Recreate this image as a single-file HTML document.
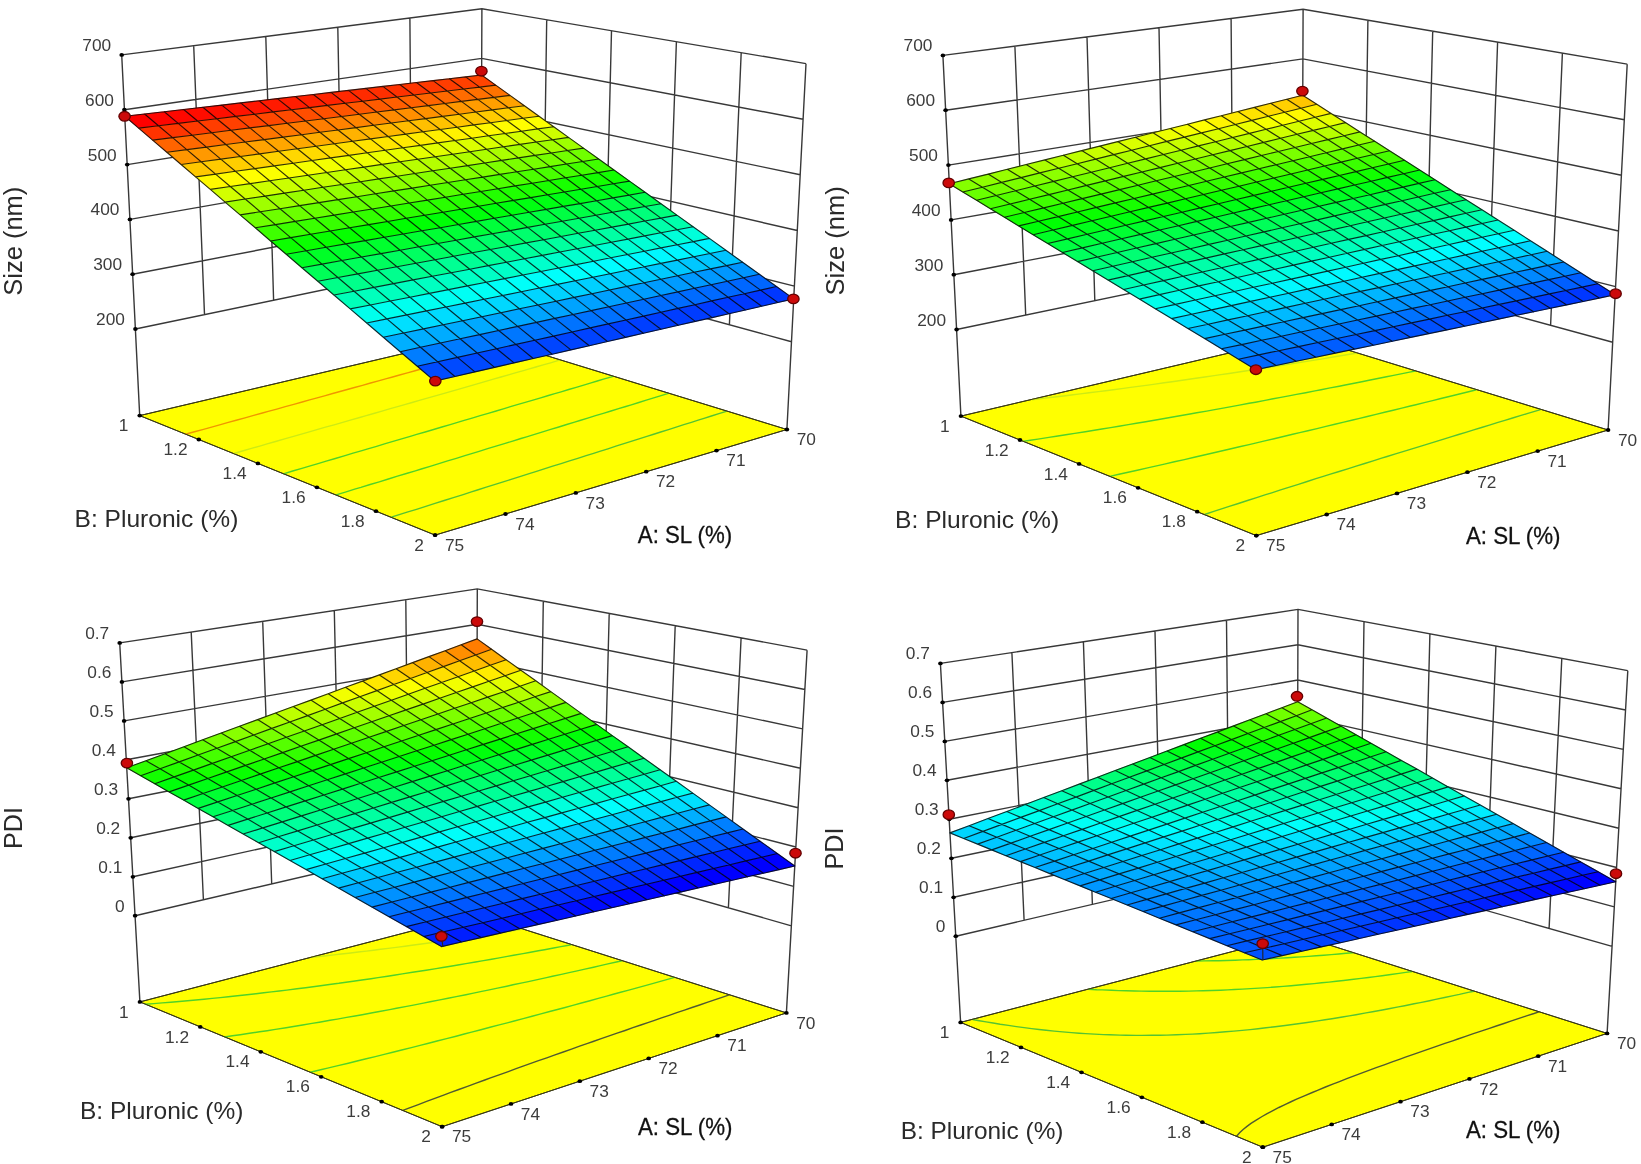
<!DOCTYPE html>
<html><head><meta charset="utf-8"><title>Response surface plots</title>
<style>
html,body{margin:0;padding:0;background:#fff;}
body{width:1641px;height:1164px;overflow:hidden;font-family:"Liberation Sans",Arial,sans-serif;}
svg{display:block;filter:blur(0.4px);}
</style></head><body>
<svg width="1641" height="1164" viewBox="0 0 1641 1164" font-family="'Liberation Sans', Arial, sans-serif">
<g><path d="M135.4 329.0L480.9 257.0L791.5 341.7M132.6 274.2L481.1 207.4L794.4 286.1M129.9 219.4L481.3 157.7L797.3 230.5M127.2 164.6L481.5 108.1L800.2 174.8M124.4 109.7L481.7 58.4L803.1 119.2M121.7 54.9L481.9 8.8L806.0 63.6M409.9 18.0L411.8 271.4M546.7 19.8L543.0 274.0M337.8 27.2L342.7 285.8M611.5 30.7L605.1 290.9M265.8 36.5L273.6 300.2M676.4 41.7L667.2 307.8M193.7 45.7L204.5 314.6M741.2 52.6L729.4 324.8M121.7 54.9L139.7 415.6M481.9 8.8L480.6 335.4M806.0 63.6L786.9 429.5" fill="none" stroke="#383838" stroke-width="1.4"/>
<polygon points="139.7,415.6 480.6,335.4 786.9,429.5 435.1,535.1" fill="#ffff00" stroke="#3a3a14" stroke-width="1"/>
<path d="M391.3 517.2L400.8 514.2L407.1 512.2L416.5 509.3L425.8 506.3L435.0 503.4L444.2 500.5L453.4 497.6L462.4 494.8L471.4 491.9L477.4 490.0L486.3 487.2L495.2 484.4L504.0 481.6L512.7 478.9L521.4 476.1L530.0 473.4L535.7 471.6L544.2 468.9L552.7 466.2L561.1 463.6L569.5 460.9L577.8 458.3L586.1 455.7L593.6 453.3L599.7 451.3L607.9 448.8L615.9 446.2L623.9 443.7L631.9 441.2L639.8 438.6L647.7 436.2L652.9 434.5L660.7 432.0L668.5 429.6L676.2 427.1L683.8 424.7L691.4 422.3L699.0 419.9L704.0 418.3L711.4 416.0L718.9 413.6L726.3 411.3L726.3 411.3" fill="none" stroke="#55c332" stroke-width="1.4"/>
<path d="M336.0 494.9L345.4 492.1L354.7 489.2L360.9 487.4L370.1 484.5L379.3 481.8L388.4 479.0L397.5 476.2L406.4 473.5L415.4 470.8L421.3 469.0L430.1 466.3L438.9 463.6L447.6 460.9L456.3 458.3L464.9 455.6L473.3 453.1L479.1 451.3L487.6 448.7L496.0 446.2L504.4 443.6L512.7 441.1L520.9 438.5L526.6 436.8L534.6 434.4L542.7 431.9L550.7 429.4L558.8 427.0L566.7 424.5L574.6 422.1L579.9 420.5L587.7 418.1L595.5 415.7L603.3 413.4L611.0 411.0L618.6 408.7L625.8 406.5L631.3 404.8L638.8 402.5L646.3 400.2L653.7 397.9L661.1 395.7L668.4 393.4L668.4 393.4" fill="none" stroke="#50d228" stroke-width="1.4"/>
<path d="M283.4 473.8L292.7 471.0L301.9 468.3L311.1 465.6L317.2 463.8L326.2 461.1L335.3 458.5L344.2 455.8L353.1 453.2L362.0 450.6L367.8 448.9L376.6 446.3L385.3 443.7L393.9 441.2L402.5 438.6L411.1 436.1L416.7 434.4L425.2 432.0L433.6 429.5L441.9 427.0L450.2 424.6L458.4 422.1L464.2 420.4L472.1 418.1L480.2 415.7L488.2 413.3L496.2 411.0L504.2 408.6L510.5 406.7L517.3 404.7L525.2 402.4L533.0 400.1L540.7 397.8L548.4 395.5L554.8 393.6L561.1 391.8L568.7 389.5L576.2 387.3L583.7 385.1L591.1 382.9L597.3 381.0L603.4 379.2L610.7 377.1L613.1 376.3" fill="none" stroke="#50d228" stroke-width="1.4"/>
<path d="M233.2 453.6L242.4 451.0L251.5 448.4L260.6 445.8L267.1 443.9L275.6 441.5L284.6 438.9L293.5 436.4L302.3 433.9L311.0 431.4L316.9 429.7L325.5 427.2L334.1 424.8L342.7 422.3L351.2 419.9L359.7 417.5L365.3 415.9L373.7 413.5L382.0 411.1L390.3 408.7L398.5 406.4L405.5 404.4L412.1 402.5L420.2 400.2L428.2 397.9L436.2 395.6L444.2 393.3L449.4 391.8L457.3 389.6L465.1 387.3L472.9 385.1L480.6 382.9L488.3 380.7L493.4 379.2L501.0 377.0L508.5 374.9L516.1 372.7L523.5 370.6L528.5 369.1L535.9 367.0L543.2 364.9L550.6 362.8L557.8 360.7L560.2 360.0" fill="none" stroke="#cdeb14" stroke-width="1.4"/>
<path d="M185.3 434.3L194.5 431.8L203.5 429.3L212.5 426.8L221.4 424.4L227.4 422.7L236.2 420.3L245.0 417.8L253.7 415.4L262.4 413.0L268.2 411.4L276.8 409.1L285.3 406.7L293.8 404.3L302.2 402.0L309.6 399.9L316.2 398.1L324.5 395.8L332.7 393.5L340.9 391.3L349.1 389.0L354.5 387.5L362.5 385.3L370.6 383.0L378.5 380.8L386.5 378.6L391.7 377.2L399.6 375.0L407.4 372.8L415.1 370.7L422.8 368.5L427.9 367.1L435.6 365.0L443.2 362.9L450.7 360.8L458.2 358.7L463.8 357.1L470.6 355.2L478.0 353.2L485.4 351.1L492.7 349.1L499.1 347.3L504.8 345.7L509.6 344.4" fill="none" stroke="#f09600" stroke-width="1.4"/>
<polygon points="139.7,415.6 480.6,335.4 786.9,429.5 435.1,535.1" fill="none" stroke="#3a3a14" stroke-width="1"/>
<g fill="#000"><ellipse cx="135.4" cy="329.0" rx="2.3" ry="1.9"/><ellipse cx="132.6" cy="274.2" rx="2.3" ry="1.9"/><ellipse cx="129.9" cy="219.4" rx="2.3" ry="1.9"/><ellipse cx="127.2" cy="164.6" rx="2.3" ry="1.9"/><ellipse cx="124.4" cy="109.7" rx="2.3" ry="1.9"/><ellipse cx="121.7" cy="54.9" rx="2.3" ry="1.9"/><ellipse cx="139.7" cy="415.6" rx="2.3" ry="1.9"/><ellipse cx="198.8" cy="439.5" rx="2.3" ry="1.9"/><ellipse cx="257.9" cy="463.4" rx="2.3" ry="1.9"/><ellipse cx="316.9" cy="487.3" rx="2.3" ry="1.9"/><ellipse cx="376.0" cy="511.2" rx="2.3" ry="1.9"/><ellipse cx="435.1" cy="535.1" rx="2.3" ry="1.9"/><ellipse cx="786.9" cy="429.5" rx="2.3" ry="1.9"/><ellipse cx="716.5" cy="450.6" rx="2.3" ry="1.9"/><ellipse cx="646.2" cy="471.7" rx="2.3" ry="1.9"/><ellipse cx="575.8" cy="492.9" rx="2.3" ry="1.9"/><ellipse cx="505.5" cy="514.0" rx="2.3" ry="1.9"/><ellipse cx="435.1" cy="535.1" rx="2.3" ry="1.9"/></g>
<g font-size="17.3" fill="#3c3c3c"><text x="124.9" y="325.0" text-anchor="end">200</text><text x="122.1" y="270.2" text-anchor="end">300</text><text x="119.4" y="215.4" text-anchor="end">400</text><text x="116.7" y="160.6" text-anchor="end">500</text><text x="113.9" y="105.7" text-anchor="end">600</text><text x="111.2" y="50.9" text-anchor="end">700</text><text x="128.4" y="431.2" text-anchor="end">1</text><text x="187.5" y="455.1" text-anchor="end">1.2</text><text x="246.6" y="479.0" text-anchor="end">1.4</text><text x="305.6" y="502.9" text-anchor="end">1.6</text><text x="364.7" y="526.8" text-anchor="end">1.8</text><text x="423.8" y="550.7" text-anchor="end">2</text><text x="796.7" y="445.1">70</text><text x="726.3" y="466.2">71</text><text x="656.0" y="487.3">72</text><text x="585.6" y="508.5">73</text><text x="515.3" y="529.6">74</text><text x="444.9" y="550.7">75</text></g>
<g stroke-width="0.7" stroke-linejoin="round"><polygon points="481.6,75.0 465.6,76.9 479.7,87.1 495.7,85.1" fill="#ff4400" stroke="#ff4400"/><polygon points="495.7,85.1 479.7,87.1 494.0,97.4 510.0,95.4" fill="#ff7300" stroke="#ff7300"/><polygon points="465.6,76.9 449.4,78.7 463.6,89.0 479.7,87.1" fill="#ff4000" stroke="#ff4000"/><polygon points="510.0,95.4 494.0,97.4 508.4,107.8 524.4,105.7" fill="#ffa200" stroke="#ffa200"/><polygon points="479.7,87.1 463.6,89.0 477.8,99.4 494.0,97.4" fill="#ff7000" stroke="#ff7000"/><polygon points="449.4,78.7 433.1,80.6 447.2,91.0 463.6,89.0" fill="#ff3d00" stroke="#ff3d00"/><polygon points="524.4,105.7 508.4,107.8 523.0,118.3 539.0,116.2" fill="#ffd100" stroke="#ffd100"/><polygon points="494.0,97.4 477.8,99.4 492.2,109.9 508.4,107.8" fill="#ff9f00" stroke="#ff9f00"/><polygon points="463.6,89.0 447.2,91.0 461.4,101.4 477.8,99.4" fill="#ff6c00" stroke="#ff6c00"/><polygon points="433.1,80.6 416.5,82.5 430.6,93.0 447.2,91.0" fill="#ff3900" stroke="#ff3900"/><polygon points="539.0,116.2 523.0,118.3 537.7,128.9 553.7,126.7" fill="#fdff00" stroke="#fdff00"/><polygon points="508.4,107.8 492.2,109.9 506.8,120.5 523.0,118.3" fill="#ffce00" stroke="#ffce00"/><polygon points="477.8,99.4 461.4,101.4 475.8,112.0 492.2,109.9" fill="#ff9c00" stroke="#ff9c00"/><polygon points="447.2,91.0 430.6,93.0 444.9,103.5 461.4,101.4" fill="#ff6900" stroke="#ff6900"/><polygon points="416.5,82.5 399.8,84.5 413.9,95.0 430.6,93.0" fill="#ff3600" stroke="#ff3600"/><polygon points="553.7,126.7 537.7,128.9 552.5,139.7 568.5,137.4" fill="#ceff00" stroke="#ceff00"/><polygon points="523.0,118.3 506.8,120.5 521.5,131.2 537.7,128.9" fill="#fffe00" stroke="#fffe00"/><polygon points="492.2,109.9 475.8,112.0 490.4,122.7 506.8,120.5" fill="#ffcb00" stroke="#ffcb00"/><polygon points="461.4,101.4 444.9,103.5 459.3,114.2 475.8,112.0" fill="#ff9800" stroke="#ff9800"/><polygon points="430.6,93.0 413.9,95.0 428.2,105.6 444.9,103.5" fill="#ff6500" stroke="#ff6500"/><polygon points="399.8,84.5 382.9,86.4 397.0,97.0 413.9,95.0" fill="#ff3200" stroke="#ff3200"/><polygon points="568.5,137.4 552.5,139.7 567.5,150.5 583.5,148.1" fill="#9fff00" stroke="#9fff00"/><polygon points="537.7,128.9 521.5,131.2 536.3,142.0 552.5,139.7" fill="#d1ff00" stroke="#d1ff00"/><polygon points="506.8,120.5 490.4,122.7 505.1,133.5 521.5,131.2" fill="#fffb00" stroke="#fffb00"/><polygon points="475.8,112.0 459.3,114.2 473.8,124.9 490.4,122.7" fill="#ffc800" stroke="#ffc800"/><polygon points="444.9,103.5 428.2,105.6 442.6,116.4 459.3,114.2" fill="#ff9500" stroke="#ff9500"/><polygon points="413.9,95.0 397.0,97.0 411.2,107.7 428.2,105.6" fill="#ff6200" stroke="#ff6200"/><polygon points="382.9,86.4 365.8,88.4 379.9,99.1 397.0,97.0" fill="#ff2f00" stroke="#ff2f00"/><polygon points="583.5,148.1 567.5,150.5 582.7,161.5 598.7,159.0" fill="#70ff00" stroke="#70ff00"/><polygon points="552.5,139.7 536.3,142.0 551.3,153.0 567.5,150.5" fill="#a2ff00" stroke="#a2ff00"/><polygon points="521.5,131.2 505.1,133.5 520.0,144.4 536.3,142.0" fill="#d4ff00" stroke="#d4ff00"/><polygon points="490.4,122.7 473.8,124.9 488.5,135.8 505.1,133.5" fill="#fff800" stroke="#fff800"/><polygon points="459.3,114.2 442.6,116.4 457.1,127.2 473.8,124.9" fill="#ffc500" stroke="#ffc500"/><polygon points="428.2,105.6 411.2,107.7 425.6,118.6 442.6,116.4" fill="#ff9200" stroke="#ff9200"/><polygon points="397.0,97.0 379.9,99.1 394.1,109.9 411.2,107.7" fill="#ff5f00" stroke="#ff5f00"/><polygon points="365.8,88.4 348.5,90.4 362.6,101.2 379.9,99.1" fill="#ff2b00" stroke="#ff2b00"/><polygon points="598.7,159.0 582.7,161.5 598.0,172.6 614.0,170.0" fill="#40ff00" stroke="#40ff00"/><polygon points="567.5,150.5 551.3,153.0 566.5,164.0 582.7,161.5" fill="#72ff00" stroke="#72ff00"/><polygon points="536.3,142.0 520.0,144.4 535.0,155.4 551.3,153.0" fill="#a4ff00" stroke="#a4ff00"/><polygon points="505.1,133.5 488.5,135.8 503.4,146.8 520.0,144.4" fill="#d7ff00" stroke="#d7ff00"/><polygon points="473.8,124.9 457.1,127.2 471.8,138.2 488.5,135.8" fill="#fff500" stroke="#fff500"/><polygon points="442.6,116.4 425.6,118.6 440.2,129.5 457.1,127.2" fill="#ffc200" stroke="#ffc200"/><polygon points="411.2,107.7 394.1,109.9 408.5,120.8 425.6,118.6" fill="#ff8f00" stroke="#ff8f00"/><polygon points="379.9,99.1 362.6,101.2 376.8,112.0 394.1,109.9" fill="#ff5b00" stroke="#ff5b00"/><polygon points="348.5,90.4 331.0,92.4 345.1,103.3 362.6,101.2" fill="#ff2800" stroke="#ff2800"/><polygon points="614.0,170.0 598.0,172.6 613.5,183.8 629.5,181.1" fill="#11ff00" stroke="#11ff00"/><polygon points="582.7,161.5 566.5,164.0 581.8,175.2 598.0,172.6" fill="#43ff00" stroke="#43ff00"/><polygon points="551.3,153.0 535.0,155.4 550.1,166.6 566.5,164.0" fill="#75ff00" stroke="#75ff00"/><polygon points="520.0,144.4 503.4,146.8 518.4,157.9 535.0,155.4" fill="#a7ff00" stroke="#a7ff00"/><polygon points="488.5,135.8 471.8,138.2 486.6,149.3 503.4,146.8" fill="#daff00" stroke="#daff00"/><polygon points="457.1,127.2 440.2,129.5 454.9,140.5 471.8,138.2" fill="#fff200" stroke="#fff200"/><polygon points="425.6,118.6 408.5,120.8 423.0,131.8 440.2,129.5" fill="#ffbf00" stroke="#ffbf00"/><polygon points="394.1,109.9 376.8,112.0 391.2,123.0 408.5,120.8" fill="#ff8b00" stroke="#ff8b00"/><polygon points="362.6,101.2 345.1,103.3 359.3,114.2 376.8,112.0" fill="#ff5800" stroke="#ff5800"/><polygon points="331.0,92.4 313.4,94.5 327.4,105.4 345.1,103.3" fill="#ff2400" stroke="#ff2400"/><polygon points="629.5,181.1 613.5,183.8 629.1,195.1 645.1,192.3" fill="#00ff1e" stroke="#00ff1e"/><polygon points="598.0,172.6 581.8,175.2 597.3,186.5 613.5,183.8" fill="#13ff00" stroke="#13ff00"/><polygon points="566.5,164.0 550.1,166.6 565.5,177.8 581.8,175.2" fill="#45ff00" stroke="#45ff00"/><polygon points="535.0,155.4 518.4,157.9 533.6,169.2 550.1,166.6" fill="#77ff00" stroke="#77ff00"/><polygon points="503.4,146.8 486.6,149.3 501.6,160.4 518.4,157.9" fill="#aaff00" stroke="#aaff00"/><polygon points="471.8,138.2 454.9,140.5 469.7,151.7 486.6,149.3" fill="#dcff00" stroke="#dcff00"/><polygon points="440.2,129.5 423.0,131.8 437.7,142.9 454.9,140.5" fill="#ffef00" stroke="#ffef00"/><polygon points="408.5,120.8 391.2,123.0 405.7,134.1 423.0,131.8" fill="#ffbc00" stroke="#ffbc00"/><polygon points="376.8,112.0 359.3,114.2 373.7,125.3 391.2,123.0" fill="#ff8800" stroke="#ff8800"/><polygon points="345.1,103.3 327.4,105.4 341.6,116.5 359.3,114.2" fill="#ff5500" stroke="#ff5500"/><polygon points="313.4,94.5 295.5,96.5 309.5,107.6 327.4,105.4" fill="#ff2100" stroke="#ff2100"/><polygon points="645.1,192.3 629.1,195.1 645.0,206.5 661.0,203.7" fill="#00ff4d" stroke="#00ff4d"/><polygon points="613.5,183.8 597.3,186.5 613.0,197.9 629.1,195.1" fill="#00ff1c" stroke="#00ff1c"/><polygon points="581.8,175.2 565.5,177.8 580.9,189.2 597.3,186.5" fill="#16ff00" stroke="#16ff00"/><polygon points="550.1,166.6 533.6,169.2 548.9,180.5 565.5,177.8" fill="#48ff00" stroke="#48ff00"/><polygon points="518.4,157.9 501.6,160.4 516.8,171.8 533.6,169.2" fill="#7aff00" stroke="#7aff00"/><polygon points="486.6,149.3 469.7,151.7 484.7,163.0 501.6,160.4" fill="#adff00" stroke="#adff00"/><polygon points="454.9,140.5 437.7,142.9 452.6,154.2 469.7,151.7" fill="#dfff00" stroke="#dfff00"/><polygon points="423.0,131.8 405.7,134.1 420.4,145.4 437.7,142.9" fill="#ffec00" stroke="#ffec00"/><polygon points="391.2,123.0 373.7,125.3 388.2,136.5 405.7,134.1" fill="#ffb800" stroke="#ffb800"/><polygon points="359.3,114.2 341.6,116.5 356.0,127.6 373.7,125.3" fill="#ff8500" stroke="#ff8500"/><polygon points="327.4,105.4 309.5,107.6 323.7,118.7 341.6,116.5" fill="#ff5100" stroke="#ff5100"/><polygon points="295.5,96.5 277.4,98.6 291.4,109.7 309.5,107.6" fill="#ff1d00" stroke="#ff1d00"/><polygon points="661.0,203.7 645.0,206.5 660.9,218.1 676.9,215.1" fill="#00ff7d" stroke="#00ff7d"/><polygon points="629.1,195.1 613.0,197.9 628.8,209.4 645.0,206.5" fill="#00ff4b" stroke="#00ff4b"/><polygon points="597.3,186.5 580.9,189.2 596.6,200.7 613.0,197.9" fill="#00ff1a" stroke="#00ff1a"/><polygon points="565.5,177.8 548.9,180.5 564.4,192.0 580.9,189.2" fill="#18ff00" stroke="#18ff00"/><polygon points="533.6,169.2 516.8,171.8 532.1,183.2 548.9,180.5" fill="#4aff00" stroke="#4aff00"/><polygon points="501.6,160.4 484.7,163.0 499.9,174.4 516.8,171.8" fill="#7dff00" stroke="#7dff00"/><polygon points="469.7,151.7 452.6,154.2 467.6,165.6 484.7,163.0" fill="#afff00" stroke="#afff00"/><polygon points="437.7,142.9 420.4,145.4 435.2,156.7 452.6,154.2" fill="#e2ff00" stroke="#e2ff00"/><polygon points="405.7,134.1 388.2,136.5 402.9,147.8 420.4,145.4" fill="#ffe900" stroke="#ffe900"/><polygon points="373.7,125.3 356.0,127.6 370.5,138.9 388.2,136.5" fill="#ffb500" stroke="#ffb500"/><polygon points="341.6,116.5 323.7,118.7 338.0,130.0 356.0,127.6" fill="#ff8200" stroke="#ff8200"/><polygon points="309.5,107.6 291.4,109.7 305.6,121.0 323.7,118.7" fill="#ff4e00" stroke="#ff4e00"/><polygon points="277.4,98.6 259.1,100.8 273.1,111.9 291.4,109.7" fill="#ff1a00" stroke="#ff1a00"/><polygon points="676.9,215.1 660.9,218.1 677.1,229.8 693.1,226.7" fill="#00ffac" stroke="#00ffac"/><polygon points="645.0,206.5 628.8,209.4 644.8,221.0 660.9,218.1" fill="#00ff7b" stroke="#00ff7b"/><polygon points="613.0,197.9 596.6,200.7 612.4,212.3 628.8,209.4" fill="#00ff49" stroke="#00ff49"/><polygon points="580.9,189.2 564.4,192.0 580.0,203.6 596.6,200.7" fill="#00ff17" stroke="#00ff17"/><polygon points="548.9,180.5 532.1,183.2 547.6,194.8 564.4,192.0" fill="#1bff00" stroke="#1bff00"/><polygon points="516.8,171.8 499.9,174.4 515.2,185.9 532.1,183.2" fill="#4dff00" stroke="#4dff00"/><polygon points="484.7,163.0 467.6,165.6 482.7,177.1 499.9,174.4" fill="#7fff00" stroke="#7fff00"/><polygon points="452.6,154.2 435.2,156.7 450.2,168.2 467.6,165.6" fill="#b2ff00" stroke="#b2ff00"/><polygon points="420.4,145.4 402.9,147.8 417.7,159.3 435.2,156.7" fill="#e5ff00" stroke="#e5ff00"/><polygon points="388.2,136.5 370.5,138.9 385.1,150.3 402.9,147.8" fill="#ffe600" stroke="#ffe600"/><polygon points="356.0,127.6 338.0,130.0 352.5,141.3 370.5,138.9" fill="#ffb200" stroke="#ffb200"/><polygon points="323.7,118.7 305.6,121.0 319.9,132.3 338.0,130.0" fill="#ff7e00" stroke="#ff7e00"/><polygon points="291.4,109.7 273.1,111.9 287.2,123.3 305.6,121.0" fill="#ff4a00" stroke="#ff4a00"/><polygon points="259.1,100.8 240.6,102.9 254.6,114.2 273.1,111.9" fill="#ff1600" stroke="#ff1600"/><polygon points="693.1,226.7 677.1,229.8 693.4,241.6 709.4,238.4" fill="#00ffdb" stroke="#00ffdb"/><polygon points="660.9,218.1 644.8,221.0 660.9,232.8 677.1,229.8" fill="#00ffaa" stroke="#00ffaa"/><polygon points="628.8,209.4 612.4,212.3 628.4,224.1 644.8,221.0" fill="#00ff79" stroke="#00ff79"/><polygon points="596.6,200.7 580.0,203.6 595.9,215.3 612.4,212.3" fill="#00ff47" stroke="#00ff47"/><polygon points="564.4,192.0 547.6,194.8 563.3,206.4 580.0,203.6" fill="#00ff15" stroke="#00ff15"/><polygon points="532.1,183.2 515.2,185.9 530.7,197.6 547.6,194.8" fill="#1dff00" stroke="#1dff00"/><polygon points="499.9,174.4 482.7,177.1 498.0,188.7 515.2,185.9" fill="#4fff00" stroke="#4fff00"/><polygon points="467.6,165.6 450.2,168.2 465.4,179.8 482.7,177.1" fill="#82ff00" stroke="#82ff00"/><polygon points="435.2,156.7 417.7,159.3 432.7,170.8 450.2,168.2" fill="#b5ff00" stroke="#b5ff00"/><polygon points="402.9,147.8 385.1,150.3 399.9,161.8 417.7,159.3" fill="#e8ff00" stroke="#e8ff00"/><polygon points="370.5,138.9 352.5,141.3 367.2,152.8 385.1,150.3" fill="#ffe300" stroke="#ffe300"/><polygon points="338.0,130.0 319.9,132.3 334.4,143.8 352.5,141.3" fill="#ffaf00" stroke="#ffaf00"/><polygon points="305.6,121.0 287.2,123.3 301.6,134.7 319.9,132.3" fill="#ff7b00" stroke="#ff7b00"/><polygon points="273.1,111.9 254.6,114.2 268.7,125.6 287.2,123.3" fill="#ff4700" stroke="#ff4700"/><polygon points="240.6,102.9 221.8,105.1 235.8,116.4 254.6,114.2" fill="#ff1300" stroke="#ff1300"/><polygon points="709.4,238.4 693.4,241.6 709.9,253.5 725.9,250.3" fill="#00f4ff" stroke="#00f4ff"/><polygon points="677.1,229.8 660.9,232.8 677.3,244.7 693.4,241.6" fill="#00ffd9" stroke="#00ffd9"/><polygon points="644.8,221.0 628.4,224.1 644.6,235.9 660.9,232.8" fill="#00ffa8" stroke="#00ffa8"/><polygon points="612.4,212.3 595.9,215.3 611.9,227.1 628.4,224.1" fill="#00ff77" stroke="#00ff77"/><polygon points="580.0,203.6 563.3,206.4 579.1,218.3 595.9,215.3" fill="#00ff45" stroke="#00ff45"/><polygon points="547.6,194.8 530.7,197.6 546.3,209.4 563.3,206.4" fill="#00ff13" stroke="#00ff13"/><polygon points="515.2,185.9 498.0,188.7 513.5,200.4 530.7,197.6" fill="#1fff00" stroke="#1fff00"/><polygon points="482.7,177.1 465.4,179.8 480.7,191.5 498.0,188.7" fill="#52ff00" stroke="#52ff00"/><polygon points="450.2,168.2 432.7,170.8 447.8,182.5 465.4,179.8" fill="#85ff00" stroke="#85ff00"/><polygon points="417.7,159.3 399.9,161.8 414.9,173.5 432.7,170.8" fill="#b8ff00" stroke="#b8ff00"/><polygon points="385.1,150.3 367.2,152.8 382.0,164.4 399.9,161.8" fill="#ebff00" stroke="#ebff00"/><polygon points="352.5,141.3 334.4,143.8 349.0,155.4 367.2,152.8" fill="#ffe000" stroke="#ffe000"/><polygon points="319.9,132.3 301.6,134.7 316.0,146.3 334.4,143.8" fill="#ffac00" stroke="#ffac00"/><polygon points="287.2,123.3 268.7,125.6 283.0,137.1 301.6,134.7" fill="#ff7800" stroke="#ff7800"/><polygon points="254.6,114.2 235.8,116.4 249.9,127.9 268.7,125.6" fill="#ff4400" stroke="#ff4400"/><polygon points="221.8,105.1 202.9,107.3 216.8,118.7 235.8,116.4" fill="#ff0f00" stroke="#ff0f00"/><polygon points="725.9,250.3 709.9,253.5 726.6,265.6 742.6,262.2" fill="#00c4ff" stroke="#00c4ff"/><polygon points="693.4,241.6 677.3,244.7 693.8,256.8 709.9,253.5" fill="#00f5ff" stroke="#00f5ff"/><polygon points="660.9,232.8 644.6,235.9 660.9,247.9 677.3,244.7" fill="#00ffd8" stroke="#00ffd8"/><polygon points="628.4,224.1 611.9,227.1 628.0,239.1 644.6,235.9" fill="#00ffa6" stroke="#00ffa6"/><polygon points="595.9,215.3 579.1,218.3 595.1,230.2 611.9,227.1" fill="#00ff75" stroke="#00ff75"/><polygon points="563.3,206.4 546.3,209.4 562.2,221.3 579.1,218.3" fill="#00ff43" stroke="#00ff43"/><polygon points="530.7,197.6 513.5,200.4 529.2,212.3 546.3,209.4" fill="#00ff11" stroke="#00ff11"/><polygon points="498.0,188.7 480.7,191.5 496.2,203.3 513.5,200.4" fill="#22ff00" stroke="#22ff00"/><polygon points="465.4,179.8 447.8,182.5 463.1,194.3 480.7,191.5" fill="#54ff00" stroke="#54ff00"/><polygon points="432.7,170.8 414.9,173.5 430.1,185.3 447.8,182.5" fill="#87ff00" stroke="#87ff00"/><polygon points="399.9,161.8 382.0,164.4 397.0,176.2 414.9,173.5" fill="#baff00" stroke="#baff00"/><polygon points="367.2,152.8 349.0,155.4 363.8,167.1 382.0,164.4" fill="#eeff00" stroke="#eeff00"/><polygon points="334.4,143.8 316.0,146.3 330.6,157.9 349.0,155.4" fill="#ffdd00" stroke="#ffdd00"/><polygon points="301.6,134.7 283.0,137.1 297.4,148.8 316.0,146.3" fill="#ffa900" stroke="#ffa900"/><polygon points="268.7,125.6 249.9,127.9 264.2,139.6 283.0,137.1" fill="#ff7500" stroke="#ff7500"/><polygon points="235.8,116.4 216.8,118.7 230.9,130.3 249.9,127.9" fill="#ff4000" stroke="#ff4000"/><polygon points="202.9,107.3 183.7,109.5 197.6,121.0 216.8,118.7" fill="#ff0c00" stroke="#ff0c00"/><polygon points="742.6,262.2 726.6,265.6 743.5,277.7 759.4,274.3" fill="#0095ff" stroke="#0095ff"/><polygon points="709.9,253.5 693.8,256.8 710.5,268.9 726.6,265.6" fill="#00c6ff" stroke="#00c6ff"/><polygon points="677.3,244.7 660.9,247.9 677.4,260.1 693.8,256.8" fill="#00f7ff" stroke="#00f7ff"/><polygon points="644.6,235.9 628.0,239.1 644.4,251.2 660.9,247.9" fill="#00ffd6" stroke="#00ffd6"/><polygon points="611.9,227.1 595.1,230.2 611.3,242.3 628.0,239.1" fill="#00ffa4" stroke="#00ffa4"/><polygon points="579.1,218.3 562.2,221.3 578.2,233.3 595.1,230.2" fill="#00ff73" stroke="#00ff73"/><polygon points="546.3,209.4 529.2,212.3 545.0,224.3 562.2,221.3" fill="#00ff41" stroke="#00ff41"/><polygon points="513.5,200.4 496.2,203.3 511.8,215.3 529.2,212.3" fill="#00ff0f" stroke="#00ff0f"/><polygon points="480.7,191.5 463.1,194.3 478.6,206.3 496.2,203.3" fill="#24ff00" stroke="#24ff00"/><polygon points="447.8,182.5 430.1,185.3 445.4,197.2 463.1,194.3" fill="#57ff00" stroke="#57ff00"/><polygon points="414.9,173.5 397.0,176.2 412.1,188.1 430.1,185.3" fill="#8aff00" stroke="#8aff00"/><polygon points="382.0,164.4 363.8,167.1 378.8,178.9 397.0,176.2" fill="#bdff00" stroke="#bdff00"/><polygon points="349.0,155.4 330.6,157.9 345.4,169.8 363.8,167.1" fill="#f0ff00" stroke="#f0ff00"/><polygon points="316.0,146.3 297.4,148.8 312.0,160.5 330.6,157.9" fill="#ffda00" stroke="#ffda00"/><polygon points="283.0,137.1 264.2,139.6 278.6,151.3 297.4,148.8" fill="#ffa600" stroke="#ffa600"/><polygon points="249.9,127.9 230.9,130.3 245.2,142.0 264.2,139.6" fill="#ff7100" stroke="#ff7100"/><polygon points="216.8,118.7 197.6,121.0 211.7,132.7 230.9,130.3" fill="#ff3d00" stroke="#ff3d00"/><polygon points="183.7,109.5 164.3,111.7 178.2,123.4 197.6,121.0" fill="#ff0800" stroke="#ff0800"/><polygon points="759.4,274.3 743.5,277.7 760.5,290.1 776.5,286.5" fill="#0066ff" stroke="#0066ff"/><polygon points="726.6,265.6 710.5,268.9 727.4,281.2 743.5,277.7" fill="#0097ff" stroke="#0097ff"/><polygon points="693.8,256.8 677.4,260.1 694.1,272.3 710.5,268.9" fill="#00c7ff" stroke="#00c7ff"/><polygon points="660.9,247.9 644.4,251.2 660.9,263.4 677.4,260.1" fill="#00f8ff" stroke="#00f8ff"/><polygon points="628.0,239.1 611.3,242.3 627.6,254.5 644.4,251.2" fill="#00ffd4" stroke="#00ffd4"/><polygon points="595.1,230.2 578.2,233.3 594.3,245.5 611.3,242.3" fill="#00ffa3" stroke="#00ffa3"/><polygon points="562.2,221.3 545.0,224.3 561.0,236.5 578.2,233.3" fill="#00ff71" stroke="#00ff71"/><polygon points="529.2,212.3 511.8,215.3 527.7,227.4 545.0,224.3" fill="#00ff3f" stroke="#00ff3f"/><polygon points="496.2,203.3 478.6,206.3 494.3,218.3 511.8,215.3" fill="#00ff0c" stroke="#00ff0c"/><polygon points="463.1,194.3 445.4,197.2 460.8,209.2 478.6,206.3" fill="#26ff00" stroke="#26ff00"/><polygon points="430.1,185.3 412.1,188.1 427.4,200.1 445.4,197.2" fill="#59ff00" stroke="#59ff00"/><polygon points="397.0,176.2 378.8,178.9 393.9,190.9 412.1,188.1" fill="#8cff00" stroke="#8cff00"/><polygon points="363.8,167.1 345.4,169.8 360.4,181.7 378.8,178.9" fill="#c0ff00" stroke="#c0ff00"/><polygon points="330.6,157.9 312.0,160.5 326.8,172.5 345.4,169.8" fill="#f3ff00" stroke="#f3ff00"/><polygon points="297.4,148.8 278.6,151.3 293.2,163.2 312.0,160.5" fill="#ffd700" stroke="#ffd700"/><polygon points="264.2,139.6 245.2,142.0 259.6,153.9 278.6,151.3" fill="#ffa300" stroke="#ffa300"/><polygon points="230.9,130.3 211.7,132.7 225.9,144.5 245.2,142.0" fill="#ff6e00" stroke="#ff6e00"/><polygon points="197.6,121.0 178.2,123.4 192.2,135.2 211.7,132.7" fill="#ff3a00" stroke="#ff3a00"/><polygon points="164.3,111.7 144.6,114.0 158.5,125.7 178.2,123.4" fill="#ff0500" stroke="#ff0500"/><polygon points="776.5,286.5 760.5,290.1 777.8,302.5 793.7,298.9" fill="#0037ff" stroke="#0037ff"/><polygon points="743.5,277.7 727.4,281.2 744.4,293.7 760.5,290.1" fill="#0067ff" stroke="#0067ff"/><polygon points="710.5,268.9 694.1,272.3 711.0,284.7 727.4,281.2" fill="#0098ff" stroke="#0098ff"/><polygon points="677.4,260.1 660.9,263.4 677.6,275.8 694.1,272.3" fill="#00c9ff" stroke="#00c9ff"/><polygon points="644.4,251.2 627.6,254.5 644.2,266.8 660.9,263.4" fill="#00faff" stroke="#00faff"/><polygon points="611.3,242.3 594.3,245.5 610.7,257.8 627.6,254.5" fill="#00ffd2" stroke="#00ffd2"/><polygon points="578.2,233.3 561.0,236.5 577.2,248.7 594.3,245.5" fill="#00ffa1" stroke="#00ffa1"/><polygon points="545.0,224.3 527.7,227.4 543.7,239.7 561.0,236.5" fill="#00ff6f" stroke="#00ff6f"/><polygon points="511.8,215.3 494.3,218.3 510.1,230.6 527.7,227.4" fill="#00ff3d" stroke="#00ff3d"/><polygon points="478.6,206.3 460.8,209.2 476.5,221.4 494.3,218.3" fill="#00ff0a" stroke="#00ff0a"/><polygon points="445.4,197.2 427.4,200.1 442.9,212.2 460.8,209.2" fill="#29ff00" stroke="#29ff00"/><polygon points="412.1,188.1 393.9,190.9 409.2,203.0 427.4,200.1" fill="#5cff00" stroke="#5cff00"/><polygon points="378.8,178.9 360.4,181.7 375.5,193.8 393.9,190.9" fill="#8fff00" stroke="#8fff00"/><polygon points="345.4,169.8 326.8,172.5 341.8,184.5 360.4,181.7" fill="#c2ff00" stroke="#c2ff00"/><polygon points="312.0,160.5 293.2,163.2 308.0,175.2 326.8,172.5" fill="#f6ff00" stroke="#f6ff00"/><polygon points="278.6,151.3 259.6,153.9 274.2,165.9 293.2,163.2" fill="#ffd400" stroke="#ffd400"/><polygon points="245.2,142.0 225.9,144.5 240.3,156.5 259.6,153.9" fill="#ff9f00" stroke="#ff9f00"/><polygon points="211.7,132.7 192.2,135.2 206.5,147.1 225.9,144.5" fill="#ff6b00" stroke="#ff6b00"/><polygon points="178.2,123.4 158.5,125.7 172.6,137.6 192.2,135.2" fill="#ff3600" stroke="#ff3600"/><polygon points="144.6,114.0 124.8,116.3 138.6,128.1 158.5,125.7" fill="#ff0100" stroke="#ff0100"/><polygon points="760.5,290.1 744.4,293.7 761.7,306.2 777.8,302.5" fill="#0038ff" stroke="#0038ff"/><polygon points="727.4,281.2 711.0,284.7 728.1,297.3 744.4,293.7" fill="#0068ff" stroke="#0068ff"/><polygon points="694.1,272.3 677.6,275.8 694.5,288.3 711.0,284.7" fill="#0099ff" stroke="#0099ff"/><polygon points="660.9,263.4 644.2,266.8 660.9,279.3 677.6,275.8" fill="#00caff" stroke="#00caff"/><polygon points="627.6,254.5 610.7,257.8 627.2,270.2 644.2,266.8" fill="#00fcff" stroke="#00fcff"/><polygon points="594.3,245.5 577.2,248.7 593.6,261.2 610.7,257.8" fill="#00ffd1" stroke="#00ffd1"/><polygon points="561.0,236.5 543.7,239.7 559.8,252.0 577.2,248.7" fill="#00ff9f" stroke="#00ff9f"/><polygon points="527.7,227.4 510.1,230.6 526.1,242.9 543.7,239.7" fill="#00ff6d" stroke="#00ff6d"/><polygon points="494.3,218.3 476.5,221.4 492.3,233.7 510.1,230.6" fill="#00ff3a" stroke="#00ff3a"/><polygon points="460.8,209.2 442.9,212.2 458.5,224.5 476.5,221.4" fill="#00ff08" stroke="#00ff08"/><polygon points="427.4,200.1 409.2,203.0 424.6,215.3 442.9,212.2" fill="#2bff00" stroke="#2bff00"/><polygon points="393.9,190.9 375.5,193.8 390.8,206.0 409.2,203.0" fill="#5eff00" stroke="#5eff00"/><polygon points="360.4,181.7 341.8,184.5 356.9,196.7 375.5,193.8" fill="#92ff00" stroke="#92ff00"/><polygon points="326.8,172.5 308.0,175.2 322.9,187.3 341.8,184.5" fill="#c5ff00" stroke="#c5ff00"/><polygon points="293.2,163.2 274.2,165.9 288.9,178.0 308.0,175.2" fill="#f9ff00" stroke="#f9ff00"/><polygon points="259.6,153.9 240.3,156.5 254.9,168.6 274.2,165.9" fill="#ffd100" stroke="#ffd100"/><polygon points="225.9,144.5 206.5,147.1 220.8,159.1 240.3,156.5" fill="#ff9c00" stroke="#ff9c00"/><polygon points="192.2,135.2 172.6,137.6 186.8,149.6 206.5,147.1" fill="#ff6800" stroke="#ff6800"/><polygon points="158.5,125.7 138.6,128.1 152.6,140.1 172.6,137.6" fill="#ff3300" stroke="#ff3300"/><polygon points="744.4,293.7 728.1,297.3 745.4,310.0 761.7,306.2" fill="#0039ff" stroke="#0039ff"/><polygon points="711.0,284.7 694.5,288.3 711.6,300.9 728.1,297.3" fill="#006aff" stroke="#006aff"/><polygon points="677.6,275.8 660.9,279.3 677.8,291.9 694.5,288.3" fill="#009bff" stroke="#009bff"/><polygon points="644.2,266.8 627.2,270.2 644.0,282.8 660.9,279.3" fill="#00ccff" stroke="#00ccff"/><polygon points="610.7,257.8 593.6,261.2 610.1,273.7 627.2,270.2" fill="#00fdff" stroke="#00fdff"/><polygon points="577.2,248.7 559.8,252.0 576.2,264.6 593.6,261.2" fill="#00ffcf" stroke="#00ffcf"/><polygon points="543.7,239.7 526.1,242.9 542.3,255.4 559.8,252.0" fill="#00ff9d" stroke="#00ff9d"/><polygon points="510.1,230.6 492.3,233.7 508.3,246.2 526.1,242.9" fill="#00ff6b" stroke="#00ff6b"/><polygon points="476.5,221.4 458.5,224.5 474.3,236.9 492.3,233.7" fill="#00ff38" stroke="#00ff38"/><polygon points="442.9,212.2 424.6,215.3 440.3,227.7 458.5,224.5" fill="#00ff06" stroke="#00ff06"/><polygon points="409.2,203.0 390.8,206.0 406.2,218.3 424.6,215.3" fill="#2dff00" stroke="#2dff00"/><polygon points="375.5,193.8 356.9,196.7 372.1,209.0 390.8,206.0" fill="#61ff00" stroke="#61ff00"/><polygon points="341.8,184.5 322.9,187.3 338.0,199.6 356.9,196.7" fill="#94ff00" stroke="#94ff00"/><polygon points="308.0,175.2 288.9,178.0 303.8,190.2 322.9,187.3" fill="#c8ff00" stroke="#c8ff00"/><polygon points="274.2,165.9 254.9,168.6 269.6,180.8 288.9,178.0" fill="#fcff00" stroke="#fcff00"/><polygon points="240.3,156.5 220.8,159.1 235.4,171.3 254.9,168.6" fill="#ffce00" stroke="#ffce00"/><polygon points="206.5,147.1 186.8,149.6 201.1,161.8 220.8,159.1" fill="#ff9900" stroke="#ff9900"/><polygon points="172.6,137.6 152.6,140.1 166.8,152.2 186.8,149.6" fill="#ff6400" stroke="#ff6400"/><polygon points="728.1,297.3 711.6,300.9 728.9,313.7 745.4,310.0" fill="#003aff" stroke="#003aff"/><polygon points="694.5,288.3 677.8,291.9 694.9,304.7 711.6,300.9" fill="#006bff" stroke="#006bff"/><polygon points="660.9,279.3 644.0,282.8 660.9,295.5 677.8,291.9" fill="#009cff" stroke="#009cff"/><polygon points="627.2,270.2 610.1,273.7 626.8,286.4 644.0,282.8" fill="#00cdff" stroke="#00cdff"/><polygon points="593.6,261.2 576.2,264.6 592.8,277.2 610.1,273.7" fill="#00ffff" stroke="#00ffff"/><polygon points="559.8,252.0 542.3,255.4 558.6,268.0 576.2,264.6" fill="#00ffcd" stroke="#00ffcd"/><polygon points="526.1,242.9 508.3,246.2 524.5,258.8 542.3,255.4" fill="#00ff9b" stroke="#00ff9b"/><polygon points="492.3,233.7 474.3,236.9 490.3,249.5 508.3,246.2" fill="#00ff69" stroke="#00ff69"/><polygon points="458.5,224.5 440.3,227.7 456.1,240.2 474.3,236.9" fill="#00ff36" stroke="#00ff36"/><polygon points="424.6,215.3 406.2,218.3 421.8,230.8 440.3,227.7" fill="#00ff03" stroke="#00ff03"/><polygon points="390.8,206.0 372.1,209.0 387.6,221.5 406.2,218.3" fill="#30ff00" stroke="#30ff00"/><polygon points="356.9,196.7 338.0,199.6 353.2,212.0 372.1,209.0" fill="#63ff00" stroke="#63ff00"/><polygon points="322.9,187.3 303.8,190.2 318.9,202.6 338.0,199.6" fill="#97ff00" stroke="#97ff00"/><polygon points="288.9,178.0 269.6,180.8 284.5,193.1 303.8,190.2" fill="#cbff00" stroke="#cbff00"/><polygon points="254.9,168.6 235.4,171.3 250.1,183.6 269.6,180.8" fill="#ffff00" stroke="#ffff00"/><polygon points="220.8,159.1 201.1,161.8 215.6,174.1 235.4,171.3" fill="#ffcb00" stroke="#ffcb00"/><polygon points="186.8,149.6 166.8,152.2 181.1,164.5 201.1,161.8" fill="#ff9600" stroke="#ff9600"/><polygon points="711.6,300.9 694.9,304.7 712.2,317.6 728.9,313.7" fill="#003bff" stroke="#003bff"/><polygon points="677.8,291.9 660.9,295.5 678.0,308.4 694.9,304.7" fill="#006cff" stroke="#006cff"/><polygon points="644.0,282.8 626.8,286.4 643.8,299.2 660.9,295.5" fill="#009dff" stroke="#009dff"/><polygon points="610.1,273.7 592.8,277.2 609.5,290.0 626.8,286.4" fill="#00cfff" stroke="#00cfff"/><polygon points="576.2,264.6 558.6,268.0 575.2,280.8 592.8,277.2" fill="#00fffe" stroke="#00fffe"/><polygon points="542.3,255.4 524.5,258.8 540.9,271.5 558.6,268.0" fill="#00ffcc" stroke="#00ffcc"/><polygon points="508.3,246.2 490.3,249.5 506.5,262.2 524.5,258.8" fill="#00ff99" stroke="#00ff99"/><polygon points="474.3,236.9 456.1,240.2 472.1,252.8 490.3,249.5" fill="#00ff67" stroke="#00ff67"/><polygon points="440.3,227.7 421.8,230.8 437.7,243.5 456.1,240.2" fill="#00ff34" stroke="#00ff34"/><polygon points="406.2,218.3 387.6,221.5 403.2,234.0 421.8,230.8" fill="#00ff01" stroke="#00ff01"/><polygon points="372.1,209.0 353.2,212.0 368.7,224.6 387.6,221.5" fill="#32ff00" stroke="#32ff00"/><polygon points="338.0,199.6 318.9,202.6 334.1,215.1 353.2,212.0" fill="#66ff00" stroke="#66ff00"/><polygon points="303.8,190.2 284.5,193.1 299.6,205.6 318.9,202.6" fill="#99ff00" stroke="#99ff00"/><polygon points="269.6,180.8 250.1,183.6 265.0,196.1 284.5,193.1" fill="#cdff00" stroke="#cdff00"/><polygon points="235.4,171.3 215.6,174.1 230.3,186.5 250.1,183.6" fill="#fffc00" stroke="#fffc00"/><polygon points="201.1,161.8 181.1,164.5 195.6,176.9 215.6,174.1" fill="#ffc800" stroke="#ffc800"/><polygon points="694.9,304.7 678.0,308.4 695.3,321.4 712.2,317.6" fill="#003cff" stroke="#003cff"/><polygon points="660.9,295.5 643.8,299.2 660.9,312.2 678.0,308.4" fill="#006dff" stroke="#006dff"/><polygon points="626.8,286.4 609.5,290.0 626.4,303.0 643.8,299.2" fill="#009fff" stroke="#009fff"/><polygon points="592.8,277.2 575.2,280.8 591.9,293.7 609.5,290.0" fill="#00d0ff" stroke="#00d0ff"/><polygon points="558.6,268.0 540.9,271.5 557.4,284.4 575.2,280.8" fill="#00fffc" stroke="#00fffc"/><polygon points="524.5,258.8 506.5,262.2 522.8,275.0 540.9,271.5" fill="#00ffca" stroke="#00ffca"/><polygon points="490.3,249.5 472.1,252.8 488.3,265.6 506.5,262.2" fill="#00ff98" stroke="#00ff98"/><polygon points="456.1,240.2 437.7,243.5 453.6,256.2 472.1,252.8" fill="#00ff65" stroke="#00ff65"/><polygon points="421.8,230.8 403.2,234.0 419.0,246.8 437.7,243.5" fill="#00ff32" stroke="#00ff32"/><polygon points="387.6,221.5 368.7,224.6 384.3,237.3 403.2,234.0" fill="#01ff00" stroke="#01ff00"/><polygon points="353.2,212.0 334.1,215.1 349.6,227.8 368.7,224.6" fill="#34ff00" stroke="#34ff00"/><polygon points="318.9,202.6 299.6,205.6 314.8,218.2 334.1,215.1" fill="#68ff00" stroke="#68ff00"/><polygon points="284.5,193.1 265.0,196.1 280.0,208.7 299.6,205.6" fill="#9cff00" stroke="#9cff00"/><polygon points="250.1,183.6 230.3,186.5 245.2,199.0 265.0,196.1" fill="#d0ff00" stroke="#d0ff00"/><polygon points="215.6,174.1 195.6,176.9 210.3,189.4 230.3,186.5" fill="#fff900" stroke="#fff900"/><polygon points="678.0,308.4 660.9,312.2 678.2,325.3 695.3,321.4" fill="#003dff" stroke="#003dff"/><polygon points="643.8,299.2 626.4,303.0 643.5,316.1 660.9,312.2" fill="#006eff" stroke="#006eff"/><polygon points="609.5,290.0 591.9,293.7 608.9,306.8 626.4,303.0" fill="#00a0ff" stroke="#00a0ff"/><polygon points="575.2,280.8 557.4,284.4 574.1,297.4 591.9,293.7" fill="#00d2ff" stroke="#00d2ff"/><polygon points="540.9,271.5 522.8,275.0 539.4,288.0 557.4,284.4" fill="#00fffa" stroke="#00fffa"/><polygon points="506.5,262.2 488.3,265.6 504.6,278.6 522.8,275.0" fill="#00ffc8" stroke="#00ffc8"/><polygon points="472.1,252.8 453.6,256.2 469.8,269.2 488.3,265.6" fill="#00ff96" stroke="#00ff96"/><polygon points="437.7,243.5 419.0,246.8 435.0,259.7 453.6,256.2" fill="#00ff63" stroke="#00ff63"/><polygon points="403.2,234.0 384.3,237.3 400.1,250.2 419.0,246.8" fill="#00ff30" stroke="#00ff30"/><polygon points="368.7,224.6 349.6,227.8 365.2,240.6 384.3,237.3" fill="#03ff00" stroke="#03ff00"/><polygon points="334.1,215.1 314.8,218.2 330.2,231.0 349.6,227.8" fill="#37ff00" stroke="#37ff00"/><polygon points="299.6,205.6 280.0,208.7 295.2,221.4 314.8,218.2" fill="#6bff00" stroke="#6bff00"/><polygon points="265.0,196.1 245.2,199.0 260.2,211.7 280.0,208.7" fill="#9fff00" stroke="#9fff00"/><polygon points="230.3,186.5 210.3,189.4 225.1,202.1 245.2,199.0" fill="#d3ff00" stroke="#d3ff00"/><polygon points="660.9,312.2 643.5,316.1 660.9,329.3 678.2,325.3" fill="#003eff" stroke="#003eff"/><polygon points="626.4,303.0 608.9,306.8 626.0,320.0 643.5,316.1" fill="#0070ff" stroke="#0070ff"/><polygon points="591.9,293.7 574.1,297.4 591.1,310.6 608.9,306.8" fill="#00a1ff" stroke="#00a1ff"/><polygon points="557.4,284.4 539.4,288.0 556.1,301.2 574.1,297.4" fill="#00d3ff" stroke="#00d3ff"/><polygon points="522.8,275.0 504.6,278.6 521.2,291.7 539.4,288.0" fill="#00fff9" stroke="#00fff9"/><polygon points="488.3,265.6 469.8,269.2 486.2,282.2 504.6,278.6" fill="#00ffc6" stroke="#00ffc6"/><polygon points="453.6,256.2 435.0,259.7 451.1,272.7 469.8,269.2" fill="#00ff94" stroke="#00ff94"/><polygon points="419.0,246.8 400.1,250.2 416.0,263.2 435.0,259.7" fill="#00ff61" stroke="#00ff61"/><polygon points="384.3,237.3 365.2,240.6 380.9,253.6 400.1,250.2" fill="#00ff2e" stroke="#00ff2e"/><polygon points="349.6,227.8 330.2,231.0 345.8,243.9 365.2,240.6" fill="#06ff00" stroke="#06ff00"/><polygon points="314.8,218.2 295.2,221.4 310.6,234.3 330.2,231.0" fill="#39ff00" stroke="#39ff00"/><polygon points="280.0,208.7 260.2,211.7 275.4,224.6 295.2,221.4" fill="#6dff00" stroke="#6dff00"/><polygon points="245.2,199.0 225.1,202.1 240.1,214.9 260.2,211.7" fill="#a1ff00" stroke="#a1ff00"/><polygon points="643.5,316.1 626.0,320.0 643.3,333.3 660.9,329.3" fill="#003fff" stroke="#003fff"/><polygon points="608.9,306.8 591.1,310.6 608.2,323.9 626.0,320.0" fill="#0071ff" stroke="#0071ff"/><polygon points="574.1,297.4 556.1,301.2 573.1,314.5 591.1,310.6" fill="#00a3ff" stroke="#00a3ff"/><polygon points="539.4,288.0 521.2,291.7 537.9,305.0 556.1,301.2" fill="#00d5ff" stroke="#00d5ff"/><polygon points="504.6,278.6 486.2,282.2 502.7,295.5 521.2,291.7" fill="#00fff7" stroke="#00fff7"/><polygon points="469.8,269.2 451.1,272.7 467.5,285.9 486.2,282.2" fill="#00ffc5" stroke="#00ffc5"/><polygon points="435.0,259.7 416.0,263.2 432.2,276.3 451.1,272.7" fill="#00ff92" stroke="#00ff92"/><polygon points="400.1,250.2 380.9,253.6 396.9,266.7 416.0,263.2" fill="#00ff5f" stroke="#00ff5f"/><polygon points="365.2,240.6 345.8,243.9 361.5,257.0 380.9,253.6" fill="#00ff2c" stroke="#00ff2c"/><polygon points="330.2,231.0 310.6,234.3 326.2,247.3 345.8,243.9" fill="#08ff00" stroke="#08ff00"/><polygon points="295.2,221.4 275.4,224.6 290.7,237.6 310.6,234.3" fill="#3cff00" stroke="#3cff00"/><polygon points="260.2,211.7 240.1,214.9 255.3,227.8 275.4,224.6" fill="#70ff00" stroke="#70ff00"/><polygon points="626.0,320.0 608.2,323.9 625.5,337.4 643.3,333.3" fill="#0040ff" stroke="#0040ff"/><polygon points="591.1,310.6 573.1,314.5 590.2,327.9 608.2,323.9" fill="#0072ff" stroke="#0072ff"/><polygon points="556.1,301.2 537.9,305.0 554.8,318.4 573.1,314.5" fill="#00a4ff" stroke="#00a4ff"/><polygon points="521.2,291.7 502.7,295.5 519.4,308.8 537.9,305.0" fill="#00d6ff" stroke="#00d6ff"/><polygon points="486.2,282.2 467.5,285.9 484.0,299.2 502.7,295.5" fill="#00fff6" stroke="#00fff6"/><polygon points="451.1,272.7 432.2,276.3 448.5,289.6 467.5,285.9" fill="#00ffc3" stroke="#00ffc3"/><polygon points="416.0,263.2 396.9,266.7 413.0,279.9 432.2,276.3" fill="#00ff90" stroke="#00ff90"/><polygon points="380.9,253.6 361.5,257.0 377.5,270.3 396.9,266.7" fill="#00ff5d" stroke="#00ff5d"/><polygon points="345.8,243.9 326.2,247.3 341.9,260.5 361.5,257.0" fill="#00ff2a" stroke="#00ff2a"/><polygon points="310.6,234.3 290.7,237.6 306.3,250.8 326.2,247.3" fill="#0aff00" stroke="#0aff00"/><polygon points="275.4,224.6 255.3,227.8 270.6,241.0 290.7,237.6" fill="#3eff00" stroke="#3eff00"/><polygon points="608.2,323.9 590.2,327.9 607.5,341.5 625.5,337.4" fill="#0042ff" stroke="#0042ff"/><polygon points="573.1,314.5 554.8,318.4 572.0,332.0 590.2,327.9" fill="#0073ff" stroke="#0073ff"/><polygon points="537.9,305.0 519.4,308.8 536.4,322.4 554.8,318.4" fill="#00a5ff" stroke="#00a5ff"/><polygon points="502.7,295.5 484.0,299.2 500.8,312.7 519.4,308.8" fill="#00d8ff" stroke="#00d8ff"/><polygon points="467.5,285.9 448.5,289.6 465.1,303.1 484.0,299.2" fill="#00fff4" stroke="#00fff4"/><polygon points="432.2,276.3 413.0,279.9 429.4,293.4 448.5,289.6" fill="#00ffc1" stroke="#00ffc1"/><polygon points="396.9,266.7 377.5,270.3 393.6,283.6 413.0,279.9" fill="#00ff8e" stroke="#00ff8e"/><polygon points="361.5,257.0 341.9,260.5 357.8,273.9 377.5,270.3" fill="#00ff5b" stroke="#00ff5b"/><polygon points="326.2,247.3 306.3,250.8 322.0,264.1 341.9,260.5" fill="#00ff27" stroke="#00ff27"/><polygon points="290.7,237.6 270.6,241.0 286.2,254.2 306.3,250.8" fill="#0cff00" stroke="#0cff00"/><polygon points="590.2,327.9 572.0,332.0 589.3,345.7 607.5,341.5" fill="#0043ff" stroke="#0043ff"/><polygon points="554.8,318.4 536.4,322.4 553.5,336.1 572.0,332.0" fill="#0075ff" stroke="#0075ff"/><polygon points="519.4,308.8 500.8,312.7 517.7,326.4 536.4,322.4" fill="#00a7ff" stroke="#00a7ff"/><polygon points="484.0,299.2 465.1,303.1 481.8,316.7 500.8,312.7" fill="#00d9ff" stroke="#00d9ff"/><polygon points="448.5,289.6 429.4,293.4 445.9,307.0 465.1,303.1" fill="#00fff2" stroke="#00fff2"/><polygon points="413.0,279.9 393.6,283.6 410.0,297.2 429.4,293.4" fill="#00ffc0" stroke="#00ffc0"/><polygon points="377.5,270.3 357.8,273.9 374.0,287.4 393.6,283.6" fill="#00ff8c" stroke="#00ff8c"/><polygon points="341.9,260.5 322.0,264.1 337.9,277.5 357.8,273.9" fill="#00ff59" stroke="#00ff59"/><polygon points="306.3,250.8 286.2,254.2 301.9,267.7 322.0,264.1" fill="#00ff25" stroke="#00ff25"/><polygon points="572.0,332.0 553.5,336.1 570.9,349.9 589.3,345.7" fill="#0044ff" stroke="#0044ff"/><polygon points="536.4,322.4 517.7,326.4 534.8,340.2 553.5,336.1" fill="#0076ff" stroke="#0076ff"/><polygon points="500.8,312.7 481.8,316.7 498.7,330.5 517.7,326.4" fill="#00a8ff" stroke="#00a8ff"/><polygon points="465.1,303.1 445.9,307.0 462.6,320.7 481.8,316.7" fill="#00daff" stroke="#00daff"/><polygon points="429.4,293.4 410.0,297.2 426.5,310.9 445.9,307.0" fill="#00fff1" stroke="#00fff1"/><polygon points="393.6,283.6 374.0,287.4 390.3,301.0 410.0,297.2" fill="#00ffbe" stroke="#00ffbe"/><polygon points="357.8,273.9 337.9,277.5 354.1,291.2 374.0,287.4" fill="#00ff8b" stroke="#00ff8b"/><polygon points="322.0,264.1 301.9,267.7 317.8,281.2 337.9,277.5" fill="#00ff57" stroke="#00ff57"/><polygon points="553.5,336.1 534.8,340.2 552.2,354.2 570.9,349.9" fill="#0045ff" stroke="#0045ff"/><polygon points="517.7,326.4 498.7,330.5 515.9,344.4 534.8,340.2" fill="#0077ff" stroke="#0077ff"/><polygon points="481.8,316.7 462.6,320.7 479.6,334.6 498.7,330.5" fill="#00a9ff" stroke="#00a9ff"/><polygon points="445.9,307.0 426.5,310.9 443.2,324.8 462.6,320.7" fill="#00dcff" stroke="#00dcff"/><polygon points="410.0,297.2 390.3,301.0 406.8,314.9 426.5,310.9" fill="#00ffef" stroke="#00ffef"/><polygon points="374.0,287.4 354.1,291.2 370.4,305.0 390.3,301.0" fill="#00ffbc" stroke="#00ffbc"/><polygon points="337.9,277.5 317.8,281.2 333.9,295.0 354.1,291.2" fill="#00ff89" stroke="#00ff89"/><polygon points="534.8,340.2 515.9,344.4 533.2,358.5 552.2,354.2" fill="#0046ff" stroke="#0046ff"/><polygon points="498.7,330.5 479.6,334.6 496.7,348.7 515.9,344.4" fill="#0078ff" stroke="#0078ff"/><polygon points="462.6,320.7 443.2,324.8 460.1,338.8 479.6,334.6" fill="#00abff" stroke="#00abff"/><polygon points="426.5,310.9 406.8,314.9 423.5,328.9 443.2,324.8" fill="#00ddff" stroke="#00ddff"/><polygon points="390.3,301.0 370.4,305.0 386.9,318.9 406.8,314.9" fill="#00ffee" stroke="#00ffee"/><polygon points="354.1,291.2 333.9,295.0 350.2,308.9 370.4,305.0" fill="#00ffba" stroke="#00ffba"/><polygon points="515.9,344.4 496.7,348.7 514.0,362.9 533.2,358.5" fill="#0047ff" stroke="#0047ff"/><polygon points="479.6,334.6 460.1,338.8 477.2,353.0 496.7,348.7" fill="#0079ff" stroke="#0079ff"/><polygon points="443.2,324.8 423.5,328.9 440.4,343.0 460.1,338.8" fill="#00acff" stroke="#00acff"/><polygon points="406.8,314.9 386.9,318.9 403.6,333.0 423.5,328.9" fill="#00dfff" stroke="#00dfff"/><polygon points="370.4,305.0 350.2,308.9 366.7,323.0 386.9,318.9" fill="#00ffec" stroke="#00ffec"/><polygon points="496.7,348.7 477.2,353.0 494.6,367.4 514.0,362.9" fill="#0048ff" stroke="#0048ff"/><polygon points="460.1,338.8 440.4,343.0 457.5,357.4 477.2,353.0" fill="#007bff" stroke="#007bff"/><polygon points="423.5,328.9 403.6,333.0 420.5,347.3 440.4,343.0" fill="#00adff" stroke="#00adff"/><polygon points="386.9,318.9 366.7,323.0 383.3,337.3 403.6,333.0" fill="#00e0ff" stroke="#00e0ff"/><polygon points="477.2,353.0 457.5,357.4 474.9,371.9 494.6,367.4" fill="#0049ff" stroke="#0049ff"/><polygon points="440.4,343.0 420.5,347.3 437.6,361.8 457.5,357.4" fill="#007cff" stroke="#007cff"/><polygon points="403.6,333.0 383.3,337.3 400.2,351.7 420.5,347.3" fill="#00afff" stroke="#00afff"/><polygon points="457.5,357.4 437.6,361.8 454.9,376.5 474.9,371.9" fill="#004aff" stroke="#004aff"/><polygon points="420.5,347.3 400.2,351.7 417.3,366.3 437.6,361.8" fill="#007dff" stroke="#007dff"/><polygon points="437.6,361.8 417.3,366.3 434.7,381.1 454.9,376.5" fill="#004bff" stroke="#004bff"/></g>
<path d="M481.6 75.0L495.7 85.1L510.0 95.4L524.4 105.7L539.0 116.2L553.7 126.7L568.5 137.4L583.5 148.1L598.7 159.0L614.0 170.0L629.5 181.1L645.1 192.3L661.0 203.7L676.9 215.1L693.1 226.7L709.4 238.4L725.9 250.3L742.6 262.2L759.4 274.3L776.5 286.5L793.7 298.9M481.6 75.0L465.6 76.9L449.4 78.7L433.1 80.6L416.5 82.5L399.8 84.5L382.9 86.4L365.8 88.4L348.5 90.4L331.0 92.4L313.4 94.5L295.5 96.5L277.4 98.6L259.1 100.8L240.6 102.9L221.8 105.1L202.9 107.3L183.7 109.5L164.3 111.7L144.6 114.0L124.8 116.3M465.6 76.9L479.7 87.1L494.0 97.4L508.4 107.8L523.0 118.3L537.7 128.9L552.5 139.7L567.5 150.5L582.7 161.5L598.0 172.6L613.5 183.8L629.1 195.1L645.0 206.5L660.9 218.1L677.1 229.8L693.4 241.6L709.9 253.5L726.6 265.6L743.5 277.7L760.5 290.1L777.8 302.5M495.7 85.1L479.7 87.1L463.6 89.0L447.2 91.0L430.6 93.0L413.9 95.0L397.0 97.0L379.9 99.1L362.6 101.2L345.1 103.3L327.4 105.4L309.5 107.6L291.4 109.7L273.1 111.9L254.6 114.2L235.8 116.4L216.8 118.7L197.6 121.0L178.2 123.4L158.5 125.7L138.6 128.1M449.4 78.7L463.6 89.0L477.8 99.4L492.2 109.9L506.8 120.5L521.5 131.2L536.3 142.0L551.3 153.0L566.5 164.0L581.8 175.2L597.3 186.5L613.0 197.9L628.8 209.4L644.8 221.0L660.9 232.8L677.3 244.7L693.8 256.8L710.5 268.9L727.4 281.2L744.4 293.7L761.7 306.2M510.0 95.4L494.0 97.4L477.8 99.4L461.4 101.4L444.9 103.5L428.2 105.6L411.2 107.7L394.1 109.9L376.8 112.0L359.3 114.2L341.6 116.5L323.7 118.7L305.6 121.0L287.2 123.3L268.7 125.6L249.9 127.9L230.9 130.3L211.7 132.7L192.2 135.2L172.6 137.6L152.6 140.1M433.1 80.6L447.2 91.0L461.4 101.4L475.8 112.0L490.4 122.7L505.1 133.5L520.0 144.4L535.0 155.4L550.1 166.6L565.5 177.8L580.9 189.2L596.6 200.7L612.4 212.3L628.4 224.1L644.6 235.9L660.9 247.9L677.4 260.1L694.1 272.3L711.0 284.7L728.1 297.3L745.4 310.0M524.4 105.7L508.4 107.8L492.2 109.9L475.8 112.0L459.3 114.2L442.6 116.4L425.6 118.6L408.5 120.8L391.2 123.0L373.7 125.3L356.0 127.6L338.0 130.0L319.9 132.3L301.6 134.7L283.0 137.1L264.2 139.6L245.2 142.0L225.9 144.5L206.5 147.1L186.8 149.6L166.8 152.2M416.5 82.5L430.6 93.0L444.9 103.5L459.3 114.2L473.8 124.9L488.5 135.8L503.4 146.8L518.4 157.9L533.6 169.2L548.9 180.5L564.4 192.0L580.0 203.6L595.9 215.3L611.9 227.1L628.0 239.1L644.4 251.2L660.9 263.4L677.6 275.8L694.5 288.3L711.6 300.9L728.9 313.7M539.0 116.2L523.0 118.3L506.8 120.5L490.4 122.7L473.8 124.9L457.1 127.2L440.2 129.5L423.0 131.8L405.7 134.1L388.2 136.5L370.5 138.9L352.5 141.3L334.4 143.8L316.0 146.3L297.4 148.8L278.6 151.3L259.6 153.9L240.3 156.5L220.8 159.1L201.1 161.8L181.1 164.5M399.8 84.5L413.9 95.0L428.2 105.6L442.6 116.4L457.1 127.2L471.8 138.2L486.6 149.3L501.6 160.4L516.8 171.8L532.1 183.2L547.6 194.8L563.3 206.4L579.1 218.3L595.1 230.2L611.3 242.3L627.6 254.5L644.2 266.8L660.9 279.3L677.8 291.9L694.9 304.7L712.2 317.6M553.7 126.7L537.7 128.9L521.5 131.2L505.1 133.5L488.5 135.8L471.8 138.2L454.9 140.5L437.7 142.9L420.4 145.4L402.9 147.8L385.1 150.3L367.2 152.8L349.0 155.4L330.6 157.9L312.0 160.5L293.2 163.2L274.2 165.9L254.9 168.6L235.4 171.3L215.6 174.1L195.6 176.9M382.9 86.4L397.0 97.0L411.2 107.7L425.6 118.6L440.2 129.5L454.9 140.5L469.7 151.7L484.7 163.0L499.9 174.4L515.2 185.9L530.7 197.6L546.3 209.4L562.2 221.3L578.2 233.3L594.3 245.5L610.7 257.8L627.2 270.2L644.0 282.8L660.9 295.5L678.0 308.4L695.3 321.4M568.5 137.4L552.5 139.7L536.3 142.0L520.0 144.4L503.4 146.8L486.6 149.3L469.7 151.7L452.6 154.2L435.2 156.7L417.7 159.3L399.9 161.8L382.0 164.4L363.8 167.1L345.4 169.8L326.8 172.5L308.0 175.2L288.9 178.0L269.6 180.8L250.1 183.6L230.3 186.5L210.3 189.4M365.8 88.4L379.9 99.1L394.1 109.9L408.5 120.8L423.0 131.8L437.7 142.9L452.6 154.2L467.6 165.6L482.7 177.1L498.0 188.7L513.5 200.4L529.2 212.3L545.0 224.3L561.0 236.5L577.2 248.7L593.6 261.2L610.1 273.7L626.8 286.4L643.8 299.2L660.9 312.2L678.2 325.3M583.5 148.1L567.5 150.5L551.3 153.0L535.0 155.4L518.4 157.9L501.6 160.4L484.7 163.0L467.6 165.6L450.2 168.2L432.7 170.8L414.9 173.5L397.0 176.2L378.8 178.9L360.4 181.7L341.8 184.5L322.9 187.3L303.8 190.2L284.5 193.1L265.0 196.1L245.2 199.0L225.1 202.1M348.5 90.4L362.6 101.2L376.8 112.0L391.2 123.0L405.7 134.1L420.4 145.4L435.2 156.7L450.2 168.2L465.4 179.8L480.7 191.5L496.2 203.3L511.8 215.3L527.7 227.4L543.7 239.7L559.8 252.0L576.2 264.6L592.8 277.2L609.5 290.0L626.4 303.0L643.5 316.1L660.9 329.3M598.7 159.0L582.7 161.5L566.5 164.0L550.1 166.6L533.6 169.2L516.8 171.8L499.9 174.4L482.7 177.1L465.4 179.8L447.8 182.5L430.1 185.3L412.1 188.1L393.9 190.9L375.5 193.8L356.9 196.7L338.0 199.6L318.9 202.6L299.6 205.6L280.0 208.7L260.2 211.7L240.1 214.9M331.0 92.4L345.1 103.3L359.3 114.2L373.7 125.3L388.2 136.5L402.9 147.8L417.7 159.3L432.7 170.8L447.8 182.5L463.1 194.3L478.6 206.3L494.3 218.3L510.1 230.6L526.1 242.9L542.3 255.4L558.6 268.0L575.2 280.8L591.9 293.7L608.9 306.8L626.0 320.0L643.3 333.3M614.0 170.0L598.0 172.6L581.8 175.2L565.5 177.8L548.9 180.5L532.1 183.2L515.2 185.9L498.0 188.7L480.7 191.5L463.1 194.3L445.4 197.2L427.4 200.1L409.2 203.0L390.8 206.0L372.1 209.0L353.2 212.0L334.1 215.1L314.8 218.2L295.2 221.4L275.4 224.6L255.3 227.8M313.4 94.5L327.4 105.4L341.6 116.5L356.0 127.6L370.5 138.9L385.1 150.3L399.9 161.8L414.9 173.5L430.1 185.3L445.4 197.2L460.8 209.2L476.5 221.4L492.3 233.7L508.3 246.2L524.5 258.8L540.9 271.5L557.4 284.4L574.1 297.4L591.1 310.6L608.2 323.9L625.5 337.4M629.5 181.1L613.5 183.8L597.3 186.5L580.9 189.2L564.4 192.0L547.6 194.8L530.7 197.6L513.5 200.4L496.2 203.3L478.6 206.3L460.8 209.2L442.9 212.2L424.6 215.3L406.2 218.3L387.6 221.5L368.7 224.6L349.6 227.8L330.2 231.0L310.6 234.3L290.7 237.6L270.6 241.0M295.5 96.5L309.5 107.6L323.7 118.7L338.0 130.0L352.5 141.3L367.2 152.8L382.0 164.4L397.0 176.2L412.1 188.1L427.4 200.1L442.9 212.2L458.5 224.5L474.3 236.9L490.3 249.5L506.5 262.2L522.8 275.0L539.4 288.0L556.1 301.2L573.1 314.5L590.2 327.9L607.5 341.5M645.1 192.3L629.1 195.1L613.0 197.9L596.6 200.7L580.0 203.6L563.3 206.4L546.3 209.4L529.2 212.3L511.8 215.3L494.3 218.3L476.5 221.4L458.5 224.5L440.3 227.7L421.8 230.8L403.2 234.0L384.3 237.3L365.2 240.6L345.8 243.9L326.2 247.3L306.3 250.8L286.2 254.2M277.4 98.6L291.4 109.7L305.6 121.0L319.9 132.3L334.4 143.8L349.0 155.4L363.8 167.1L378.8 178.9L393.9 190.9L409.2 203.0L424.6 215.3L440.3 227.7L456.1 240.2L472.1 252.8L488.3 265.6L504.6 278.6L521.2 291.7L537.9 305.0L554.8 318.4L572.0 332.0L589.3 345.7M661.0 203.7L645.0 206.5L628.8 209.4L612.4 212.3L595.9 215.3L579.1 218.3L562.2 221.3L545.0 224.3L527.7 227.4L510.1 230.6L492.3 233.7L474.3 236.9L456.1 240.2L437.7 243.5L419.0 246.8L400.1 250.2L380.9 253.6L361.5 257.0L341.9 260.5L322.0 264.1L301.9 267.7M259.1 100.8L273.1 111.9L287.2 123.3L301.6 134.7L316.0 146.3L330.6 157.9L345.4 169.8L360.4 181.7L375.5 193.8L390.8 206.0L406.2 218.3L421.8 230.8L437.7 243.5L453.6 256.2L469.8 269.2L486.2 282.2L502.7 295.5L519.4 308.8L536.4 322.4L553.5 336.1L570.9 349.9M676.9 215.1L660.9 218.1L644.8 221.0L628.4 224.1L611.9 227.1L595.1 230.2L578.2 233.3L561.0 236.5L543.7 239.7L526.1 242.9L508.3 246.2L490.3 249.5L472.1 252.8L453.6 256.2L435.0 259.7L416.0 263.2L396.9 266.7L377.5 270.3L357.8 273.9L337.9 277.5L317.8 281.2M240.6 102.9L254.6 114.2L268.7 125.6L283.0 137.1L297.4 148.8L312.0 160.5L326.8 172.5L341.8 184.5L356.9 196.7L372.1 209.0L387.6 221.5L403.2 234.0L419.0 246.8L435.0 259.7L451.1 272.7L467.5 285.9L484.0 299.2L500.8 312.7L517.7 326.4L534.8 340.2L552.2 354.2M693.1 226.7L677.1 229.8L660.9 232.8L644.6 235.9L628.0 239.1L611.3 242.3L594.3 245.5L577.2 248.7L559.8 252.0L542.3 255.4L524.5 258.8L506.5 262.2L488.3 265.6L469.8 269.2L451.1 272.7L432.2 276.3L413.0 279.9L393.6 283.6L374.0 287.4L354.1 291.2L333.9 295.0M221.8 105.1L235.8 116.4L249.9 127.9L264.2 139.6L278.6 151.3L293.2 163.2L308.0 175.2L322.9 187.3L338.0 199.6L353.2 212.0L368.7 224.6L384.3 237.3L400.1 250.2L416.0 263.2L432.2 276.3L448.5 289.6L465.1 303.1L481.8 316.7L498.7 330.5L515.9 344.4L533.2 358.5M709.4 238.4L693.4 241.6L677.3 244.7L660.9 247.9L644.4 251.2L627.6 254.5L610.7 257.8L593.6 261.2L576.2 264.6L558.6 268.0L540.9 271.5L522.8 275.0L504.6 278.6L486.2 282.2L467.5 285.9L448.5 289.6L429.4 293.4L410.0 297.2L390.3 301.0L370.4 305.0L350.2 308.9M202.9 107.3L216.8 118.7L230.9 130.3L245.2 142.0L259.6 153.9L274.2 165.9L288.9 178.0L303.8 190.2L318.9 202.6L334.1 215.1L349.6 227.8L365.2 240.6L380.9 253.6L396.9 266.7L413.0 279.9L429.4 293.4L445.9 307.0L462.6 320.7L479.6 334.6L496.7 348.7L514.0 362.9M725.9 250.3L709.9 253.5L693.8 256.8L677.4 260.1L660.9 263.4L644.2 266.8L627.2 270.2L610.1 273.7L592.8 277.2L575.2 280.8L557.4 284.4L539.4 288.0L521.2 291.7L502.7 295.5L484.0 299.2L465.1 303.1L445.9 307.0L426.5 310.9L406.8 314.9L386.9 318.9L366.7 323.0M183.7 109.5L197.6 121.0L211.7 132.7L225.9 144.5L240.3 156.5L254.9 168.6L269.6 180.8L284.5 193.1L299.6 205.6L314.8 218.2L330.2 231.0L345.8 243.9L361.5 257.0L377.5 270.3L393.6 283.6L410.0 297.2L426.5 310.9L443.2 324.8L460.1 338.8L477.2 353.0L494.6 367.4M742.6 262.2L726.6 265.6L710.5 268.9L694.1 272.3L677.6 275.8L660.9 279.3L644.0 282.8L626.8 286.4L609.5 290.0L591.9 293.7L574.1 297.4L556.1 301.2L537.9 305.0L519.4 308.8L500.8 312.7L481.8 316.7L462.6 320.7L443.2 324.8L423.5 328.9L403.6 333.0L383.3 337.3M164.3 111.7L178.2 123.4L192.2 135.2L206.5 147.1L220.8 159.1L235.4 171.3L250.1 183.6L265.0 196.1L280.0 208.7L295.2 221.4L310.6 234.3L326.2 247.3L341.9 260.5L357.8 273.9L374.0 287.4L390.3 301.0L406.8 314.9L423.5 328.9L440.4 343.0L457.5 357.4L474.9 371.9M759.4 274.3L743.5 277.7L727.4 281.2L711.0 284.7L694.5 288.3L677.8 291.9L660.9 295.5L643.8 299.2L626.4 303.0L608.9 306.8L591.1 310.6L573.1 314.5L554.8 318.4L536.4 322.4L517.7 326.4L498.7 330.5L479.6 334.6L460.1 338.8L440.4 343.0L420.5 347.3L400.2 351.7M144.6 114.0L158.5 125.7L172.6 137.6L186.8 149.6L201.1 161.8L215.6 174.1L230.3 186.5L245.2 199.0L260.2 211.7L275.4 224.6L290.7 237.6L306.3 250.8L322.0 264.1L337.9 277.5L354.1 291.2L370.4 305.0L386.9 318.9L403.6 333.0L420.5 347.3L437.6 361.8L454.9 376.5M776.5 286.5L760.5 290.1L744.4 293.7L728.1 297.3L711.6 300.9L694.9 304.7L678.0 308.4L660.9 312.2L643.5 316.1L626.0 320.0L608.2 323.9L590.2 327.9L572.0 332.0L553.5 336.1L534.8 340.2L515.9 344.4L496.7 348.7L477.2 353.0L457.5 357.4L437.6 361.8L417.3 366.3M124.8 116.3L138.6 128.1L152.6 140.1L166.8 152.2L181.1 164.5L195.6 176.9L210.3 189.4L225.1 202.1L240.1 214.9L255.3 227.8L270.6 241.0L286.2 254.2L301.9 267.7L317.8 281.2L333.9 295.0L350.2 308.9L366.7 323.0L383.3 337.3L400.2 351.7L417.3 366.3L434.7 381.1M793.7 298.9L777.8 302.5L761.7 306.2L745.4 310.0L728.9 313.7L712.2 317.6L695.3 321.4L678.2 325.3L660.9 329.3L643.3 333.3L625.5 337.4L607.5 341.5L589.3 345.7L570.9 349.9L552.2 354.2L533.2 358.5L514.0 362.9L494.6 367.4L474.9 371.9L454.9 376.5L434.7 381.1" fill="none" stroke="#000" stroke-opacity="0.8" stroke-width="1.15" stroke-linejoin="round" stroke-linecap="round"/>
<ellipse cx="124.6" cy="116.3" rx="5.7" ry="4.8" fill="#cc0a0a" stroke="#640000" stroke-width="1.3"/>
<ellipse cx="481.4" cy="71.2" rx="5.7" ry="4.8" fill="#cc0a0a" stroke="#640000" stroke-width="1.3"/>
<ellipse cx="793.4" cy="298.9" rx="5.7" ry="4.8" fill="#cc0a0a" stroke="#640000" stroke-width="1.3"/>
<ellipse cx="435.3" cy="381.1" rx="5.7" ry="4.8" fill="#cc0a0a" stroke="#640000" stroke-width="1.3"/>
<text transform="translate(22.4,241.2) rotate(-90)" font-size="25.5" text-anchor="middle" fill="#2a2a2a">Size (nm)</text>
<text x="74.6" y="527.05" font-size="24.5" fill="#2a2a2a" textLength="163.8" lengthAdjust="spacingAndGlyphs">B: Pluronic (%)</text>
<text x="637.8" y="543.3" font-size="23.8" fill="#111" stroke="#111" stroke-width="0.3" textLength="94.4" lengthAdjust="spacingAndGlyphs">A: SL (%)</text></g>
<g><path d="M956.6 329.5L1302.1 257.5L1612.7 342.2M953.8 274.7L1302.3 207.9L1615.6 286.6M951.1 219.9L1302.5 158.2L1618.5 231.0M948.4 165.1L1302.7 108.6L1621.4 175.3M945.6 110.2L1302.9 58.9L1624.3 119.7M942.9 55.4L1303.1 9.3L1627.2 64.1M1231.1 18.5L1233.0 271.9M1367.9 20.3L1364.2 274.5M1159.0 27.7L1163.9 286.3M1432.7 31.2L1426.3 291.4M1087.0 37.0L1094.8 300.7M1497.6 42.2L1488.4 308.3M1014.9 46.2L1025.7 315.1M1562.4 53.1L1550.6 325.3M942.9 55.4L960.9 416.1M1303.1 9.3L1301.8 335.9M1627.2 64.1L1608.1 430.0" fill="none" stroke="#383838" stroke-width="1.4"/>
<polygon points="960.9,416.1 1301.8,335.9 1608.1,430.0 1256.3,535.6" fill="#ffff00" stroke="#3a3a14" stroke-width="1"/>
<path d="M1204.5 514.5L1213.8 511.4L1220.0 509.4L1229.2 506.4L1238.4 503.5L1247.5 500.5L1256.6 497.6L1265.7 494.7L1271.7 492.8L1280.6 489.9L1289.5 487.1L1298.4 484.3L1307.2 481.5L1315.9 478.7L1323.3 476.4L1330.4 474.2L1339.1 471.5L1347.7 468.8L1356.2 466.1L1364.7 463.5L1373.2 460.8L1381.6 458.2L1387.1 456.5L1395.5 453.9L1403.8 451.3L1412.0 448.8L1420.2 446.3L1428.3 443.8L1436.4 441.3L1444.5 438.8L1452.5 436.3L1458.6 434.5L1465.8 432.3L1473.7 429.9L1481.6 427.5L1489.4 425.1L1497.2 422.7L1504.9 420.4L1512.6 418.0L1520.3 415.7L1527.9 413.4L1535.5 411.1L1540.5 409.6L1540.5 409.6" fill="none" stroke="#55c332" stroke-width="1.4"/>
<path d="M1109.7 476.4L1120.1 474.0L1127.0 472.5L1137.3 470.2L1147.6 467.9L1157.7 465.6L1164.4 464.1L1174.4 461.8L1184.4 459.6L1194.3 457.3L1204.1 455.0L1210.6 453.5L1220.3 451.3L1230.0 449.0L1239.5 446.8L1249.1 444.6L1255.4 443.1L1264.8 440.9L1274.1 438.7L1283.4 436.5L1292.7 434.3L1300.8 432.4L1307.9 430.7L1317.0 428.6L1326.0 426.4L1334.9 424.3L1343.8 422.1L1352.7 420.0L1358.6 418.6L1367.3 416.5L1376.0 414.4L1384.6 412.3L1393.2 410.2L1401.8 408.1L1410.3 406.0L1415.9 404.7L1424.3 402.6L1432.6 400.6L1440.9 398.5L1449.2 396.5L1457.4 394.5L1465.5 392.5L1473.6 390.5L1476.3 389.8" fill="none" stroke="#50d228" stroke-width="1.4"/>
<path d="M1022.7 441.4L1030.3 440.2L1037.9 439.1L1048.9 437.4L1056.3 436.2L1067.4 434.5L1074.7 433.4L1085.3 431.7L1092.8 430.5L1101.9 429.0L1110.6 427.6L1118.9 426.2L1128.3 424.6L1136.4 423.3L1145.7 421.7L1154.3 420.2L1162.9 418.8L1172.8 417.0L1179.9 415.8L1190.0 414.0L1196.7 412.8L1206.7 411.1L1213.3 409.9L1223.1 408.1L1231.3 406.6L1239.4 405.1L1249.1 403.3L1255.5 402.2L1265.1 400.4L1273.2 398.8L1280.8 397.4L1290.2 395.6L1296.5 394.4L1305.7 392.7L1315.0 390.9L1321.1 389.7L1330.2 387.9L1339.2 386.2L1345.2 385.0L1354.2 383.2L1363.1 381.5L1369.0 380.3L1377.8 378.5L1386.5 376.8L1392.3 375.6L1401.0 373.9L1409.6 372.1L1415.3 371.0" fill="none" stroke="#50d228" stroke-width="1.4"/>
<path d="M1031.8 399.7L1039.7 398.8L1047.2 397.9L1054.6 397.0L1065.6 395.7L1073.1 394.8L1080.4 393.9L1089.0 392.8L1098.5 391.6L1105.7 390.7L1113.3 389.7L1123.5 388.4L1130.5 387.4L1138.3 386.4L1148.0 385.1L1155.0 384.1L1164.2 382.8L1172.1 381.7L1178.9 380.8L1189.1 379.3L1195.8 378.3L1204.8 377.0L1212.5 375.9L1219.1 374.9L1229.0 373.5L1235.5 372.5L1245.3 371.0L1251.7 370.0L1261.4 368.5L1267.8 367.5L1277.3 366.0L1283.6 365.0L1292.8 363.6L1299.3 362.6L1308.4 361.1L1314.8 360.1L1324.0 358.6L1330.1 357.5L1339.2 356.0L1345.2 355.0L1354.2 353.5L1357.2 353.0" fill="none" stroke="#cdeb14" stroke-width="1.4"/>
<polygon points="960.9,416.1 1301.8,335.9 1608.1,430.0 1256.3,535.6" fill="none" stroke="#3a3a14" stroke-width="1"/>
<g fill="#000"><ellipse cx="956.6" cy="329.5" rx="2.3" ry="1.9"/><ellipse cx="953.8" cy="274.7" rx="2.3" ry="1.9"/><ellipse cx="951.1" cy="219.9" rx="2.3" ry="1.9"/><ellipse cx="948.4" cy="165.1" rx="2.3" ry="1.9"/><ellipse cx="945.6" cy="110.2" rx="2.3" ry="1.9"/><ellipse cx="942.9" cy="55.4" rx="2.3" ry="1.9"/><ellipse cx="960.9" cy="416.1" rx="2.3" ry="1.9"/><ellipse cx="1020.0" cy="440.0" rx="2.3" ry="1.9"/><ellipse cx="1079.1" cy="463.9" rx="2.3" ry="1.9"/><ellipse cx="1138.1" cy="487.8" rx="2.3" ry="1.9"/><ellipse cx="1197.2" cy="511.7" rx="2.3" ry="1.9"/><ellipse cx="1256.3" cy="535.6" rx="2.3" ry="1.9"/><ellipse cx="1608.1" cy="430.0" rx="2.3" ry="1.9"/><ellipse cx="1537.7" cy="451.1" rx="2.3" ry="1.9"/><ellipse cx="1467.4" cy="472.2" rx="2.3" ry="1.9"/><ellipse cx="1397.0" cy="493.4" rx="2.3" ry="1.9"/><ellipse cx="1326.7" cy="514.5" rx="2.3" ry="1.9"/><ellipse cx="1256.3" cy="535.6" rx="2.3" ry="1.9"/></g>
<g font-size="17.3" fill="#3c3c3c"><text x="946.1" y="325.5" text-anchor="end">200</text><text x="943.3" y="270.7" text-anchor="end">300</text><text x="940.6" y="215.9" text-anchor="end">400</text><text x="937.9" y="161.1" text-anchor="end">500</text><text x="935.1" y="106.2" text-anchor="end">600</text><text x="932.4" y="51.4" text-anchor="end">700</text><text x="949.6" y="431.7" text-anchor="end">1</text><text x="1008.7" y="455.6" text-anchor="end">1.2</text><text x="1067.8" y="479.5" text-anchor="end">1.4</text><text x="1126.8" y="503.4" text-anchor="end">1.6</text><text x="1185.9" y="527.3" text-anchor="end">1.8</text><text x="1245.0" y="551.2" text-anchor="end">2</text><text x="1617.9" y="445.6">70</text><text x="1547.5" y="466.7">71</text><text x="1477.2" y="487.8">72</text><text x="1406.8" y="509.0">73</text><text x="1336.5" y="530.1">74</text><text x="1266.1" y="551.2">75</text></g>
<g stroke-width="0.7" stroke-linejoin="round"><polygon points="1302.7,95.3 1286.8,99.3 1300.9,108.3 1316.8,104.3" fill="#ffc600" stroke="#ffc600"/><polygon points="1316.8,104.3 1300.9,108.3 1315.1,117.3 1331.1,113.4" fill="#ffef00" stroke="#ffef00"/><polygon points="1286.8,99.3 1270.7,103.3 1284.7,112.3 1300.9,108.3" fill="#ffd000" stroke="#ffd000"/><polygon points="1331.1,113.4 1315.1,117.3 1329.5,126.5 1345.4,122.6" fill="#e7ff00" stroke="#e7ff00"/><polygon points="1300.9,108.3 1284.7,112.3 1298.9,121.3 1315.1,117.3" fill="#fff800" stroke="#fff800"/><polygon points="1270.7,103.3 1254.4,107.4 1268.4,116.3 1284.7,112.3" fill="#ffd900" stroke="#ffd900"/><polygon points="1345.4,122.6 1329.5,126.5 1344.0,135.7 1360.0,131.9" fill="#beff00" stroke="#beff00"/><polygon points="1315.1,117.3 1298.9,121.3 1313.3,130.4 1329.5,126.5" fill="#deff00" stroke="#deff00"/><polygon points="1284.7,112.3 1268.4,116.3 1282.6,125.3 1298.9,121.3" fill="#feff00" stroke="#feff00"/><polygon points="1254.4,107.4 1237.9,111.5 1251.9,120.4 1268.4,116.3" fill="#ffe300" stroke="#ffe300"/><polygon points="1360.0,131.9 1344.0,135.7 1358.7,145.0 1374.7,141.2" fill="#96ff00" stroke="#96ff00"/><polygon points="1329.5,126.5 1313.3,130.4 1327.8,139.6 1344.0,135.7" fill="#b7ff00" stroke="#b7ff00"/><polygon points="1298.9,121.3 1282.6,125.3 1297.0,134.3 1313.3,130.4" fill="#d6ff00" stroke="#d6ff00"/><polygon points="1268.4,116.3 1251.9,120.4 1266.1,129.3 1282.6,125.3" fill="#f5ff00" stroke="#f5ff00"/><polygon points="1237.9,111.5 1221.3,115.7 1235.3,124.5 1251.9,120.4" fill="#ffec00" stroke="#ffec00"/><polygon points="1374.7,141.2 1358.7,145.0 1373.5,154.5 1389.5,150.7" fill="#6dff00" stroke="#6dff00"/><polygon points="1344.0,135.7 1327.8,139.6 1342.5,148.9 1358.7,145.0" fill="#8fff00" stroke="#8fff00"/><polygon points="1313.3,130.4 1297.0,134.3 1311.5,143.5 1327.8,139.6" fill="#afff00" stroke="#afff00"/><polygon points="1282.6,125.3 1266.1,129.3 1280.5,138.3 1297.0,134.3" fill="#ceff00" stroke="#ceff00"/><polygon points="1251.9,120.4 1235.3,124.5 1249.5,133.4 1266.1,129.3" fill="#ecff00" stroke="#ecff00"/><polygon points="1221.3,115.7 1204.5,119.9 1218.5,128.7 1235.3,124.5" fill="#fff500" stroke="#fff500"/><polygon points="1389.5,150.7 1373.5,154.5 1388.5,164.0 1404.5,160.3" fill="#45ff00" stroke="#45ff00"/><polygon points="1358.7,145.0 1342.5,148.9 1357.3,158.3 1373.5,154.5" fill="#67ff00" stroke="#67ff00"/><polygon points="1327.8,139.6 1311.5,143.5 1326.2,152.8 1342.5,148.9" fill="#88ff00" stroke="#88ff00"/><polygon points="1297.0,134.3 1280.5,138.3 1295.0,147.5 1311.5,143.5" fill="#a8ff00" stroke="#a8ff00"/><polygon points="1266.1,129.3 1249.5,133.4 1263.8,142.4 1280.5,138.3" fill="#c6ff00" stroke="#c6ff00"/><polygon points="1235.3,124.5 1218.5,128.7 1232.6,137.5 1249.5,133.4" fill="#e3ff00" stroke="#e3ff00"/><polygon points="1204.5,119.9 1187.5,124.2 1201.5,132.9 1218.5,128.7" fill="#ffff00" stroke="#ffff00"/><polygon points="1404.5,160.3 1388.5,164.0 1403.7,173.7 1419.7,170.0" fill="#1cff00" stroke="#1cff00"/><polygon points="1373.5,154.5 1357.3,158.3 1372.3,167.8 1388.5,164.0" fill="#3fff00" stroke="#3fff00"/><polygon points="1342.5,148.9 1326.2,152.8 1341.0,162.1 1357.3,158.3" fill="#61ff00" stroke="#61ff00"/><polygon points="1311.5,143.5 1295.0,147.5 1309.6,156.7 1326.2,152.8" fill="#81ff00" stroke="#81ff00"/><polygon points="1280.5,138.3 1263.8,142.4 1278.3,151.5 1295.0,147.5" fill="#a0ff00" stroke="#a0ff00"/><polygon points="1249.5,133.4 1232.6,137.5 1247.0,146.5 1263.8,142.4" fill="#beff00" stroke="#beff00"/><polygon points="1218.5,128.7 1201.5,132.9 1215.6,141.7 1232.6,137.5" fill="#dbff00" stroke="#dbff00"/><polygon points="1187.5,124.2 1170.3,128.5 1184.3,137.1 1201.5,132.9" fill="#f6ff00" stroke="#f6ff00"/><polygon points="1419.7,170.0 1403.7,173.7 1419.0,183.4 1435.0,179.8" fill="#00ff0c" stroke="#00ff0c"/><polygon points="1388.5,164.0 1372.3,167.8 1387.5,177.4 1403.7,173.7" fill="#17ff00" stroke="#17ff00"/><polygon points="1357.3,158.3 1341.0,162.1 1356.0,171.6 1372.3,167.8" fill="#3aff00" stroke="#3aff00"/><polygon points="1326.2,152.8 1309.6,156.7 1324.5,166.0 1341.0,162.1" fill="#5bff00" stroke="#5bff00"/><polygon points="1295.0,147.5 1278.3,151.5 1292.9,160.7 1309.6,156.7" fill="#7aff00" stroke="#7aff00"/><polygon points="1263.8,142.4 1247.0,146.5 1261.4,155.5 1278.3,151.5" fill="#99ff00" stroke="#99ff00"/><polygon points="1232.6,137.5 1215.6,141.7 1229.9,150.6 1247.0,146.5" fill="#b6ff00" stroke="#b6ff00"/><polygon points="1201.5,132.9 1184.3,137.1 1198.4,145.9 1215.6,141.7" fill="#d2ff00" stroke="#d2ff00"/><polygon points="1170.3,128.5 1153.0,132.8 1166.9,141.4 1184.3,137.1" fill="#edff00" stroke="#edff00"/><polygon points="1435.0,179.8 1419.0,183.4 1434.5,193.3 1450.5,189.7" fill="#00ff35" stroke="#00ff35"/><polygon points="1403.7,173.7 1387.5,177.4 1402.8,187.1 1419.0,183.4" fill="#00ff11" stroke="#00ff11"/><polygon points="1372.3,167.8 1356.0,171.6 1371.1,181.2 1387.5,177.4" fill="#12ff00" stroke="#12ff00"/><polygon points="1341.0,162.1 1324.5,166.0 1339.4,175.5 1356.0,171.6" fill="#34ff00" stroke="#34ff00"/><polygon points="1309.6,156.7 1292.9,160.7 1307.7,170.0 1324.5,166.0" fill="#54ff00" stroke="#54ff00"/><polygon points="1278.3,151.5 1261.4,155.5 1276.1,164.7 1292.9,160.7" fill="#73ff00" stroke="#73ff00"/><polygon points="1247.0,146.5 1229.9,150.6 1244.4,159.6 1261.4,155.5" fill="#91ff00" stroke="#91ff00"/><polygon points="1215.6,141.7 1198.4,145.9 1212.7,154.8 1229.9,150.6" fill="#aeff00" stroke="#aeff00"/><polygon points="1184.3,137.1 1166.9,141.4 1181.0,150.2 1198.4,145.9" fill="#c9ff00" stroke="#c9ff00"/><polygon points="1153.0,132.8 1135.5,137.2 1149.4,145.8 1166.9,141.4" fill="#e3ff00" stroke="#e3ff00"/><polygon points="1450.5,189.7 1434.5,193.3 1450.1,203.3 1466.1,199.7" fill="#00ff5d" stroke="#00ff5d"/><polygon points="1419.0,183.4 1402.8,187.1 1418.3,197.0 1434.5,193.3" fill="#00ff38" stroke="#00ff38"/><polygon points="1387.5,177.4 1371.1,181.2 1386.4,190.9 1402.8,187.1" fill="#00ff15" stroke="#00ff15"/><polygon points="1356.0,171.6 1339.4,175.5 1354.6,185.0 1371.1,181.2" fill="#0dff00" stroke="#0dff00"/><polygon points="1324.5,166.0 1307.7,170.0 1322.7,179.4 1339.4,175.5" fill="#2eff00" stroke="#2eff00"/><polygon points="1292.9,160.7 1276.1,164.7 1290.9,174.0 1307.7,170.0" fill="#4eff00" stroke="#4eff00"/><polygon points="1261.4,155.5 1244.4,159.6 1259.0,168.8 1276.1,164.7" fill="#6dff00" stroke="#6dff00"/><polygon points="1229.9,150.6 1212.7,154.8 1227.1,163.8 1244.4,159.6" fill="#8aff00" stroke="#8aff00"/><polygon points="1198.4,145.9 1181.0,150.2 1195.3,159.0 1212.7,154.8" fill="#a6ff00" stroke="#a6ff00"/><polygon points="1166.9,141.4 1149.4,145.8 1163.5,154.5 1181.0,150.2" fill="#c0ff00" stroke="#c0ff00"/><polygon points="1135.5,137.2 1117.7,141.6 1131.6,150.2 1149.4,145.8" fill="#daff00" stroke="#daff00"/><polygon points="1466.1,199.7 1450.1,203.3 1466.0,213.3 1482.0,209.8" fill="#00ff86" stroke="#00ff86"/><polygon points="1434.5,193.3 1418.3,197.0 1434.0,206.9 1450.1,203.3" fill="#00ff60" stroke="#00ff60"/><polygon points="1402.8,187.1 1386.4,190.9 1401.9,200.7 1418.3,197.0" fill="#00ff3c" stroke="#00ff3c"/><polygon points="1371.1,181.2 1354.6,185.0 1369.9,194.7 1386.4,190.9" fill="#00ff19" stroke="#00ff19"/><polygon points="1339.4,175.5 1322.7,179.4 1337.9,188.9 1354.6,185.0" fill="#09ff00" stroke="#09ff00"/><polygon points="1307.7,170.0 1290.9,174.0 1305.8,183.3 1322.7,179.4" fill="#29ff00" stroke="#29ff00"/><polygon points="1276.1,164.7 1259.0,168.8 1273.8,178.0 1290.9,174.0" fill="#48ff00" stroke="#48ff00"/><polygon points="1244.4,159.6 1227.1,163.8 1241.7,172.9 1259.0,168.8" fill="#66ff00" stroke="#66ff00"/><polygon points="1212.7,154.8 1195.3,159.0 1209.7,168.0 1227.1,163.8" fill="#82ff00" stroke="#82ff00"/><polygon points="1181.0,150.2 1163.5,154.5 1177.7,163.3 1195.3,159.0" fill="#9eff00" stroke="#9eff00"/><polygon points="1149.4,145.8 1131.6,150.2 1145.7,158.9 1163.5,154.5" fill="#b8ff00" stroke="#b8ff00"/><polygon points="1117.7,141.6 1099.8,146.1 1113.7,154.6 1131.6,150.2" fill="#d0ff00" stroke="#d0ff00"/><polygon points="1482.0,209.8 1466.0,213.3 1482.0,223.5 1498.0,220.0" fill="#00ffae" stroke="#00ffae"/><polygon points="1450.1,203.3 1434.0,206.9 1449.8,216.9 1466.0,213.3" fill="#00ff88" stroke="#00ff88"/><polygon points="1418.3,197.0 1401.9,200.7 1417.6,210.6 1434.0,206.9" fill="#00ff63" stroke="#00ff63"/><polygon points="1386.4,190.9 1369.9,194.7 1385.4,204.4 1401.9,200.7" fill="#00ff40" stroke="#00ff40"/><polygon points="1354.6,185.0 1337.9,188.9 1353.2,198.5 1369.9,194.7" fill="#00ff1d" stroke="#00ff1d"/><polygon points="1322.7,179.4 1305.8,183.3 1320.9,192.8 1337.9,188.9" fill="#04ff00" stroke="#04ff00"/><polygon points="1290.9,174.0 1273.8,178.0 1288.7,187.3 1305.8,183.3" fill="#23ff00" stroke="#23ff00"/><polygon points="1259.0,168.8 1241.7,172.9 1256.5,182.0 1273.8,178.0" fill="#42ff00" stroke="#42ff00"/><polygon points="1227.1,163.8 1209.7,168.0 1224.3,177.0 1241.7,172.9" fill="#5fff00" stroke="#5fff00"/><polygon points="1195.3,159.0 1177.7,163.3 1192.1,172.2 1209.7,168.0" fill="#7bff00" stroke="#7bff00"/><polygon points="1163.5,154.5 1145.7,158.9 1159.9,167.6 1177.7,163.3" fill="#96ff00" stroke="#96ff00"/><polygon points="1131.6,150.2 1113.7,154.6 1127.7,163.3 1145.7,158.9" fill="#afff00" stroke="#afff00"/><polygon points="1099.8,146.1 1081.7,150.6 1095.6,159.1 1113.7,154.6" fill="#c7ff00" stroke="#c7ff00"/><polygon points="1498.0,220.0 1482.0,223.5 1498.2,233.8 1514.2,230.3" fill="#00ffd7" stroke="#00ffd7"/><polygon points="1466.0,213.3 1449.8,216.9 1465.8,227.1 1482.0,223.5" fill="#00ffb0" stroke="#00ffb0"/><polygon points="1434.0,206.9 1417.6,210.6 1433.4,220.6 1449.8,216.9" fill="#00ff8a" stroke="#00ff8a"/><polygon points="1401.9,200.7 1385.4,204.4 1401.0,214.3 1417.6,210.6" fill="#00ff66" stroke="#00ff66"/><polygon points="1369.9,194.7 1353.2,198.5 1368.6,208.2 1385.4,204.4" fill="#00ff43" stroke="#00ff43"/><polygon points="1337.9,188.9 1320.9,192.8 1336.2,202.4 1353.2,198.5" fill="#00ff22" stroke="#00ff22"/><polygon points="1305.8,183.3 1288.7,187.3 1303.8,196.7 1320.9,192.8" fill="#00ff01" stroke="#00ff01"/><polygon points="1273.8,178.0 1256.5,182.0 1271.4,191.3 1288.7,187.3" fill="#1eff00" stroke="#1eff00"/><polygon points="1241.7,172.9 1224.3,177.0 1239.0,186.2 1256.5,182.0" fill="#3cff00" stroke="#3cff00"/><polygon points="1209.7,168.0 1192.1,172.2 1206.6,181.2 1224.3,177.0" fill="#58ff00" stroke="#58ff00"/><polygon points="1177.7,163.3 1159.9,167.6 1174.3,176.5 1192.1,172.2" fill="#73ff00" stroke="#73ff00"/><polygon points="1145.7,158.9 1127.7,163.3 1141.9,172.0 1159.9,167.6" fill="#8dff00" stroke="#8dff00"/><polygon points="1113.7,154.6 1095.6,159.1 1109.6,167.7 1127.7,163.3" fill="#a6ff00" stroke="#a6ff00"/><polygon points="1081.7,150.6 1063.4,155.2 1077.2,163.7 1095.6,159.1" fill="#beff00" stroke="#beff00"/><polygon points="1514.2,230.3 1498.2,233.8 1514.5,244.2 1530.5,240.8" fill="#00ffff" stroke="#00ffff"/><polygon points="1482.0,223.5 1465.8,227.1 1482.0,237.3 1498.2,233.8" fill="#00ffd8" stroke="#00ffd8"/><polygon points="1449.8,216.9 1433.4,220.6 1449.5,230.7 1465.8,227.1" fill="#00ffb2" stroke="#00ffb2"/><polygon points="1417.6,210.6 1401.0,214.3 1416.9,224.3 1433.4,220.6" fill="#00ff8d" stroke="#00ff8d"/><polygon points="1385.4,204.4 1368.6,208.2 1384.3,218.0 1401.0,214.3" fill="#00ff69" stroke="#00ff69"/><polygon points="1353.2,198.5 1336.2,202.4 1351.7,212.0 1368.6,208.2" fill="#00ff47" stroke="#00ff47"/><polygon points="1320.9,192.8 1303.8,196.7 1319.1,206.3 1336.2,202.4" fill="#00ff26" stroke="#00ff26"/><polygon points="1288.7,187.3 1271.4,191.3 1286.5,200.7 1303.8,196.7" fill="#00ff06" stroke="#00ff06"/><polygon points="1256.5,182.0 1239.0,186.2 1254.0,195.4 1271.4,191.3" fill="#18ff00" stroke="#18ff00"/><polygon points="1224.3,177.0 1206.6,181.2 1221.4,190.3 1239.0,186.2" fill="#35ff00" stroke="#35ff00"/><polygon points="1192.1,172.2 1174.3,176.5 1188.8,185.5 1206.6,181.2" fill="#51ff00" stroke="#51ff00"/><polygon points="1159.9,167.6 1141.9,172.0 1156.2,180.8 1174.3,176.5" fill="#6cff00" stroke="#6cff00"/><polygon points="1127.7,163.3 1109.6,167.7 1123.7,176.4 1141.9,172.0" fill="#85ff00" stroke="#85ff00"/><polygon points="1095.6,159.1 1077.2,163.7 1091.2,172.2 1109.6,167.7" fill="#9dff00" stroke="#9dff00"/><polygon points="1063.4,155.2 1044.9,159.9 1058.7,168.3 1077.2,163.7" fill="#b4ff00" stroke="#b4ff00"/><polygon points="1530.5,240.8 1514.5,244.2 1531.1,254.8 1547.1,251.3" fill="#00d6ff" stroke="#00d6ff"/><polygon points="1498.2,233.8 1482.0,237.3 1498.4,247.7 1514.5,244.2" fill="#00feff" stroke="#00feff"/><polygon points="1465.8,227.1 1449.5,230.7 1465.7,240.9 1482.0,237.3" fill="#00ffd9" stroke="#00ffd9"/><polygon points="1433.4,220.6 1416.9,224.3 1432.9,234.3 1449.5,230.7" fill="#00ffb3" stroke="#00ffb3"/><polygon points="1401.0,214.3 1384.3,218.0 1400.1,228.0 1416.9,224.3" fill="#00ff8f" stroke="#00ff8f"/><polygon points="1368.6,208.2 1351.7,212.0 1367.4,221.8 1384.3,218.0" fill="#00ff6c" stroke="#00ff6c"/><polygon points="1336.2,202.4 1319.1,206.3 1334.6,215.9 1351.7,212.0" fill="#00ff4b" stroke="#00ff4b"/><polygon points="1303.8,196.7 1286.5,200.7 1301.8,210.2 1319.1,206.3" fill="#00ff2a" stroke="#00ff2a"/><polygon points="1271.4,191.3 1254.0,195.4 1269.0,204.8 1286.5,200.7" fill="#00ff0b" stroke="#00ff0b"/><polygon points="1239.0,186.2 1221.4,190.3 1236.3,199.5 1254.0,195.4" fill="#13ff00" stroke="#13ff00"/><polygon points="1206.6,181.2 1188.8,185.5 1203.5,194.5 1221.4,190.3" fill="#2fff00" stroke="#2fff00"/><polygon points="1174.3,176.5 1156.2,180.8 1170.8,189.8 1188.8,185.5" fill="#4bff00" stroke="#4bff00"/><polygon points="1141.9,172.0 1123.7,176.4 1138.0,185.2 1156.2,180.8" fill="#65ff00" stroke="#65ff00"/><polygon points="1109.6,167.7 1091.2,172.2 1105.3,180.9 1123.7,176.4" fill="#7dff00" stroke="#7dff00"/><polygon points="1077.2,163.7 1058.7,168.3 1072.6,176.8 1091.2,172.2" fill="#95ff00" stroke="#95ff00"/><polygon points="1044.9,159.9 1026.2,164.5 1039.9,172.9 1058.7,168.3" fill="#abff00" stroke="#abff00"/><polygon points="1547.1,251.3 1531.1,254.8 1547.8,265.4 1563.8,262.0" fill="#00aeff" stroke="#00aeff"/><polygon points="1514.5,244.2 1498.4,247.7 1514.9,258.2 1531.1,254.8" fill="#00d6ff" stroke="#00d6ff"/><polygon points="1482.0,237.3 1465.7,240.9 1482.0,251.3 1498.4,247.7" fill="#00feff" stroke="#00feff"/><polygon points="1449.5,230.7 1432.9,234.3 1449.1,244.5 1465.7,240.9" fill="#00ffda" stroke="#00ffda"/><polygon points="1416.9,224.3 1400.1,228.0 1416.2,238.0 1432.9,234.3" fill="#00ffb5" stroke="#00ffb5"/><polygon points="1384.3,218.0 1367.4,221.8 1383.2,231.7 1400.1,228.0" fill="#00ff92" stroke="#00ff92"/><polygon points="1351.7,212.0 1334.6,215.9 1350.2,225.7 1367.4,221.8" fill="#00ff6f" stroke="#00ff6f"/><polygon points="1319.1,206.3 1301.8,210.2 1317.3,219.9 1334.6,215.9" fill="#00ff4e" stroke="#00ff4e"/><polygon points="1286.5,200.7 1269.0,204.8 1284.3,214.2 1301.8,210.2" fill="#00ff2f" stroke="#00ff2f"/><polygon points="1254.0,195.4 1236.3,199.5 1251.3,208.9 1269.0,204.8" fill="#00ff10" stroke="#00ff10"/><polygon points="1221.4,190.3 1203.5,194.5 1218.4,203.7 1236.3,199.5" fill="#0dff00" stroke="#0dff00"/><polygon points="1188.8,185.5 1170.8,189.8 1185.4,198.8 1203.5,194.5" fill="#29ff00" stroke="#29ff00"/><polygon points="1156.2,180.8 1138.0,185.2 1152.5,194.1 1170.8,189.8" fill="#44ff00" stroke="#44ff00"/><polygon points="1123.7,176.4 1105.3,180.9 1119.6,189.6 1138.0,185.2" fill="#5dff00" stroke="#5dff00"/><polygon points="1091.2,172.2 1072.6,176.8 1086.7,185.4 1105.3,180.9" fill="#75ff00" stroke="#75ff00"/><polygon points="1058.7,168.3 1039.9,172.9 1053.8,181.4 1072.6,176.8" fill="#8cff00" stroke="#8cff00"/><polygon points="1026.2,164.5 1007.3,169.3 1021.0,177.6 1039.9,172.9" fill="#a2ff00" stroke="#a2ff00"/><polygon points="1563.8,262.0 1547.8,265.4 1564.8,276.2 1580.7,272.8" fill="#0085ff" stroke="#0085ff"/><polygon points="1531.1,254.8 1514.9,258.2 1531.7,268.9 1547.8,265.4" fill="#00afff" stroke="#00afff"/><polygon points="1498.4,247.7 1482.0,251.3 1498.6,261.7 1514.9,258.2" fill="#00d7ff" stroke="#00d7ff"/><polygon points="1465.7,240.9 1449.1,244.5 1465.5,254.9 1482.0,251.3" fill="#00fdff" stroke="#00fdff"/><polygon points="1432.9,234.3 1416.2,238.0 1432.4,248.2 1449.1,244.5" fill="#00ffdb" stroke="#00ffdb"/><polygon points="1400.1,228.0 1383.2,231.7 1399.2,241.8 1416.2,238.0" fill="#00ffb7" stroke="#00ffb7"/><polygon points="1367.4,221.8 1350.2,225.7 1366.1,235.6 1383.2,231.7" fill="#00ff94" stroke="#00ff94"/><polygon points="1334.6,215.9 1317.3,219.9 1332.9,229.6 1350.2,225.7" fill="#00ff72" stroke="#00ff72"/><polygon points="1301.8,210.2 1284.3,214.2 1299.8,223.8 1317.3,219.9" fill="#00ff52" stroke="#00ff52"/><polygon points="1269.0,204.8 1251.3,208.9 1266.6,218.3 1284.3,214.2" fill="#00ff33" stroke="#00ff33"/><polygon points="1236.3,199.5 1218.4,203.7 1233.4,213.0 1251.3,208.9" fill="#00ff15" stroke="#00ff15"/><polygon points="1203.5,194.5 1185.4,198.8 1200.3,207.9 1218.4,203.7" fill="#08ff00" stroke="#08ff00"/><polygon points="1170.8,189.8 1152.5,194.1 1167.2,203.1 1185.4,198.8" fill="#23ff00" stroke="#23ff00"/><polygon points="1138.0,185.2 1119.6,189.6 1134.1,198.5 1152.5,194.1" fill="#3dff00" stroke="#3dff00"/><polygon points="1105.3,180.9 1086.7,185.4 1101.0,194.1 1119.6,189.6" fill="#56ff00" stroke="#56ff00"/><polygon points="1072.6,176.8 1053.8,181.4 1067.9,190.0 1086.7,185.4" fill="#6dff00" stroke="#6dff00"/><polygon points="1039.9,172.9 1021.0,177.6 1034.8,186.0 1053.8,181.4" fill="#83ff00" stroke="#83ff00"/><polygon points="1007.3,169.3 988.2,174.1 1001.8,182.4 1021.0,177.6" fill="#98ff00" stroke="#98ff00"/><polygon points="1580.7,272.8 1564.8,276.2 1581.9,287.1 1597.8,283.7" fill="#005dff" stroke="#005dff"/><polygon points="1547.8,265.4 1531.7,268.9 1548.6,279.6 1564.8,276.2" fill="#0087ff" stroke="#0087ff"/><polygon points="1514.9,258.2 1498.6,261.7 1515.4,272.3 1531.7,268.9" fill="#00afff" stroke="#00afff"/><polygon points="1482.0,251.3 1465.5,254.9 1482.1,265.3 1498.6,261.7" fill="#00d7ff" stroke="#00d7ff"/><polygon points="1449.1,244.5 1432.4,248.2 1448.7,258.5 1465.5,254.9" fill="#00fdff" stroke="#00fdff"/><polygon points="1416.2,238.0 1399.2,241.8 1415.4,251.9 1432.4,248.2" fill="#00ffdc" stroke="#00ffdc"/><polygon points="1383.2,231.7 1366.1,235.6 1382.1,245.5 1399.2,241.8" fill="#00ffb9" stroke="#00ffb9"/><polygon points="1350.2,225.7 1332.9,229.6 1348.7,239.4 1366.1,235.6" fill="#00ff96" stroke="#00ff96"/><polygon points="1317.3,219.9 1299.8,223.8 1315.4,233.5 1332.9,229.6" fill="#00ff75" stroke="#00ff75"/><polygon points="1284.3,214.2 1266.6,218.3 1282.0,227.8 1299.8,223.8" fill="#00ff56" stroke="#00ff56"/><polygon points="1251.3,208.9 1233.4,213.0 1248.7,222.4 1266.6,218.3" fill="#00ff37" stroke="#00ff37"/><polygon points="1218.4,203.7 1200.3,207.9 1215.3,217.2 1233.4,213.0" fill="#00ff1a" stroke="#00ff1a"/><polygon points="1185.4,198.8 1167.2,203.1 1182.0,212.2 1200.3,207.9" fill="#02ff00" stroke="#02ff00"/><polygon points="1152.5,194.1 1134.1,198.5 1148.7,207.4 1167.2,203.1" fill="#1dff00" stroke="#1dff00"/><polygon points="1119.6,189.6 1101.0,194.1 1115.4,202.9 1134.1,198.5" fill="#36ff00" stroke="#36ff00"/><polygon points="1086.7,185.4 1067.9,190.0 1082.1,198.6 1101.0,194.1" fill="#4eff00" stroke="#4eff00"/><polygon points="1053.8,181.4 1034.8,186.0 1048.9,194.6 1067.9,190.0" fill="#65ff00" stroke="#65ff00"/><polygon points="1021.0,177.6 1001.8,182.4 1015.6,190.8 1034.8,186.0" fill="#7bff00" stroke="#7bff00"/><polygon points="988.2,174.1 968.8,178.9 982.4,187.2 1001.8,182.4" fill="#8fff00" stroke="#8fff00"/><polygon points="1597.8,283.7 1581.9,287.1 1599.2,298.1 1615.1,294.8" fill="#0034ff" stroke="#0034ff"/><polygon points="1564.8,276.2 1548.6,279.6 1565.8,290.5 1581.9,287.1" fill="#005fff" stroke="#005fff"/><polygon points="1531.7,268.9 1515.4,272.3 1532.3,283.1 1548.6,279.6" fill="#0088ff" stroke="#0088ff"/><polygon points="1498.6,261.7 1482.1,265.3 1498.8,275.9 1515.4,272.3" fill="#00b0ff" stroke="#00b0ff"/><polygon points="1465.5,254.9 1448.7,258.5 1465.3,268.9 1482.1,265.3" fill="#00d7ff" stroke="#00d7ff"/><polygon points="1432.4,248.2 1415.4,251.9 1431.8,262.2 1448.7,258.5" fill="#00fdff" stroke="#00fdff"/><polygon points="1399.2,241.8 1382.1,245.5 1398.3,255.7 1415.4,251.9" fill="#00ffdd" stroke="#00ffdd"/><polygon points="1366.1,235.6 1348.7,239.4 1364.7,249.4 1382.1,245.5" fill="#00ffba" stroke="#00ffba"/><polygon points="1332.9,229.6 1315.4,233.5 1331.2,243.3 1348.7,239.4" fill="#00ff99" stroke="#00ff99"/><polygon points="1299.8,223.8 1282.0,227.8 1297.6,237.5 1315.4,233.5" fill="#00ff78" stroke="#00ff78"/><polygon points="1266.6,218.3 1248.7,222.4 1264.1,231.9 1282.0,227.8" fill="#00ff59" stroke="#00ff59"/><polygon points="1233.4,213.0 1215.3,217.2 1230.5,226.5 1248.7,222.4" fill="#00ff3b" stroke="#00ff3b"/><polygon points="1200.3,207.9 1182.0,212.2 1197.0,221.4 1215.3,217.2" fill="#00ff1f" stroke="#00ff1f"/><polygon points="1167.2,203.1 1148.7,207.4 1163.5,216.5 1182.0,212.2" fill="#00ff03" stroke="#00ff03"/><polygon points="1134.1,198.5 1115.4,202.9 1130.0,211.8 1148.7,207.4" fill="#17ff00" stroke="#17ff00"/><polygon points="1101.0,194.1 1082.1,198.6 1096.5,207.4 1115.4,202.9" fill="#2fff00" stroke="#2fff00"/><polygon points="1067.9,190.0 1048.9,194.6 1063.0,203.2 1082.1,198.6" fill="#47ff00" stroke="#47ff00"/><polygon points="1034.8,186.0 1015.6,190.8 1029.6,199.3 1048.9,194.6" fill="#5dff00" stroke="#5dff00"/><polygon points="1001.8,182.4 982.4,187.2 996.2,195.5 1015.6,190.8" fill="#72ff00" stroke="#72ff00"/><polygon points="968.8,178.9 949.3,183.8 962.8,192.0 982.4,187.2" fill="#85ff00" stroke="#85ff00"/><polygon points="1581.9,287.1 1565.8,290.5 1583.1,301.5 1599.2,298.1" fill="#0037ff" stroke="#0037ff"/><polygon points="1548.6,279.6 1532.3,283.1 1549.5,293.9 1565.8,290.5" fill="#0061ff" stroke="#0061ff"/><polygon points="1515.4,272.3 1498.8,275.9 1515.8,286.6 1532.3,283.1" fill="#008aff" stroke="#008aff"/><polygon points="1482.1,265.3 1465.3,268.9 1482.1,279.4 1498.8,275.9" fill="#00b1ff" stroke="#00b1ff"/><polygon points="1448.7,258.5 1431.8,262.2 1448.4,272.5 1465.3,268.9" fill="#00d7ff" stroke="#00d7ff"/><polygon points="1415.4,251.9 1398.3,255.7 1414.7,265.9 1431.8,262.2" fill="#00fcff" stroke="#00fcff"/><polygon points="1382.1,245.5 1364.7,249.4 1380.9,259.4 1398.3,255.7" fill="#00ffde" stroke="#00ffde"/><polygon points="1348.7,239.4 1331.2,243.3 1347.2,253.2 1364.7,249.4" fill="#00ffbc" stroke="#00ffbc"/><polygon points="1315.4,233.5 1297.6,237.5 1313.4,247.3 1331.2,243.3" fill="#00ff9b" stroke="#00ff9b"/><polygon points="1282.0,227.8 1264.1,231.9 1279.7,241.5 1297.6,237.5" fill="#00ff7b" stroke="#00ff7b"/><polygon points="1248.7,222.4 1230.5,226.5 1245.9,236.0 1264.1,231.9" fill="#00ff5d" stroke="#00ff5d"/><polygon points="1215.3,217.2 1197.0,221.4 1212.2,230.7 1230.5,226.5" fill="#00ff40" stroke="#00ff40"/><polygon points="1182.0,212.2 1163.5,216.5 1178.5,225.7 1197.0,221.4" fill="#00ff24" stroke="#00ff24"/><polygon points="1148.7,207.4 1130.0,211.8 1144.8,220.9 1163.5,216.5" fill="#00ff09" stroke="#00ff09"/><polygon points="1115.4,202.9 1096.5,207.4 1111.1,216.3 1130.0,211.8" fill="#10ff00" stroke="#10ff00"/><polygon points="1082.1,198.6 1063.0,203.2 1077.4,212.0 1096.5,207.4" fill="#28ff00" stroke="#28ff00"/><polygon points="1048.9,194.6 1029.6,199.3 1043.8,207.9 1063.0,203.2" fill="#3fff00" stroke="#3fff00"/><polygon points="1015.6,190.8 996.2,195.5 1010.1,204.0 1029.6,199.3" fill="#55ff00" stroke="#55ff00"/><polygon points="982.4,187.2 962.8,192.0 976.6,200.3 996.2,195.5" fill="#69ff00" stroke="#69ff00"/><polygon points="1565.8,290.5 1549.5,293.9 1566.8,304.9 1583.1,301.5" fill="#003aff" stroke="#003aff"/><polygon points="1532.3,283.1 1515.8,286.6 1533.0,297.4 1549.5,293.9" fill="#0063ff" stroke="#0063ff"/><polygon points="1498.8,275.9 1482.1,279.4 1499.1,290.1 1515.8,286.6" fill="#008bff" stroke="#008bff"/><polygon points="1465.3,268.9 1448.4,272.5 1465.2,283.0 1482.1,279.4" fill="#00b2ff" stroke="#00b2ff"/><polygon points="1431.8,262.2 1414.7,265.9 1431.3,276.2 1448.4,272.5" fill="#00d7ff" stroke="#00d7ff"/><polygon points="1398.3,255.7 1380.9,259.4 1397.3,269.6 1414.7,265.9" fill="#00fcff" stroke="#00fcff"/><polygon points="1364.7,249.4 1347.2,253.2 1363.4,263.3 1380.9,259.4" fill="#00ffdf" stroke="#00ffdf"/><polygon points="1331.2,243.3 1313.4,247.3 1329.4,257.2 1347.2,253.2" fill="#00ffbe" stroke="#00ffbe"/><polygon points="1297.6,237.5 1279.7,241.5 1295.5,251.3 1313.4,247.3" fill="#00ff9d" stroke="#00ff9d"/><polygon points="1264.1,231.9 1245.9,236.0 1261.5,245.6 1279.7,241.5" fill="#00ff7e" stroke="#00ff7e"/><polygon points="1230.5,226.5 1212.2,230.7 1227.6,240.2 1245.9,236.0" fill="#00ff60" stroke="#00ff60"/><polygon points="1197.0,221.4 1178.5,225.7 1193.6,235.0 1212.2,230.7" fill="#00ff44" stroke="#00ff44"/><polygon points="1163.5,216.5 1144.8,220.9 1159.7,230.0 1178.5,225.7" fill="#00ff29" stroke="#00ff29"/><polygon points="1130.0,211.8 1111.1,216.3 1125.8,225.3 1144.8,220.9" fill="#00ff0f" stroke="#00ff0f"/><polygon points="1096.5,207.4 1077.4,212.0 1091.9,220.8 1111.1,216.3" fill="#0aff00" stroke="#0aff00"/><polygon points="1063.0,203.2 1043.8,207.9 1058.1,216.6 1077.4,212.0" fill="#22ff00" stroke="#22ff00"/><polygon points="1029.6,199.3 1010.1,204.0 1024.2,212.5 1043.8,207.9" fill="#38ff00" stroke="#38ff00"/><polygon points="996.2,195.5 976.6,200.3 990.4,208.8 1010.1,204.0" fill="#4dff00" stroke="#4dff00"/><polygon points="1549.5,293.9 1533.0,297.4 1550.3,308.3 1566.8,304.9" fill="#003dff" stroke="#003dff"/><polygon points="1515.8,286.6 1499.1,290.1 1516.3,300.9 1533.0,297.4" fill="#0065ff" stroke="#0065ff"/><polygon points="1482.1,279.4 1465.2,283.0 1482.2,293.7 1499.1,290.1" fill="#008dff" stroke="#008dff"/><polygon points="1448.4,272.5 1431.3,276.2 1448.0,286.7 1465.2,283.0" fill="#00b3ff" stroke="#00b3ff"/><polygon points="1414.7,265.9 1397.3,269.6 1413.9,280.0 1431.3,276.2" fill="#00d8ff" stroke="#00d8ff"/><polygon points="1380.9,259.4 1363.4,263.3 1379.8,273.4 1397.3,269.6" fill="#00fbff" stroke="#00fbff"/><polygon points="1347.2,253.2 1329.4,257.2 1345.6,267.2 1363.4,263.3" fill="#00ffe0" stroke="#00ffe0"/><polygon points="1313.4,247.3 1295.5,251.3 1311.4,261.1 1329.4,257.2" fill="#00ffbf" stroke="#00ffbf"/><polygon points="1279.7,241.5 1261.5,245.6 1277.3,255.3 1295.5,251.3" fill="#00ffa0" stroke="#00ffa0"/><polygon points="1245.9,236.0 1227.6,240.2 1243.1,249.7 1261.5,245.6" fill="#00ff81" stroke="#00ff81"/><polygon points="1212.2,230.7 1193.6,235.0 1209.0,244.4 1227.6,240.2" fill="#00ff64" stroke="#00ff64"/><polygon points="1178.5,225.7 1159.7,230.0 1174.9,239.3 1193.6,235.0" fill="#00ff48" stroke="#00ff48"/><polygon points="1144.8,220.9 1125.8,225.3 1140.7,234.4 1159.7,230.0" fill="#00ff2d" stroke="#00ff2d"/><polygon points="1111.1,216.3 1091.9,220.8 1106.6,229.8 1125.8,225.3" fill="#00ff14" stroke="#00ff14"/><polygon points="1077.4,212.0 1058.1,216.6 1072.6,225.4 1091.9,220.8" fill="#04ff00" stroke="#04ff00"/><polygon points="1043.8,207.9 1024.2,212.5 1038.5,221.2 1058.1,216.6" fill="#1bff00" stroke="#1bff00"/><polygon points="1010.1,204.0 990.4,208.8 1004.5,217.3 1024.2,212.5" fill="#30ff00" stroke="#30ff00"/><polygon points="1533.0,297.4 1516.3,300.9 1533.6,311.8 1550.3,308.3" fill="#003fff" stroke="#003fff"/><polygon points="1499.1,290.1 1482.2,293.7 1499.3,304.4 1516.3,300.9" fill="#0067ff" stroke="#0067ff"/><polygon points="1465.2,283.0 1448.0,286.7 1465.0,297.3 1482.2,293.7" fill="#008eff" stroke="#008eff"/><polygon points="1431.3,276.2 1413.9,280.0 1430.7,290.4 1448.0,286.7" fill="#00b4ff" stroke="#00b4ff"/><polygon points="1397.3,269.6 1379.8,273.4 1396.3,283.7 1413.9,280.0" fill="#00d8ff" stroke="#00d8ff"/><polygon points="1363.4,263.3 1345.6,267.2 1362.0,277.3 1379.8,273.4" fill="#00fbff" stroke="#00fbff"/><polygon points="1329.4,257.2 1311.4,261.1 1327.6,271.1 1345.6,267.2" fill="#00ffe2" stroke="#00ffe2"/><polygon points="1295.5,251.3 1277.3,255.3 1293.3,265.1 1311.4,261.1" fill="#00ffc1" stroke="#00ffc1"/><polygon points="1261.5,245.6 1243.1,249.7 1258.9,259.4 1277.3,255.3" fill="#00ffa2" stroke="#00ffa2"/><polygon points="1227.6,240.2 1209.0,244.4 1224.5,253.9 1243.1,249.7" fill="#00ff84" stroke="#00ff84"/><polygon points="1193.6,235.0 1174.9,239.3 1190.2,248.7 1209.0,244.4" fill="#00ff68" stroke="#00ff68"/><polygon points="1159.7,230.0 1140.7,234.4 1155.9,243.6 1174.9,239.3" fill="#00ff4c" stroke="#00ff4c"/><polygon points="1125.8,225.3 1106.6,229.8 1121.5,238.8 1140.7,234.4" fill="#00ff32" stroke="#00ff32"/><polygon points="1091.9,220.8 1072.6,225.4 1087.2,234.3 1106.6,229.8" fill="#00ff1a" stroke="#00ff1a"/><polygon points="1058.1,216.6 1038.5,221.2 1053.0,230.0 1072.6,225.4" fill="#00ff02" stroke="#00ff02"/><polygon points="1024.2,212.5 1004.5,217.3 1018.7,225.9 1038.5,221.2" fill="#14ff00" stroke="#14ff00"/><polygon points="1516.3,300.9 1499.3,304.4 1516.7,315.3 1533.6,311.8" fill="#0042ff" stroke="#0042ff"/><polygon points="1482.2,293.7 1465.0,297.3 1482.2,308.0 1499.3,304.4" fill="#0069ff" stroke="#0069ff"/><polygon points="1448.0,286.7 1430.7,290.4 1447.7,301.0 1465.0,297.3" fill="#0090ff" stroke="#0090ff"/><polygon points="1413.9,280.0 1396.3,283.7 1413.1,294.1 1430.7,290.4" fill="#00b4ff" stroke="#00b4ff"/><polygon points="1379.8,273.4 1362.0,277.3 1378.6,287.6 1396.3,283.7" fill="#00d8ff" stroke="#00d8ff"/><polygon points="1345.6,267.2 1327.6,271.1 1344.0,281.2 1362.0,277.3" fill="#00faff" stroke="#00faff"/><polygon points="1311.4,261.1 1293.3,265.1 1309.4,275.1 1327.6,271.1" fill="#00ffe3" stroke="#00ffe3"/><polygon points="1277.3,255.3 1258.9,259.4 1274.8,269.2 1293.3,265.1" fill="#00ffc3" stroke="#00ffc3"/><polygon points="1243.1,249.7 1224.5,253.9 1240.3,263.5 1258.9,259.4" fill="#00ffa4" stroke="#00ffa4"/><polygon points="1209.0,244.4 1190.2,248.7 1205.7,258.1 1224.5,253.9" fill="#00ff87" stroke="#00ff87"/><polygon points="1174.9,239.3 1155.9,243.6 1171.2,253.0 1190.2,248.7" fill="#00ff6b" stroke="#00ff6b"/><polygon points="1140.7,234.4 1121.5,238.8 1136.6,248.0 1155.9,243.6" fill="#00ff51" stroke="#00ff51"/><polygon points="1106.6,229.8 1087.2,234.3 1102.1,243.3 1121.5,238.8" fill="#00ff37" stroke="#00ff37"/><polygon points="1072.6,225.4 1053.0,230.0 1067.6,238.9 1087.2,234.3" fill="#00ff1f" stroke="#00ff1f"/><polygon points="1038.5,221.2 1018.7,225.9 1033.1,234.7 1053.0,230.0" fill="#00ff08" stroke="#00ff08"/><polygon points="1499.3,304.4 1482.2,308.0 1499.6,318.9 1516.7,315.3" fill="#0045ff" stroke="#0045ff"/><polygon points="1465.0,297.3 1447.7,301.0 1464.9,311.7 1482.2,308.0" fill="#006cff" stroke="#006cff"/><polygon points="1430.7,290.4 1413.1,294.1 1430.1,304.7 1447.7,301.0" fill="#0091ff" stroke="#0091ff"/><polygon points="1396.3,283.7 1378.6,287.6 1395.3,297.9 1413.1,294.1" fill="#00b5ff" stroke="#00b5ff"/><polygon points="1362.0,277.3 1344.0,281.2 1360.6,291.4 1378.6,287.6" fill="#00d8ff" stroke="#00d8ff"/><polygon points="1327.6,271.1 1309.4,275.1 1325.8,285.1 1344.0,281.2" fill="#00faff" stroke="#00faff"/><polygon points="1293.3,265.1 1274.8,269.2 1291.0,279.1 1309.4,275.1" fill="#00ffe4" stroke="#00ffe4"/><polygon points="1258.9,259.4 1240.3,263.5 1256.2,273.3 1274.8,269.2" fill="#00ffc5" stroke="#00ffc5"/><polygon points="1224.5,253.9 1205.7,258.1 1221.4,267.7 1240.3,263.5" fill="#00ffa7" stroke="#00ffa7"/><polygon points="1190.2,248.7 1171.2,253.0 1186.6,262.4 1205.7,258.1" fill="#00ff8a" stroke="#00ff8a"/><polygon points="1155.9,243.6 1136.6,248.0 1151.9,257.3 1171.2,253.0" fill="#00ff6f" stroke="#00ff6f"/><polygon points="1121.5,238.8 1102.1,243.3 1117.2,252.5 1136.6,248.0" fill="#00ff55" stroke="#00ff55"/><polygon points="1087.2,234.3 1067.6,238.9 1082.4,247.9 1102.1,243.3" fill="#00ff3c" stroke="#00ff3c"/><polygon points="1053.0,230.0 1033.1,234.7 1047.7,243.5 1067.6,238.9" fill="#00ff25" stroke="#00ff25"/><polygon points="1482.2,308.0 1464.9,311.7 1482.3,322.5 1499.6,318.9" fill="#0048ff" stroke="#0048ff"/><polygon points="1447.7,301.0 1430.1,304.7 1447.3,315.3 1464.9,311.7" fill="#006eff" stroke="#006eff"/><polygon points="1413.1,294.1 1395.3,297.9 1412.3,308.4 1430.1,304.7" fill="#0093ff" stroke="#0093ff"/><polygon points="1378.6,287.6 1360.6,291.4 1377.3,301.8 1395.3,297.9" fill="#00b6ff" stroke="#00b6ff"/><polygon points="1344.0,281.2 1325.8,285.1 1342.3,295.3 1360.6,291.4" fill="#00d8ff" stroke="#00d8ff"/><polygon points="1309.4,275.1 1291.0,279.1 1307.3,289.1 1325.8,285.1" fill="#00f9ff" stroke="#00f9ff"/><polygon points="1274.8,269.2 1256.2,273.3 1272.3,283.2 1291.0,279.1" fill="#00ffe5" stroke="#00ffe5"/><polygon points="1240.3,263.5 1221.4,267.7 1237.3,277.5 1256.2,273.3" fill="#00ffc6" stroke="#00ffc6"/><polygon points="1205.7,258.1 1186.6,262.4 1202.3,272.0 1221.4,267.7" fill="#00ffa9" stroke="#00ffa9"/><polygon points="1171.2,253.0 1151.9,257.3 1167.4,266.8 1186.6,262.4" fill="#00ff8d" stroke="#00ff8d"/><polygon points="1136.6,248.0 1117.2,252.5 1132.4,261.8 1151.9,257.3" fill="#00ff73" stroke="#00ff73"/><polygon points="1102.1,243.3 1082.4,247.9 1097.4,257.0 1117.2,252.5" fill="#00ff59" stroke="#00ff59"/><polygon points="1067.6,238.9 1047.7,243.5 1062.5,252.5 1082.4,247.9" fill="#00ff41" stroke="#00ff41"/><polygon points="1464.9,311.7 1447.3,315.3 1464.7,326.2 1482.3,322.5" fill="#004aff" stroke="#004aff"/><polygon points="1430.1,304.7 1412.3,308.4 1429.5,319.1 1447.3,315.3" fill="#0070ff" stroke="#0070ff"/><polygon points="1395.3,297.9 1377.3,301.8 1394.3,312.3 1412.3,308.4" fill="#0094ff" stroke="#0094ff"/><polygon points="1360.6,291.4 1342.3,295.3 1359.1,305.7 1377.3,301.8" fill="#00b7ff" stroke="#00b7ff"/><polygon points="1325.8,285.1 1307.3,289.1 1323.9,299.3 1342.3,295.3" fill="#00d9ff" stroke="#00d9ff"/><polygon points="1291.0,279.1 1272.3,283.2 1288.7,293.2 1307.3,289.1" fill="#00f9ff" stroke="#00f9ff"/><polygon points="1256.2,273.3 1237.3,277.5 1253.4,287.3 1272.3,283.2" fill="#00ffe6" stroke="#00ffe6"/><polygon points="1221.4,267.7 1202.3,272.0 1218.2,281.7 1237.3,277.5" fill="#00ffc8" stroke="#00ffc8"/><polygon points="1186.6,262.4 1167.4,266.8 1183.0,276.3 1202.3,272.0" fill="#00ffac" stroke="#00ffac"/><polygon points="1151.9,257.3 1132.4,261.8 1147.8,271.1 1167.4,266.8" fill="#00ff90" stroke="#00ff90"/><polygon points="1117.2,252.5 1097.4,257.0 1112.7,266.2 1132.4,261.8" fill="#00ff76" stroke="#00ff76"/><polygon points="1082.4,247.9 1062.5,252.5 1077.5,261.6 1097.4,257.0" fill="#00ff5d" stroke="#00ff5d"/><polygon points="1447.3,315.3 1429.5,319.1 1447.0,329.9 1464.7,326.2" fill="#004dff" stroke="#004dff"/><polygon points="1412.3,308.4 1394.3,312.3 1411.5,322.9 1429.5,319.1" fill="#0072ff" stroke="#0072ff"/><polygon points="1377.3,301.8 1359.1,305.7 1376.1,316.1 1394.3,312.3" fill="#0095ff" stroke="#0095ff"/><polygon points="1342.3,295.3 1323.9,299.3 1340.6,309.6 1359.1,305.7" fill="#00b8ff" stroke="#00b8ff"/><polygon points="1307.3,289.1 1288.7,293.2 1305.2,303.3 1323.9,299.3" fill="#00d9ff" stroke="#00d9ff"/><polygon points="1272.3,283.2 1253.4,287.3 1269.8,297.3 1288.7,293.2" fill="#00f9ff" stroke="#00f9ff"/><polygon points="1237.3,277.5 1218.2,281.7 1234.3,291.5 1253.4,287.3" fill="#00ffe7" stroke="#00ffe7"/><polygon points="1202.3,272.0 1183.0,276.3 1198.9,285.9 1218.2,281.7" fill="#00ffca" stroke="#00ffca"/><polygon points="1167.4,266.8 1147.8,271.1 1163.5,280.6 1183.0,276.3" fill="#00ffae" stroke="#00ffae"/><polygon points="1132.4,261.8 1112.7,266.2 1128.0,275.6 1147.8,271.1" fill="#00ff93" stroke="#00ff93"/><polygon points="1097.4,257.0 1077.5,261.6 1092.7,270.8 1112.7,266.2" fill="#00ff7a" stroke="#00ff7a"/><polygon points="1429.5,319.1 1411.5,322.9 1428.9,333.6 1447.0,329.9" fill="#0050ff" stroke="#0050ff"/><polygon points="1394.3,312.3 1376.1,316.1 1393.3,326.7 1411.5,322.9" fill="#0074ff" stroke="#0074ff"/><polygon points="1359.1,305.7 1340.6,309.6 1357.6,320.0 1376.1,316.1" fill="#0097ff" stroke="#0097ff"/><polygon points="1323.9,299.3 1305.2,303.3 1321.9,313.6 1340.6,309.6" fill="#00b9ff" stroke="#00b9ff"/><polygon points="1288.7,293.2 1269.8,297.3 1286.3,307.4 1305.2,303.3" fill="#00d9ff" stroke="#00d9ff"/><polygon points="1253.4,287.3 1234.3,291.5 1250.6,301.4 1269.8,297.3" fill="#00f8ff" stroke="#00f8ff"/><polygon points="1218.2,281.7 1198.9,285.9 1214.9,295.7 1234.3,291.5" fill="#00ffe8" stroke="#00ffe8"/><polygon points="1183.0,276.3 1163.5,280.6 1179.3,290.3 1198.9,285.9" fill="#00ffcc" stroke="#00ffcc"/><polygon points="1147.8,271.1 1128.0,275.6 1143.6,285.0 1163.5,280.6" fill="#00ffb0" stroke="#00ffb0"/><polygon points="1112.7,266.2 1092.7,270.8 1108.0,280.1 1128.0,275.6" fill="#00ff96" stroke="#00ff96"/><polygon points="1411.5,322.9 1393.3,326.7 1410.7,337.4 1428.9,333.6" fill="#0053ff" stroke="#0053ff"/><polygon points="1376.1,316.1 1357.6,320.0 1374.8,330.6 1393.3,326.7" fill="#0076ff" stroke="#0076ff"/><polygon points="1340.6,309.6 1321.9,313.6 1338.9,324.0 1357.6,320.0" fill="#0098ff" stroke="#0098ff"/><polygon points="1305.2,303.3 1286.3,307.4 1303.0,317.6 1321.9,313.6" fill="#00b9ff" stroke="#00b9ff"/><polygon points="1269.8,297.3 1250.6,301.4 1267.1,311.5 1286.3,307.4" fill="#00d9ff" stroke="#00d9ff"/><polygon points="1234.3,291.5 1214.9,295.7 1231.2,305.6 1250.6,301.4" fill="#00f8ff" stroke="#00f8ff"/><polygon points="1198.9,285.9 1179.3,290.3 1195.3,300.0 1214.9,295.7" fill="#00ffe9" stroke="#00ffe9"/><polygon points="1163.5,280.6 1143.6,285.0 1159.4,294.6 1179.3,290.3" fill="#00ffcd" stroke="#00ffcd"/><polygon points="1128.0,275.6 1108.0,280.1 1123.6,289.5 1143.6,285.0" fill="#00ffb3" stroke="#00ffb3"/><polygon points="1393.3,326.7 1374.8,330.6 1392.2,341.3 1410.7,337.4" fill="#0055ff" stroke="#0055ff"/><polygon points="1357.6,320.0 1338.9,324.0 1356.1,334.5 1374.8,330.6" fill="#0078ff" stroke="#0078ff"/><polygon points="1321.9,313.6 1303.0,317.6 1320.0,328.0 1338.9,324.0" fill="#009aff" stroke="#009aff"/><polygon points="1286.3,307.4 1267.1,311.5 1283.8,321.7 1303.0,317.6" fill="#00baff" stroke="#00baff"/><polygon points="1250.6,301.4 1231.2,305.6 1247.7,315.7 1267.1,311.5" fill="#00d9ff" stroke="#00d9ff"/><polygon points="1214.9,295.7 1195.3,300.0 1211.6,309.9 1231.2,305.6" fill="#00f7ff" stroke="#00f7ff"/><polygon points="1179.3,290.3 1159.4,294.6 1175.5,304.4 1195.3,300.0" fill="#00ffea" stroke="#00ffea"/><polygon points="1143.6,285.0 1123.6,289.5 1139.4,299.1 1159.4,294.6" fill="#00ffcf" stroke="#00ffcf"/><polygon points="1374.8,330.6 1356.1,334.5 1373.5,345.2 1392.2,341.3" fill="#0058ff" stroke="#0058ff"/><polygon points="1338.9,324.0 1320.0,328.0 1337.1,338.5 1356.1,334.5" fill="#007aff" stroke="#007aff"/><polygon points="1303.0,317.6 1283.8,321.7 1300.8,332.0 1320.0,328.0" fill="#009bff" stroke="#009bff"/><polygon points="1267.1,311.5 1247.7,315.7 1264.4,325.9 1283.8,321.7" fill="#00bbff" stroke="#00bbff"/><polygon points="1231.2,305.6 1211.6,309.9 1228.0,319.9 1247.7,315.7" fill="#00daff" stroke="#00daff"/><polygon points="1195.3,300.0 1175.5,304.4 1191.7,314.2 1211.6,309.9" fill="#00f7ff" stroke="#00f7ff"/><polygon points="1159.4,294.6 1139.4,299.1 1155.3,308.8 1175.5,304.4" fill="#00ffeb" stroke="#00ffeb"/><polygon points="1356.1,334.5 1337.1,338.5 1354.5,349.1 1373.5,345.2" fill="#005bff" stroke="#005bff"/><polygon points="1320.0,328.0 1300.8,332.0 1317.9,342.5 1337.1,338.5" fill="#007cff" stroke="#007cff"/><polygon points="1283.8,321.7 1264.4,325.9 1281.3,336.2 1300.8,332.0" fill="#009dff" stroke="#009dff"/><polygon points="1247.7,315.7 1228.0,319.9 1244.7,330.1 1264.4,325.9" fill="#00bcff" stroke="#00bcff"/><polygon points="1211.6,309.9 1191.7,314.2 1208.1,324.2 1228.0,319.9" fill="#00daff" stroke="#00daff"/><polygon points="1175.5,304.4 1155.3,308.8 1171.5,318.6 1191.7,314.2" fill="#00f6ff" stroke="#00f6ff"/><polygon points="1337.1,338.5 1317.9,342.5 1335.3,353.1 1354.5,349.1" fill="#005dff" stroke="#005dff"/><polygon points="1300.8,332.0 1281.3,336.2 1298.5,346.6 1317.9,342.5" fill="#007fff" stroke="#007fff"/><polygon points="1264.4,325.9 1244.7,330.1 1261.6,340.3 1281.3,336.2" fill="#009eff" stroke="#009eff"/><polygon points="1228.0,319.9 1208.1,324.2 1224.8,334.3 1244.7,330.1" fill="#00bdff" stroke="#00bdff"/><polygon points="1191.7,314.2 1171.5,318.6 1187.9,328.5 1208.1,324.2" fill="#00daff" stroke="#00daff"/><polygon points="1317.9,342.5 1298.5,346.6 1315.8,357.2 1335.3,353.1" fill="#0060ff" stroke="#0060ff"/><polygon points="1281.3,336.2 1261.6,340.3 1278.7,350.7 1298.5,346.6" fill="#0081ff" stroke="#0081ff"/><polygon points="1244.7,330.1 1224.8,334.3 1241.6,344.6 1261.6,340.3" fill="#00a0ff" stroke="#00a0ff"/><polygon points="1208.1,324.2 1187.9,328.5 1204.6,338.6 1224.8,334.3" fill="#00beff" stroke="#00beff"/><polygon points="1298.5,346.6 1278.7,350.7 1296.1,361.3 1315.8,357.2" fill="#0063ff" stroke="#0063ff"/><polygon points="1261.6,340.3 1241.6,344.6 1258.8,354.9 1278.7,350.7" fill="#0083ff" stroke="#0083ff"/><polygon points="1224.8,334.3 1204.6,338.6 1221.4,348.8 1241.6,344.6" fill="#00a1ff" stroke="#00a1ff"/><polygon points="1278.7,350.7 1258.8,354.9 1276.1,365.5 1296.1,361.3" fill="#0066ff" stroke="#0066ff"/><polygon points="1241.6,344.6 1221.4,348.8 1238.5,359.2 1258.8,354.9" fill="#0085ff" stroke="#0085ff"/><polygon points="1258.8,354.9 1238.5,359.2 1255.8,369.7 1276.1,365.5" fill="#0068ff" stroke="#0068ff"/></g>
<path d="M1302.7 95.3L1316.8 104.3L1331.1 113.4L1345.4 122.6L1360.0 131.9L1374.7 141.2L1389.5 150.7L1404.5 160.3L1419.7 170.0L1435.0 179.8L1450.5 189.7L1466.1 199.7L1482.0 209.8L1498.0 220.0L1514.2 230.3L1530.5 240.8L1547.1 251.3L1563.8 262.0L1580.7 272.8L1597.8 283.7L1615.1 294.8M1302.7 95.3L1286.8 99.3L1270.7 103.3L1254.4 107.4L1237.9 111.5L1221.3 115.7L1204.5 119.9L1187.5 124.2L1170.3 128.5L1153.0 132.8L1135.5 137.2L1117.7 141.6L1099.8 146.1L1081.7 150.6L1063.4 155.2L1044.9 159.9L1026.2 164.5L1007.3 169.3L988.2 174.1L968.8 178.9L949.3 183.8M1286.8 99.3L1300.9 108.3L1315.1 117.3L1329.5 126.5L1344.0 135.7L1358.7 145.0L1373.5 154.5L1388.5 164.0L1403.7 173.7L1419.0 183.4L1434.5 193.3L1450.1 203.3L1466.0 213.3L1482.0 223.5L1498.2 233.8L1514.5 244.2L1531.1 254.8L1547.8 265.4L1564.8 276.2L1581.9 287.1L1599.2 298.1M1316.8 104.3L1300.9 108.3L1284.7 112.3L1268.4 116.3L1251.9 120.4L1235.3 124.5L1218.5 128.7L1201.5 132.9L1184.3 137.1L1166.9 141.4L1149.4 145.8L1131.6 150.2L1113.7 154.6L1095.6 159.1L1077.2 163.7L1058.7 168.3L1039.9 172.9L1021.0 177.6L1001.8 182.4L982.4 187.2L962.8 192.0M1270.7 103.3L1284.7 112.3L1298.9 121.3L1313.3 130.4L1327.8 139.6L1342.5 148.9L1357.3 158.3L1372.3 167.8L1387.5 177.4L1402.8 187.1L1418.3 197.0L1434.0 206.9L1449.8 216.9L1465.8 227.1L1482.0 237.3L1498.4 247.7L1514.9 258.2L1531.7 268.9L1548.6 279.6L1565.8 290.5L1583.1 301.5M1331.1 113.4L1315.1 117.3L1298.9 121.3L1282.6 125.3L1266.1 129.3L1249.5 133.4L1232.6 137.5L1215.6 141.7L1198.4 145.9L1181.0 150.2L1163.5 154.5L1145.7 158.9L1127.7 163.3L1109.6 167.7L1091.2 172.2L1072.6 176.8L1053.8 181.4L1034.8 186.0L1015.6 190.8L996.2 195.5L976.6 200.3M1254.4 107.4L1268.4 116.3L1282.6 125.3L1297.0 134.3L1311.5 143.5L1326.2 152.8L1341.0 162.1L1356.0 171.6L1371.1 181.2L1386.4 190.9L1401.9 200.7L1417.6 210.6L1433.4 220.6L1449.5 230.7L1465.7 240.9L1482.0 251.3L1498.6 261.7L1515.4 272.3L1532.3 283.1L1549.5 293.9L1566.8 304.9M1345.4 122.6L1329.5 126.5L1313.3 130.4L1297.0 134.3L1280.5 138.3L1263.8 142.4L1247.0 146.5L1229.9 150.6L1212.7 154.8L1195.3 159.0L1177.7 163.3L1159.9 167.6L1141.9 172.0L1123.7 176.4L1105.3 180.9L1086.7 185.4L1067.9 190.0L1048.9 194.6L1029.6 199.3L1010.1 204.0L990.4 208.8M1237.9 111.5L1251.9 120.4L1266.1 129.3L1280.5 138.3L1295.0 147.5L1309.6 156.7L1324.5 166.0L1339.4 175.5L1354.6 185.0L1369.9 194.7L1385.4 204.4L1401.0 214.3L1416.9 224.3L1432.9 234.3L1449.1 244.5L1465.5 254.9L1482.1 265.3L1498.8 275.9L1515.8 286.6L1533.0 297.4L1550.3 308.3M1360.0 131.9L1344.0 135.7L1327.8 139.6L1311.5 143.5L1295.0 147.5L1278.3 151.5L1261.4 155.5L1244.4 159.6L1227.1 163.8L1209.7 168.0L1192.1 172.2L1174.3 176.5L1156.2 180.8L1138.0 185.2L1119.6 189.6L1101.0 194.1L1082.1 198.6L1063.0 203.2L1043.8 207.9L1024.2 212.5L1004.5 217.3M1221.3 115.7L1235.3 124.5L1249.5 133.4L1263.8 142.4L1278.3 151.5L1292.9 160.7L1307.7 170.0L1322.7 179.4L1337.9 188.9L1353.2 198.5L1368.6 208.2L1384.3 218.0L1400.1 228.0L1416.2 238.0L1432.4 248.2L1448.7 258.5L1465.3 268.9L1482.1 279.4L1499.1 290.1L1516.3 300.9L1533.6 311.8M1374.7 141.2L1358.7 145.0L1342.5 148.9L1326.2 152.8L1309.6 156.7L1292.9 160.7L1276.1 164.7L1259.0 168.8L1241.7 172.9L1224.3 177.0L1206.6 181.2L1188.8 185.5L1170.8 189.8L1152.5 194.1L1134.1 198.5L1115.4 202.9L1096.5 207.4L1077.4 212.0L1058.1 216.6L1038.5 221.2L1018.7 225.9M1204.5 119.9L1218.5 128.7L1232.6 137.5L1247.0 146.5L1261.4 155.5L1276.1 164.7L1290.9 174.0L1305.8 183.3L1320.9 192.8L1336.2 202.4L1351.7 212.0L1367.4 221.8L1383.2 231.7L1399.2 241.8L1415.4 251.9L1431.8 262.2L1448.4 272.5L1465.2 283.0L1482.2 293.7L1499.3 304.4L1516.7 315.3M1389.5 150.7L1373.5 154.5L1357.3 158.3L1341.0 162.1L1324.5 166.0L1307.7 170.0L1290.9 174.0L1273.8 178.0L1256.5 182.0L1239.0 186.2L1221.4 190.3L1203.5 194.5L1185.4 198.8L1167.2 203.1L1148.7 207.4L1130.0 211.8L1111.1 216.3L1091.9 220.8L1072.6 225.4L1053.0 230.0L1033.1 234.7M1187.5 124.2L1201.5 132.9L1215.6 141.7L1229.9 150.6L1244.4 159.6L1259.0 168.8L1273.8 178.0L1288.7 187.3L1303.8 196.7L1319.1 206.3L1334.6 215.9L1350.2 225.7L1366.1 235.6L1382.1 245.5L1398.3 255.7L1414.7 265.9L1431.3 276.2L1448.0 286.7L1465.0 297.3L1482.2 308.0L1499.6 318.9M1404.5 160.3L1388.5 164.0L1372.3 167.8L1356.0 171.6L1339.4 175.5L1322.7 179.4L1305.8 183.3L1288.7 187.3L1271.4 191.3L1254.0 195.4L1236.3 199.5L1218.4 203.7L1200.3 207.9L1182.0 212.2L1163.5 216.5L1144.8 220.9L1125.8 225.3L1106.6 229.8L1087.2 234.3L1067.6 238.9L1047.7 243.5M1170.3 128.5L1184.3 137.1L1198.4 145.9L1212.7 154.8L1227.1 163.8L1241.7 172.9L1256.5 182.0L1271.4 191.3L1286.5 200.7L1301.8 210.2L1317.3 219.9L1332.9 229.6L1348.7 239.4L1364.7 249.4L1380.9 259.4L1397.3 269.6L1413.9 280.0L1430.7 290.4L1447.7 301.0L1464.9 311.7L1482.3 322.5M1419.7 170.0L1403.7 173.7L1387.5 177.4L1371.1 181.2L1354.6 185.0L1337.9 188.9L1320.9 192.8L1303.8 196.7L1286.5 200.7L1269.0 204.8L1251.3 208.9L1233.4 213.0L1215.3 217.2L1197.0 221.4L1178.5 225.7L1159.7 230.0L1140.7 234.4L1121.5 238.8L1102.1 243.3L1082.4 247.9L1062.5 252.5M1153.0 132.8L1166.9 141.4L1181.0 150.2L1195.3 159.0L1209.7 168.0L1224.3 177.0L1239.0 186.2L1254.0 195.4L1269.0 204.8L1284.3 214.2L1299.8 223.8L1315.4 233.5L1331.2 243.3L1347.2 253.2L1363.4 263.3L1379.8 273.4L1396.3 283.7L1413.1 294.1L1430.1 304.7L1447.3 315.3L1464.7 326.2M1435.0 179.8L1419.0 183.4L1402.8 187.1L1386.4 190.9L1369.9 194.7L1353.2 198.5L1336.2 202.4L1319.1 206.3L1301.8 210.2L1284.3 214.2L1266.6 218.3L1248.7 222.4L1230.5 226.5L1212.2 230.7L1193.6 235.0L1174.9 239.3L1155.9 243.6L1136.6 248.0L1117.2 252.5L1097.4 257.0L1077.5 261.6M1135.5 137.2L1149.4 145.8L1163.5 154.5L1177.7 163.3L1192.1 172.2L1206.6 181.2L1221.4 190.3L1236.3 199.5L1251.3 208.9L1266.6 218.3L1282.0 227.8L1297.6 237.5L1313.4 247.3L1329.4 257.2L1345.6 267.2L1362.0 277.3L1378.6 287.6L1395.3 297.9L1412.3 308.4L1429.5 319.1L1447.0 329.9M1450.5 189.7L1434.5 193.3L1418.3 197.0L1401.9 200.7L1385.4 204.4L1368.6 208.2L1351.7 212.0L1334.6 215.9L1317.3 219.9L1299.8 223.8L1282.0 227.8L1264.1 231.9L1245.9 236.0L1227.6 240.2L1209.0 244.4L1190.2 248.7L1171.2 253.0L1151.9 257.3L1132.4 261.8L1112.7 266.2L1092.7 270.8M1117.7 141.6L1131.6 150.2L1145.7 158.9L1159.9 167.6L1174.3 176.5L1188.8 185.5L1203.5 194.5L1218.4 203.7L1233.4 213.0L1248.7 222.4L1264.1 231.9L1279.7 241.5L1295.5 251.3L1311.4 261.1L1327.6 271.1L1344.0 281.2L1360.6 291.4L1377.3 301.8L1394.3 312.3L1411.5 322.9L1428.9 333.6M1466.1 199.7L1450.1 203.3L1434.0 206.9L1417.6 210.6L1401.0 214.3L1384.3 218.0L1367.4 221.8L1350.2 225.7L1332.9 229.6L1315.4 233.5L1297.6 237.5L1279.7 241.5L1261.5 245.6L1243.1 249.7L1224.5 253.9L1205.7 258.1L1186.6 262.4L1167.4 266.8L1147.8 271.1L1128.0 275.6L1108.0 280.1M1099.8 146.1L1113.7 154.6L1127.7 163.3L1141.9 172.0L1156.2 180.8L1170.8 189.8L1185.4 198.8L1200.3 207.9L1215.3 217.2L1230.5 226.5L1245.9 236.0L1261.5 245.6L1277.3 255.3L1293.3 265.1L1309.4 275.1L1325.8 285.1L1342.3 295.3L1359.1 305.7L1376.1 316.1L1393.3 326.7L1410.7 337.4M1482.0 209.8L1466.0 213.3L1449.8 216.9L1433.4 220.6L1416.9 224.3L1400.1 228.0L1383.2 231.7L1366.1 235.6L1348.7 239.4L1331.2 243.3L1313.4 247.3L1295.5 251.3L1277.3 255.3L1258.9 259.4L1240.3 263.5L1221.4 267.7L1202.3 272.0L1183.0 276.3L1163.5 280.6L1143.6 285.0L1123.6 289.5M1081.7 150.6L1095.6 159.1L1109.6 167.7L1123.7 176.4L1138.0 185.2L1152.5 194.1L1167.2 203.1L1182.0 212.2L1197.0 221.4L1212.2 230.7L1227.6 240.2L1243.1 249.7L1258.9 259.4L1274.8 269.2L1291.0 279.1L1307.3 289.1L1323.9 299.3L1340.6 309.6L1357.6 320.0L1374.8 330.6L1392.2 341.3M1498.0 220.0L1482.0 223.5L1465.8 227.1L1449.5 230.7L1432.9 234.3L1416.2 238.0L1399.2 241.8L1382.1 245.5L1364.7 249.4L1347.2 253.2L1329.4 257.2L1311.4 261.1L1293.3 265.1L1274.8 269.2L1256.2 273.3L1237.3 277.5L1218.2 281.7L1198.9 285.9L1179.3 290.3L1159.4 294.6L1139.4 299.1M1063.4 155.2L1077.2 163.7L1091.2 172.2L1105.3 180.9L1119.6 189.6L1134.1 198.5L1148.7 207.4L1163.5 216.5L1178.5 225.7L1193.6 235.0L1209.0 244.4L1224.5 253.9L1240.3 263.5L1256.2 273.3L1272.3 283.2L1288.7 293.2L1305.2 303.3L1321.9 313.6L1338.9 324.0L1356.1 334.5L1373.5 345.2M1514.2 230.3L1498.2 233.8L1482.0 237.3L1465.7 240.9L1449.1 244.5L1432.4 248.2L1415.4 251.9L1398.3 255.7L1380.9 259.4L1363.4 263.3L1345.6 267.2L1327.6 271.1L1309.4 275.1L1291.0 279.1L1272.3 283.2L1253.4 287.3L1234.3 291.5L1214.9 295.7L1195.3 300.0L1175.5 304.4L1155.3 308.8M1044.9 159.9L1058.7 168.3L1072.6 176.8L1086.7 185.4L1101.0 194.1L1115.4 202.9L1130.0 211.8L1144.8 220.9L1159.7 230.0L1174.9 239.3L1190.2 248.7L1205.7 258.1L1221.4 267.7L1237.3 277.5L1253.4 287.3L1269.8 297.3L1286.3 307.4L1303.0 317.6L1320.0 328.0L1337.1 338.5L1354.5 349.1M1530.5 240.8L1514.5 244.2L1498.4 247.7L1482.0 251.3L1465.5 254.9L1448.7 258.5L1431.8 262.2L1414.7 265.9L1397.3 269.6L1379.8 273.4L1362.0 277.3L1344.0 281.2L1325.8 285.1L1307.3 289.1L1288.7 293.2L1269.8 297.3L1250.6 301.4L1231.2 305.6L1211.6 309.9L1191.7 314.2L1171.5 318.6M1026.2 164.5L1039.9 172.9L1053.8 181.4L1067.9 190.0L1082.1 198.6L1096.5 207.4L1111.1 216.3L1125.8 225.3L1140.7 234.4L1155.9 243.6L1171.2 253.0L1186.6 262.4L1202.3 272.0L1218.2 281.7L1234.3 291.5L1250.6 301.4L1267.1 311.5L1283.8 321.7L1300.8 332.0L1317.9 342.5L1335.3 353.1M1547.1 251.3L1531.1 254.8L1514.9 258.2L1498.6 261.7L1482.1 265.3L1465.3 268.9L1448.4 272.5L1431.3 276.2L1413.9 280.0L1396.3 283.7L1378.6 287.6L1360.6 291.4L1342.3 295.3L1323.9 299.3L1305.2 303.3L1286.3 307.4L1267.1 311.5L1247.7 315.7L1228.0 319.9L1208.1 324.2L1187.9 328.5M1007.3 169.3L1021.0 177.6L1034.8 186.0L1048.9 194.6L1063.0 203.2L1077.4 212.0L1091.9 220.8L1106.6 229.8L1121.5 238.8L1136.6 248.0L1151.9 257.3L1167.4 266.8L1183.0 276.3L1198.9 285.9L1214.9 295.7L1231.2 305.6L1247.7 315.7L1264.4 325.9L1281.3 336.2L1298.5 346.6L1315.8 357.2M1563.8 262.0L1547.8 265.4L1531.7 268.9L1515.4 272.3L1498.8 275.9L1482.1 279.4L1465.2 283.0L1448.0 286.7L1430.7 290.4L1413.1 294.1L1395.3 297.9L1377.3 301.8L1359.1 305.7L1340.6 309.6L1321.9 313.6L1303.0 317.6L1283.8 321.7L1264.4 325.9L1244.7 330.1L1224.8 334.3L1204.6 338.6M988.2 174.1L1001.8 182.4L1015.6 190.8L1029.6 199.3L1043.8 207.9L1058.1 216.6L1072.6 225.4L1087.2 234.3L1102.1 243.3L1117.2 252.5L1132.4 261.8L1147.8 271.1L1163.5 280.6L1179.3 290.3L1195.3 300.0L1211.6 309.9L1228.0 319.9L1244.7 330.1L1261.6 340.3L1278.7 350.7L1296.1 361.3M1580.7 272.8L1564.8 276.2L1548.6 279.6L1532.3 283.1L1515.8 286.6L1499.1 290.1L1482.2 293.7L1465.0 297.3L1447.7 301.0L1430.1 304.7L1412.3 308.4L1394.3 312.3L1376.1 316.1L1357.6 320.0L1338.9 324.0L1320.0 328.0L1300.8 332.0L1281.3 336.2L1261.6 340.3L1241.6 344.6L1221.4 348.8M968.8 178.9L982.4 187.2L996.2 195.5L1010.1 204.0L1024.2 212.5L1038.5 221.2L1053.0 230.0L1067.6 238.9L1082.4 247.9L1097.4 257.0L1112.7 266.2L1128.0 275.6L1143.6 285.0L1159.4 294.6L1175.5 304.4L1191.7 314.2L1208.1 324.2L1224.8 334.3L1241.6 344.6L1258.8 354.9L1276.1 365.5M1597.8 283.7L1581.9 287.1L1565.8 290.5L1549.5 293.9L1533.0 297.4L1516.3 300.9L1499.3 304.4L1482.2 308.0L1464.9 311.7L1447.3 315.3L1429.5 319.1L1411.5 322.9L1393.3 326.7L1374.8 330.6L1356.1 334.5L1337.1 338.5L1317.9 342.5L1298.5 346.6L1278.7 350.7L1258.8 354.9L1238.5 359.2M949.3 183.8L962.8 192.0L976.6 200.3L990.4 208.8L1004.5 217.3L1018.7 225.9L1033.1 234.7L1047.7 243.5L1062.5 252.5L1077.5 261.6L1092.7 270.8L1108.0 280.1L1123.6 289.5L1139.4 299.1L1155.3 308.8L1171.5 318.6L1187.9 328.5L1204.6 338.6L1221.4 348.8L1238.5 359.2L1255.8 369.7M1615.1 294.8L1599.2 298.1L1583.1 301.5L1566.8 304.9L1550.3 308.3L1533.6 311.8L1516.7 315.3L1499.6 318.9L1482.3 322.5L1464.7 326.2L1447.0 329.9L1428.9 333.6L1410.7 337.4L1392.2 341.3L1373.5 345.2L1354.5 349.1L1335.3 353.1L1315.8 357.2L1296.1 361.3L1276.1 365.5L1255.8 369.7" fill="none" stroke="#000" stroke-opacity="0.8" stroke-width="1.15" stroke-linejoin="round" stroke-linecap="round"/>
<ellipse cx="948.7" cy="182.9" rx="5.7" ry="4.8" fill="#cc0a0a" stroke="#640000" stroke-width="1.3"/>
<ellipse cx="1302.4" cy="91.1" rx="5.7" ry="4.8" fill="#cc0a0a" stroke="#640000" stroke-width="1.3"/>
<ellipse cx="1615.6" cy="293.7" rx="5.7" ry="4.8" fill="#cc0a0a" stroke="#640000" stroke-width="1.3"/>
<ellipse cx="1255.9" cy="369.7" rx="5.7" ry="4.8" fill="#cc0a0a" stroke="#640000" stroke-width="1.3"/>
<text transform="translate(844.3,240.9) rotate(-90)" font-size="25.5" text-anchor="middle" fill="#2a2a2a">Size (nm)</text>
<text x="895.1" y="527.8" font-size="24.5" fill="#2a2a2a" textLength="164.0" lengthAdjust="spacingAndGlyphs">B: Pluronic (%)</text>
<text x="1465.9" y="543.8" font-size="23.8" fill="#111" stroke="#111" stroke-width="0.3" textLength="94.6" lengthAdjust="spacingAndGlyphs">A: SL (%)</text></g>
<g><path d="M135.1 915.7L476.6 836.2L791.4 925.8M132.9 876.8L476.7 800.8L793.6 886.4M130.7 837.8L476.8 765.5L795.9 847.0M128.5 798.8L476.9 730.2L798.1 807.7M126.3 759.8L477.0 694.9L800.4 768.3M124.1 720.9L477.1 659.5L802.6 728.9M121.9 681.9L477.2 624.2L804.9 689.5M119.7 642.9L477.3 588.9L807.1 650.1M405.8 599.7L408.3 852.1M543.3 601.1L539.5 854.1M334.3 610.5L340.0 868.0M609.2 613.4L602.5 872.0M262.7 621.3L271.7 883.9M675.2 625.6L665.5 890.0M191.2 632.1L203.4 899.8M741.1 637.9L728.4 907.9M119.7 642.9L139.9 1001.9M477.3 588.9L476.3 914.2M807.1 650.1L786.4 1012.9" fill="none" stroke="#383838" stroke-width="1.4"/>
<polygon points="139.9,1001.9 476.3,914.2 786.4,1012.9 442.1,1126.7" fill="#ffff00" stroke="#3a3a14" stroke-width="1"/>
<path d="M402.9 1110.4L408.8 1108.2L417.7 1104.8L426.6 1101.4L435.5 1098.1L444.3 1094.9L450.1 1092.7L458.8 1089.5L467.5 1086.3L476.2 1083.1L484.8 1080.0L490.5 1077.9L499.1 1074.8L507.6 1071.8L516.1 1068.7L524.5 1065.7L532.9 1062.7L538.5 1060.7L546.8 1057.8L555.0 1054.9L563.3 1052.0L571.5 1049.1L579.6 1046.2L587.7 1043.4L593.1 1041.5L601.2 1038.7L609.2 1035.9L617.1 1033.2L625.1 1030.5L632.9 1027.7L640.8 1025.0L648.6 1022.4L653.8 1020.6L661.5 1017.9L669.2 1015.3L676.8 1012.7L684.5 1010.1L692.0 1007.5L699.6 1005.0L707.1 1002.4L714.5 999.9L722.0 997.4L729.3 994.9L729.3 994.9" fill="none" stroke="#505a32" stroke-width="1.4"/>
<path d="M310.2 1072.3L320.7 1069.8L327.6 1068.1L338.0 1065.6L348.3 1063.2L355.1 1061.5L365.2 1059.0L375.3 1056.6L385.2 1054.1L391.8 1052.5L401.7 1050.0L411.4 1047.6L421.1 1045.1L427.6 1043.5L437.1 1041.0L446.6 1038.6L456.1 1036.2L465.2 1033.8L471.6 1032.1L480.9 1029.7L490.1 1027.3L499.2 1024.9L508.2 1022.6L514.2 1021.0L523.2 1018.6L532.1 1016.2L540.9 1013.9L549.7 1011.5L558.4 1009.2L564.2 1007.7L572.8 1005.3L581.4 1003.0L589.9 1000.7L598.3 998.4L606.7 996.1L613.3 994.3L620.6 992.3L628.8 990.1L637.0 987.8L645.2 985.6L653.3 983.3L661.3 981.1L669.3 978.9L674.6 977.4L674.6 977.4" fill="none" stroke="#50d228" stroke-width="1.4"/>
<path d="M224.5 1037.0L232.4 1035.8L240.2 1034.7L249.5 1033.3L259.6 1031.8L267.2 1030.7L275.4 1029.4L286.1 1027.7L293.5 1026.5L302.6 1025.0L312.0 1023.4L319.3 1022.2L330.1 1020.3L337.3 1019.1L346.6 1017.4L355.0 1016.0L362.2 1014.7L372.5 1012.8L379.4 1011.5L389.7 1009.6L396.5 1008.3L406.7 1006.4L413.4 1005.1L423.4 1003.1L430.1 1001.8L439.9 999.9L448.1 998.3L456.2 996.6L465.9 994.7L472.3 993.4L481.8 991.4L488.1 990.1L497.5 988.1L506.8 986.2L513.0 984.8L522.2 982.9L528.4 981.6L537.4 979.6L546.5 977.6L552.5 976.3L561.4 974.4L570.2 972.4L576.1 971.1L584.9 969.1L593.6 967.2L599.3 965.9L607.9 963.9L616.4 962.0L622.1 960.7" fill="none" stroke="#50d228" stroke-width="1.4"/>
<path d="M145.1 1004.3L153.7 1003.6L162.3 1002.9L170.7 1002.2L179.2 1001.5L187.5 1000.7L195.8 1000.0L204.0 999.2L212.2 998.4L220.3 997.6L228.3 996.7L237.4 995.8L246.9 994.7L256.0 993.7L263.8 992.8L271.5 991.9L279.2 991.0L286.8 990.1L297.0 988.8L305.6 987.7L313.1 986.7L320.5 985.7L329.4 984.5L338.8 983.3L346.0 982.2L353.2 981.2L363.6 979.7L371.0 978.7L378.0 977.6L387.6 976.2L395.4 975.0L402.3 973.9L412.5 972.3L419.3 971.3L426.1 970.2L436.1 968.6L442.8 967.5L452.1 966.0L459.3 964.8L465.8 963.6L475.5 962.0L482.0 960.9L491.6 959.2L497.9 958.1L507.4 956.4L513.6 955.3L523.0 953.6L529.2 952.5L538.4 950.8L544.5 949.7L553.6 948.0L559.6 946.9L568.6 945.2L571.6 944.6" fill="none" stroke="#50d228" stroke-width="1.4"/>
<path d="M311.3 957.3L319.2 956.5L326.6 955.7L333.9 954.9L341.2 954.0L348.6 953.2L358.3 952.0L366.4 951.1L373.5 950.2L380.6 949.3L388.2 948.4L398.1 947.1L405.0 946.2L411.9 945.3L419.5 944.3L428.9 943.0L435.6 942.1L442.3 941.1L452.3 939.7L458.9 938.8L465.5 937.8L475.1 936.4L481.8 935.4L488.2 934.5L497.8 933.0L504.2 932.1L510.8 931.0L519.9 929.6L523.1 929.1" fill="none" stroke="#cdeb14" stroke-width="1.4"/>
<polygon points="139.9,1001.9 476.3,914.2 786.4,1012.9 442.1,1126.7" fill="none" stroke="#3a3a14" stroke-width="1"/>
<g fill="#000"><ellipse cx="135.1" cy="915.7" rx="2.3" ry="1.9"/><ellipse cx="132.9" cy="876.8" rx="2.3" ry="1.9"/><ellipse cx="130.7" cy="837.8" rx="2.3" ry="1.9"/><ellipse cx="128.5" cy="798.8" rx="2.3" ry="1.9"/><ellipse cx="126.3" cy="759.8" rx="2.3" ry="1.9"/><ellipse cx="124.1" cy="720.9" rx="2.3" ry="1.9"/><ellipse cx="121.9" cy="681.9" rx="2.3" ry="1.9"/><ellipse cx="119.7" cy="642.9" rx="2.3" ry="1.9"/><ellipse cx="139.9" cy="1001.9" rx="2.3" ry="1.9"/><ellipse cx="200.3" cy="1026.9" rx="2.3" ry="1.9"/><ellipse cx="260.8" cy="1051.8" rx="2.3" ry="1.9"/><ellipse cx="321.2" cy="1076.8" rx="2.3" ry="1.9"/><ellipse cx="381.7" cy="1101.7" rx="2.3" ry="1.9"/><ellipse cx="442.1" cy="1126.7" rx="2.3" ry="1.9"/><ellipse cx="786.4" cy="1012.9" rx="2.3" ry="1.9"/><ellipse cx="717.5" cy="1035.7" rx="2.3" ry="1.9"/><ellipse cx="648.7" cy="1058.4" rx="2.3" ry="1.9"/><ellipse cx="579.8" cy="1081.2" rx="2.3" ry="1.9"/><ellipse cx="511.0" cy="1103.9" rx="2.3" ry="1.9"/><ellipse cx="442.1" cy="1126.7" rx="2.3" ry="1.9"/></g>
<g font-size="17.3" fill="#3c3c3c"><text x="124.6" y="911.7" text-anchor="end">0</text><text x="122.4" y="872.8" text-anchor="end">0.1</text><text x="120.2" y="833.8" text-anchor="end">0.2</text><text x="118.0" y="794.8" text-anchor="end">0.3</text><text x="115.8" y="755.8" text-anchor="end">0.4</text><text x="113.6" y="716.9" text-anchor="end">0.5</text><text x="111.4" y="677.9" text-anchor="end">0.6</text><text x="109.2" y="638.9" text-anchor="end">0.7</text><text x="128.6" y="1017.5" text-anchor="end">1</text><text x="189.0" y="1042.5" text-anchor="end">1.2</text><text x="249.5" y="1067.4" text-anchor="end">1.4</text><text x="309.9" y="1092.4" text-anchor="end">1.6</text><text x="370.4" y="1117.3" text-anchor="end">1.8</text><text x="430.8" y="1142.3" text-anchor="end">2</text><text x="796.2" y="1028.5">70</text><text x="727.3" y="1051.3">71</text><text x="658.5" y="1074.0">72</text><text x="589.6" y="1096.8">73</text><text x="520.8" y="1119.5">74</text><text x="451.9" y="1142.3">75</text></g>
<g stroke-width="0.7" stroke-linejoin="round"><polygon points="477.1,638.9 461.2,644.7 475.7,655.0 491.6,649.2" fill="#ff7d00" stroke="#ff7d00"/><polygon points="491.6,649.2 475.7,655.0 490.2,665.3 506.1,659.7" fill="#ffad00" stroke="#ffad00"/><polygon points="461.2,644.7 445.2,650.7 459.6,660.8 475.7,655.0" fill="#ff8f00" stroke="#ff8f00"/><polygon points="506.1,659.7 490.2,665.3 505.0,675.7 520.9,670.2" fill="#ffdd00" stroke="#ffdd00"/><polygon points="475.7,655.0 459.6,660.8 474.2,671.0 490.2,665.3" fill="#ffbe00" stroke="#ffbe00"/><polygon points="445.2,650.7 428.9,656.6 443.4,666.6 459.6,660.8" fill="#ffa100" stroke="#ffa100"/><polygon points="520.9,670.2 505.0,675.7 519.9,686.2 535.8,680.8" fill="#f1ff00" stroke="#f1ff00"/><polygon points="490.2,665.3 474.2,671.0 488.9,681.3 505.0,675.7" fill="#ffec00" stroke="#ffec00"/><polygon points="459.6,660.8 443.4,666.6 458.0,676.7 474.2,671.0" fill="#ffce00" stroke="#ffce00"/><polygon points="428.9,656.6 412.6,662.6 427.0,672.5 443.4,666.6" fill="#ffb200" stroke="#ffb200"/><polygon points="535.8,680.8 519.9,686.2 534.9,696.8 550.8,691.6" fill="#c1ff00" stroke="#c1ff00"/><polygon points="505.0,675.7 488.9,681.3 503.8,691.7 519.9,686.2" fill="#e3ff00" stroke="#e3ff00"/><polygon points="474.2,671.0 458.0,676.7 472.7,686.9 488.9,681.3" fill="#fffc00" stroke="#fffc00"/><polygon points="443.4,666.6 427.0,672.5 441.6,682.5 458.0,676.7" fill="#ffdf00" stroke="#ffdf00"/><polygon points="412.6,662.6 396.1,668.7 410.5,678.5 427.0,672.5" fill="#ffc400" stroke="#ffc400"/><polygon points="550.8,691.6 534.9,696.8 550.0,707.6 565.9,702.4" fill="#91ff00" stroke="#91ff00"/><polygon points="519.9,686.2 503.8,691.7 518.8,702.2 534.9,696.8" fill="#b4ff00" stroke="#b4ff00"/><polygon points="488.9,681.3 472.7,686.9 487.6,697.1 503.8,691.7" fill="#d4ff00" stroke="#d4ff00"/><polygon points="458.0,676.7 441.6,682.5 456.3,692.5 472.7,686.9" fill="#f2ff00" stroke="#f2ff00"/><polygon points="427.0,672.5 410.5,678.5 425.0,688.3 441.6,682.5" fill="#fff000" stroke="#fff000"/><polygon points="396.1,668.7 379.4,674.9 393.8,684.5 410.5,678.5" fill="#ffd600" stroke="#ffd600"/><polygon points="565.9,702.4 550.0,707.6 565.4,718.4 581.2,713.4" fill="#62ff00" stroke="#62ff00"/><polygon points="534.9,696.8 518.8,702.2 534.0,712.8 550.0,707.6" fill="#85ff00" stroke="#85ff00"/><polygon points="503.8,691.7 487.6,697.1 502.6,707.5 518.8,702.2" fill="#a6ff00" stroke="#a6ff00"/><polygon points="472.7,686.9 456.3,692.5 471.2,702.7 487.6,697.1" fill="#c5ff00" stroke="#c5ff00"/><polygon points="441.6,682.5 425.0,688.3 439.7,698.3 456.3,692.5" fill="#e3ff00" stroke="#e3ff00"/><polygon points="410.5,678.5 393.8,684.5 408.3,694.2 425.0,688.3" fill="#fdff00" stroke="#fdff00"/><polygon points="379.4,674.9 362.5,681.1 376.9,690.6 393.8,684.5" fill="#ffe800" stroke="#ffe800"/><polygon points="581.2,713.4 565.4,718.4 580.8,729.3 596.7,724.4" fill="#32ff00" stroke="#32ff00"/><polygon points="550.0,707.6 534.0,712.8 549.3,723.5 565.4,718.4" fill="#56ff00" stroke="#56ff00"/><polygon points="518.8,702.2 502.6,707.5 517.8,718.0 534.0,712.8" fill="#79ff00" stroke="#79ff00"/><polygon points="487.6,697.1 471.2,702.7 486.2,713.0 502.6,707.5" fill="#99ff00" stroke="#99ff00"/><polygon points="456.3,692.5 439.7,698.3 454.6,708.3 471.2,702.7" fill="#b7ff00" stroke="#b7ff00"/><polygon points="425.0,688.3 408.3,694.2 423.0,704.1 439.7,698.3" fill="#d3ff00" stroke="#d3ff00"/><polygon points="393.8,684.5 376.9,690.6 391.4,700.2 408.3,694.2" fill="#edff00" stroke="#edff00"/><polygon points="362.5,681.1 345.5,687.3 359.8,696.7 376.9,690.6" fill="#fffa00" stroke="#fffa00"/><polygon points="596.7,724.4 580.8,729.3 596.5,740.4 612.3,735.6" fill="#02ff00" stroke="#02ff00"/><polygon points="565.4,718.4 549.3,723.5 564.8,734.3 580.8,729.3" fill="#27ff00" stroke="#27ff00"/><polygon points="534.0,712.8 517.8,718.0 533.1,728.6 549.3,723.5" fill="#4bff00" stroke="#4bff00"/><polygon points="502.6,707.5 486.2,713.0 501.4,723.3 517.8,718.0" fill="#6cff00" stroke="#6cff00"/><polygon points="471.2,702.7 454.6,708.3 469.6,718.5 486.2,713.0" fill="#8bff00" stroke="#8bff00"/><polygon points="439.7,698.3 423.0,704.1 437.9,714.0 454.6,708.3" fill="#a8ff00" stroke="#a8ff00"/><polygon points="408.3,694.2 391.4,700.2 406.1,709.9 423.0,704.1" fill="#c3ff00" stroke="#c3ff00"/><polygon points="376.9,690.6 359.8,696.7 374.3,706.2 391.4,700.2" fill="#dcff00" stroke="#dcff00"/><polygon points="345.5,687.3 328.2,693.7 342.6,702.9 359.8,696.7" fill="#f2ff00" stroke="#f2ff00"/><polygon points="612.3,735.6 596.5,740.4 612.2,751.5 628.1,746.8" fill="#00ff2e" stroke="#00ff2e"/><polygon points="580.8,729.3 564.8,734.3 580.4,745.2 596.5,740.4" fill="#00ff08" stroke="#00ff08"/><polygon points="549.3,723.5 533.1,728.6 548.6,739.3 564.8,734.3" fill="#1dff00" stroke="#1dff00"/><polygon points="517.8,718.0 501.4,723.3 516.7,733.8 533.1,728.6" fill="#3fff00" stroke="#3fff00"/><polygon points="486.2,713.0 469.6,718.5 484.8,728.7 501.4,723.3" fill="#60ff00" stroke="#60ff00"/><polygon points="454.6,708.3 437.9,714.0 452.9,724.0 469.6,718.5" fill="#7eff00" stroke="#7eff00"/><polygon points="423.0,704.1 406.1,709.9 420.9,719.7 437.9,714.0" fill="#9aff00" stroke="#9aff00"/><polygon points="391.4,700.2 374.3,706.2 389.0,715.8 406.1,709.9" fill="#b3ff00" stroke="#b3ff00"/><polygon points="359.8,696.7 342.6,702.9 357.1,712.3 374.3,706.2" fill="#cbff00" stroke="#cbff00"/><polygon points="328.2,693.7 310.9,700.1 325.2,709.2 342.6,702.9" fill="#e1ff00" stroke="#e1ff00"/><polygon points="628.1,746.8 612.2,751.5 628.2,762.8 644.0,758.2" fill="#00ff5e" stroke="#00ff5e"/><polygon points="596.5,740.4 580.4,745.2 596.2,756.3 612.2,751.5" fill="#00ff36" stroke="#00ff36"/><polygon points="564.8,734.3 548.6,739.3 564.2,750.1 580.4,745.2" fill="#00ff11" stroke="#00ff11"/><polygon points="533.1,728.6 516.7,733.8 532.2,744.4 548.6,739.3" fill="#13ff00" stroke="#13ff00"/><polygon points="501.4,723.3 484.8,728.7 500.1,739.1 516.7,733.8" fill="#34ff00" stroke="#34ff00"/><polygon points="469.6,718.5 452.9,724.0 468.0,734.2 484.8,728.7" fill="#53ff00" stroke="#53ff00"/><polygon points="437.9,714.0 420.9,719.7 435.9,729.6 452.9,724.0" fill="#70ff00" stroke="#70ff00"/><polygon points="406.1,709.9 389.0,715.8 403.8,725.5 420.9,719.7" fill="#8bff00" stroke="#8bff00"/><polygon points="374.3,706.2 357.1,712.3 371.7,721.8 389.0,715.8" fill="#a4ff00" stroke="#a4ff00"/><polygon points="342.6,702.9 325.2,709.2 339.7,718.5 357.1,712.3" fill="#baff00" stroke="#baff00"/><polygon points="310.9,700.1 293.3,706.5 307.6,715.6 325.2,709.2" fill="#cfff00" stroke="#cfff00"/><polygon points="644.0,758.2 628.2,762.8 644.3,774.2 660.1,769.7" fill="#00ff8e" stroke="#00ff8e"/><polygon points="612.2,751.5 596.2,756.3 612.2,767.4 628.2,762.8" fill="#00ff65" stroke="#00ff65"/><polygon points="580.4,745.2 564.2,750.1 580.0,761.1 596.2,756.3" fill="#00ff3f" stroke="#00ff3f"/><polygon points="548.6,739.3 532.2,744.4 547.8,755.1 564.2,750.1" fill="#00ff1a" stroke="#00ff1a"/><polygon points="516.7,733.8 500.1,739.1 515.6,749.6 532.2,744.4" fill="#08ff00" stroke="#08ff00"/><polygon points="484.8,728.7 468.0,734.2 483.3,744.4 500.1,739.1" fill="#29ff00" stroke="#29ff00"/><polygon points="452.9,724.0 435.9,729.6 451.1,739.6 468.0,734.2" fill="#47ff00" stroke="#47ff00"/><polygon points="420.9,719.7 403.8,725.5 418.8,735.3 435.9,729.6" fill="#63ff00" stroke="#63ff00"/><polygon points="389.0,715.8 371.7,721.8 386.6,731.4 403.8,725.5" fill="#7cff00" stroke="#7cff00"/><polygon points="357.1,712.3 339.7,718.5 354.3,727.8 371.7,721.8" fill="#94ff00" stroke="#94ff00"/><polygon points="325.2,709.2 307.6,715.6 322.1,724.7 339.7,718.5" fill="#aaff00" stroke="#aaff00"/><polygon points="293.3,706.5 275.6,713.0 289.8,722.0 307.6,715.6" fill="#bdff00" stroke="#bdff00"/><polygon points="660.1,769.7 644.3,774.2 660.5,785.7 676.3,781.3" fill="#00ffbe" stroke="#00ffbe"/><polygon points="628.2,762.8 612.2,767.4 628.3,778.7 644.3,774.2" fill="#00ff94" stroke="#00ff94"/><polygon points="596.2,756.3 580.0,761.1 596.0,772.1 612.2,767.4" fill="#00ff6c" stroke="#00ff6c"/><polygon points="564.2,750.1 547.8,755.1 563.6,765.9 580.0,761.1" fill="#00ff47" stroke="#00ff47"/><polygon points="532.2,744.4 515.6,749.6 531.2,760.1 547.8,755.1" fill="#00ff23" stroke="#00ff23"/><polygon points="500.1,739.1 483.3,744.4 498.8,754.8 515.6,749.6" fill="#00ff02" stroke="#00ff02"/><polygon points="468.0,734.2 451.1,739.6 466.4,749.8 483.3,744.4" fill="#1dff00" stroke="#1dff00"/><polygon points="435.9,729.6 418.8,735.3 434.0,745.2 451.1,739.6" fill="#3aff00" stroke="#3aff00"/><polygon points="403.8,725.5 386.6,731.4 401.5,741.0 418.8,735.3" fill="#55ff00" stroke="#55ff00"/><polygon points="371.7,721.8 354.3,727.8 369.1,737.3 386.6,731.4" fill="#6eff00" stroke="#6eff00"/><polygon points="339.7,718.5 322.1,724.7 336.7,733.9 354.3,727.8" fill="#84ff00" stroke="#84ff00"/><polygon points="307.6,715.6 289.8,722.0 304.3,731.0 322.1,724.7" fill="#99ff00" stroke="#99ff00"/><polygon points="275.6,713.0 257.6,719.6 271.9,728.4 289.8,722.0" fill="#abff00" stroke="#abff00"/><polygon points="676.3,781.3 660.5,785.7 677.0,797.3 692.8,793.1" fill="#00ffee" stroke="#00ffee"/><polygon points="644.3,774.2 628.3,778.7 644.5,790.1 660.5,785.7" fill="#00ffc3" stroke="#00ffc3"/><polygon points="612.2,767.4 596.0,772.1 612.1,783.3 628.3,778.7" fill="#00ff9a" stroke="#00ff9a"/><polygon points="580.0,761.1 563.6,765.9 579.6,776.8 596.0,772.1" fill="#00ff73" stroke="#00ff73"/><polygon points="547.8,755.1 531.2,760.1 547.0,770.8 563.6,765.9" fill="#00ff4f" stroke="#00ff4f"/><polygon points="515.6,749.6 498.8,754.8 514.5,765.2 531.2,760.1" fill="#00ff2d" stroke="#00ff2d"/><polygon points="483.3,744.4 466.4,749.8 481.9,760.0 498.8,754.8" fill="#00ff0c" stroke="#00ff0c"/><polygon points="451.1,739.6 434.0,745.2 449.3,755.2 466.4,749.8" fill="#12ff00" stroke="#12ff00"/><polygon points="418.8,735.3 401.5,741.0 416.7,750.8 434.0,745.2" fill="#2eff00" stroke="#2eff00"/><polygon points="386.6,731.4 369.1,737.3 384.0,746.8 401.5,741.0" fill="#48ff00" stroke="#48ff00"/><polygon points="354.3,727.8 336.7,733.9 351.4,743.2 369.1,737.3" fill="#5fff00" stroke="#5fff00"/><polygon points="322.1,724.7 304.3,731.0 318.8,740.1 336.7,733.9" fill="#75ff00" stroke="#75ff00"/><polygon points="289.8,722.0 271.9,728.4 286.3,737.3 304.3,731.0" fill="#88ff00" stroke="#88ff00"/><polygon points="257.6,719.6 239.5,726.3 253.7,735.0 271.9,728.4" fill="#99ff00" stroke="#99ff00"/><polygon points="692.8,793.1 677.0,797.3 693.6,809.0 709.3,804.9" fill="#00e0ff" stroke="#00e0ff"/><polygon points="660.5,785.7 644.5,790.1 661.0,801.6 677.0,797.3" fill="#00fff2" stroke="#00fff2"/><polygon points="628.3,778.7 612.1,783.3 628.4,794.5 644.5,790.1" fill="#00ffc8" stroke="#00ffc8"/><polygon points="596.0,772.1 579.6,776.8 595.7,787.9 612.1,783.3" fill="#00ffa0" stroke="#00ffa0"/><polygon points="563.6,765.9 547.0,770.8 563.0,781.6 579.6,776.8" fill="#00ff7b" stroke="#00ff7b"/><polygon points="531.2,760.1 514.5,765.2 530.3,775.8 547.0,770.8" fill="#00ff57" stroke="#00ff57"/><polygon points="498.8,754.8 481.9,760.0 497.5,770.3 514.5,765.2" fill="#00ff36" stroke="#00ff36"/><polygon points="466.4,749.8 449.3,755.2 464.7,765.3 481.9,760.0" fill="#00ff17" stroke="#00ff17"/><polygon points="434.0,745.2 416.7,750.8 432.0,760.7 449.3,755.2" fill="#06ff00" stroke="#06ff00"/><polygon points="401.5,741.0 384.0,746.8 399.2,756.5 416.7,750.8" fill="#21ff00" stroke="#21ff00"/><polygon points="369.1,737.3 351.4,743.2 366.4,752.7 384.0,746.8" fill="#3aff00" stroke="#3aff00"/><polygon points="336.7,733.9 318.8,740.1 333.6,749.3 351.4,743.2" fill="#51ff00" stroke="#51ff00"/><polygon points="304.3,731.0 286.3,737.3 300.8,746.3 318.8,740.1" fill="#65ff00" stroke="#65ff00"/><polygon points="271.9,728.4 253.7,735.0 268.1,743.7 286.3,737.3" fill="#77ff00" stroke="#77ff00"/><polygon points="239.5,726.3 221.2,733.0 235.4,741.6 253.7,735.0" fill="#88ff00" stroke="#88ff00"/><polygon points="709.3,804.9 693.6,809.0 710.3,820.9 726.1,816.9" fill="#00b0ff" stroke="#00b0ff"/><polygon points="677.0,797.3 661.0,801.6 677.6,813.2 693.6,809.0" fill="#00ddff" stroke="#00ddff"/><polygon points="644.5,790.1 628.4,794.5 644.8,805.9 661.0,801.6" fill="#00fff6" stroke="#00fff6"/><polygon points="612.1,783.3 595.7,787.9 612.0,799.0 628.4,794.5" fill="#00ffcd" stroke="#00ffcd"/><polygon points="579.6,776.8 563.0,781.6 579.2,792.5 595.7,787.9" fill="#00ffa6" stroke="#00ffa6"/><polygon points="547.0,770.8 530.3,775.8 546.3,786.5 563.0,781.6" fill="#00ff82" stroke="#00ff82"/><polygon points="514.5,765.2 497.5,770.3 513.3,780.8 530.3,775.8" fill="#00ff5f" stroke="#00ff5f"/><polygon points="481.9,760.0 464.7,765.3 480.4,775.5 497.5,770.3" fill="#00ff3f" stroke="#00ff3f"/><polygon points="449.3,755.2 432.0,760.7 447.4,770.7 464.7,765.3" fill="#00ff21" stroke="#00ff21"/><polygon points="416.7,750.8 399.2,756.5 414.4,766.2 432.0,760.7" fill="#00ff05" stroke="#00ff05"/><polygon points="384.0,746.8 366.4,752.7 381.5,762.2 399.2,756.5" fill="#15ff00" stroke="#15ff00"/><polygon points="351.4,743.2 333.6,749.3 348.5,758.6 366.4,752.7" fill="#2cff00" stroke="#2cff00"/><polygon points="318.8,740.1 300.8,746.3 315.6,755.4 333.6,749.3" fill="#42ff00" stroke="#42ff00"/><polygon points="286.3,737.3 268.1,743.7 282.6,752.6 300.8,746.3" fill="#55ff00" stroke="#55ff00"/><polygon points="253.7,735.0 235.4,741.6 249.7,750.2 268.1,743.7" fill="#67ff00" stroke="#67ff00"/><polygon points="221.2,733.0 202.7,739.8 216.9,748.3 235.4,741.6" fill="#76ff00" stroke="#76ff00"/><polygon points="726.1,816.9 710.3,820.9 727.3,832.9 743.0,829.0" fill="#0080ff" stroke="#0080ff"/><polygon points="693.6,809.0 677.6,813.2 694.4,824.9 710.3,820.9" fill="#00afff" stroke="#00afff"/><polygon points="661.0,801.6 644.8,805.9 661.5,817.4 677.6,813.2" fill="#00dbff" stroke="#00dbff"/><polygon points="628.4,794.5 612.0,799.0 628.5,810.3 644.8,805.9" fill="#00fffa" stroke="#00fffa"/><polygon points="595.7,787.9 579.2,792.5 595.5,803.6 612.0,799.0" fill="#00ffd2" stroke="#00ffd2"/><polygon points="563.0,781.6 546.3,786.5 562.4,797.3 579.2,792.5" fill="#00ffac" stroke="#00ffac"/><polygon points="530.3,775.8 513.3,780.8 529.3,791.4 546.3,786.5" fill="#00ff89" stroke="#00ff89"/><polygon points="497.5,770.3 480.4,775.5 496.2,785.9 513.3,780.8" fill="#00ff67" stroke="#00ff67"/><polygon points="464.7,765.3 447.4,770.7 463.0,780.8 480.4,775.5" fill="#00ff48" stroke="#00ff48"/><polygon points="432.0,760.7 414.4,766.2 429.9,776.1 447.4,770.7" fill="#00ff2b" stroke="#00ff2b"/><polygon points="399.2,756.5 381.5,762.2 396.7,771.9 414.4,766.2" fill="#00ff10" stroke="#00ff10"/><polygon points="366.4,752.7 348.5,758.6 363.6,768.0 381.5,762.2" fill="#08ff00" stroke="#08ff00"/><polygon points="333.6,749.3 315.6,755.4 330.4,764.6 348.5,758.6" fill="#1fff00" stroke="#1fff00"/><polygon points="300.8,746.3 282.6,752.6 297.3,761.6 315.6,755.4" fill="#33ff00" stroke="#33ff00"/><polygon points="268.1,743.7 249.7,750.2 264.2,759.0 282.6,752.6" fill="#46ff00" stroke="#46ff00"/><polygon points="235.4,741.6 216.9,748.3 231.2,756.8 249.7,750.2" fill="#56ff00" stroke="#56ff00"/><polygon points="202.7,739.8 184.0,746.7 198.1,755.0 216.9,748.3" fill="#64ff00" stroke="#64ff00"/><polygon points="743.0,829.0 727.3,832.9 744.4,845.0 760.1,841.2" fill="#0051ff" stroke="#0051ff"/><polygon points="710.3,820.9 694.4,824.9 711.4,836.8 727.3,832.9" fill="#0080ff" stroke="#0080ff"/><polygon points="677.6,813.2 661.5,817.4 678.3,829.1 694.4,824.9" fill="#00adff" stroke="#00adff"/><polygon points="644.8,805.9 628.5,810.3 645.1,821.7 661.5,817.4" fill="#00d8ff" stroke="#00d8ff"/><polygon points="612.0,799.0 595.5,803.6 612.0,814.7 628.5,810.3" fill="#00fffd" stroke="#00fffd"/><polygon points="579.2,792.5 562.4,797.3 578.7,808.2 595.5,803.6" fill="#00ffd7" stroke="#00ffd7"/><polygon points="546.3,786.5 529.3,791.4 545.5,802.1 562.4,797.3" fill="#00ffb2" stroke="#00ffb2"/><polygon points="513.3,780.8 496.2,785.9 512.2,796.3 529.3,791.4" fill="#00ff90" stroke="#00ff90"/><polygon points="480.4,775.5 463.0,780.8 478.8,791.0 496.2,785.9" fill="#00ff70" stroke="#00ff70"/><polygon points="447.4,770.7 429.9,776.1 445.5,786.1 463.0,780.8" fill="#00ff52" stroke="#00ff52"/><polygon points="414.4,766.2 396.7,771.9 412.2,781.6 429.9,776.1" fill="#00ff36" stroke="#00ff36"/><polygon points="381.5,762.2 363.6,768.0 378.8,777.5 396.7,771.9" fill="#00ff1c" stroke="#00ff1c"/><polygon points="348.5,758.6 330.4,764.6 345.5,773.9 363.6,768.0" fill="#00ff04" stroke="#00ff04"/><polygon points="315.6,755.4 297.3,761.6 312.2,770.6 330.4,764.6" fill="#11ff00" stroke="#11ff00"/><polygon points="282.6,752.6 264.2,759.0 278.9,767.8 297.3,761.6" fill="#25ff00" stroke="#25ff00"/><polygon points="249.7,750.2 231.2,756.8 245.6,765.4 264.2,759.0" fill="#36ff00" stroke="#36ff00"/><polygon points="216.9,748.3 198.1,755.0 212.4,763.4 231.2,756.8" fill="#45ff00" stroke="#45ff00"/><polygon points="184.0,746.7 165.1,753.7 179.2,761.9 198.1,755.0" fill="#52ff00" stroke="#52ff00"/><polygon points="760.1,841.2 744.4,845.0 761.7,857.2 777.3,853.5" fill="#0021ff" stroke="#0021ff"/><polygon points="727.3,832.9 711.4,836.8 728.5,848.8 744.4,845.0" fill="#0051ff" stroke="#0051ff"/><polygon points="694.4,824.9 678.3,829.1 695.3,840.8 711.4,836.8" fill="#007fff" stroke="#007fff"/><polygon points="661.5,817.4 645.1,821.7 662.0,833.2 678.3,829.1" fill="#00abff" stroke="#00abff"/><polygon points="628.5,810.3 612.0,814.7 628.6,826.0 645.1,821.7" fill="#00d5ff" stroke="#00d5ff"/><polygon points="595.5,803.6 578.7,808.2 595.2,819.2 612.0,814.7" fill="#00fdff" stroke="#00fdff"/><polygon points="562.4,797.3 545.5,802.1 561.8,812.9 578.7,808.2" fill="#00ffdc" stroke="#00ffdc"/><polygon points="529.3,791.4 512.2,796.3 528.3,806.9 545.5,802.1" fill="#00ffb8" stroke="#00ffb8"/><polygon points="496.2,785.9 478.8,791.0 494.8,801.3 512.2,796.3" fill="#00ff97" stroke="#00ff97"/><polygon points="463.0,780.8 445.5,786.1 461.3,796.2 478.8,791.0" fill="#00ff78" stroke="#00ff78"/><polygon points="429.9,776.1 412.2,781.6 427.8,791.5 445.5,786.1" fill="#00ff5b" stroke="#00ff5b"/><polygon points="396.7,771.9 378.8,777.5 394.3,787.2 412.2,781.6" fill="#00ff40" stroke="#00ff40"/><polygon points="363.6,768.0 345.5,773.9 360.7,783.3 378.8,777.5" fill="#00ff27" stroke="#00ff27"/><polygon points="330.4,764.6 312.2,770.6 327.2,779.8 345.5,773.9" fill="#00ff11" stroke="#00ff11"/><polygon points="297.3,761.6 278.9,767.8 293.7,776.8 312.2,770.6" fill="#04ff00" stroke="#04ff00"/><polygon points="264.2,759.0 245.6,765.4 260.2,774.1 278.9,767.8" fill="#16ff00" stroke="#16ff00"/><polygon points="231.2,756.8 212.4,763.4 226.8,771.9 245.6,765.4" fill="#26ff00" stroke="#26ff00"/><polygon points="198.1,755.0 179.2,761.9 193.4,770.1 212.4,763.4" fill="#34ff00" stroke="#34ff00"/><polygon points="165.1,753.7 146.0,760.7 160.0,768.8 179.2,761.9" fill="#40ff00" stroke="#40ff00"/><polygon points="777.3,853.5 761.7,857.2 779.2,869.6 794.8,866.0" fill="#0000ff" stroke="#0000ff"/><polygon points="744.4,845.0 728.5,848.8 745.9,860.9 761.7,857.2" fill="#0022ff" stroke="#0022ff"/><polygon points="711.4,836.8 695.3,840.8 712.5,852.7 728.5,848.8" fill="#0051ff" stroke="#0051ff"/><polygon points="678.3,829.1 662.0,833.2 679.0,844.8 695.3,840.8" fill="#007eff" stroke="#007eff"/><polygon points="645.1,821.7 628.6,826.0 645.5,837.4 662.0,833.2" fill="#00a9ff" stroke="#00a9ff"/><polygon points="612.0,814.7 595.2,819.2 611.9,830.4 628.6,826.0" fill="#00d2ff" stroke="#00d2ff"/><polygon points="578.7,808.2 561.8,812.9 578.3,823.8 595.2,819.2" fill="#00f9ff" stroke="#00f9ff"/><polygon points="545.5,802.1 528.3,806.9 544.7,817.6 561.8,812.9" fill="#00ffe1" stroke="#00ffe1"/><polygon points="512.2,796.3 494.8,801.3 511.0,811.8 528.3,806.9" fill="#00ffbe" stroke="#00ffbe"/><polygon points="478.8,791.0 461.3,796.2 477.3,806.4 494.8,801.3" fill="#00ff9e" stroke="#00ff9e"/><polygon points="445.5,786.1 427.8,791.5 443.6,801.4 461.3,796.2" fill="#00ff80" stroke="#00ff80"/><polygon points="412.2,781.6 394.3,787.2 409.9,796.9 427.8,791.5" fill="#00ff64" stroke="#00ff64"/><polygon points="378.8,777.5 360.7,783.3 376.1,792.8 394.3,787.2" fill="#00ff4a" stroke="#00ff4a"/><polygon points="345.5,773.9 327.2,779.8 342.4,789.1 360.7,783.3" fill="#00ff33" stroke="#00ff33"/><polygon points="312.2,770.6 293.7,776.8 308.7,785.8 327.2,779.8" fill="#00ff1d" stroke="#00ff1d"/><polygon points="278.9,767.8 260.2,774.1 275.0,782.9 293.7,776.8" fill="#00ff0a" stroke="#00ff0a"/><polygon points="245.6,765.4 226.8,771.9 241.4,780.5 260.2,774.1" fill="#08ff00" stroke="#08ff00"/><polygon points="212.4,763.4 193.4,770.1 207.8,778.5 226.8,771.9" fill="#17ff00" stroke="#17ff00"/><polygon points="179.2,761.9 160.0,768.8 174.2,776.9 193.4,770.1" fill="#24ff00" stroke="#24ff00"/><polygon points="146.0,760.7 126.7,767.8 140.7,775.7 160.0,768.8" fill="#2eff00" stroke="#2eff00"/><polygon points="761.7,857.2 745.9,860.9 763.4,873.2 779.2,869.6" fill="#0000ff" stroke="#0000ff"/><polygon points="728.5,848.8 712.5,852.7 729.8,864.7 745.9,860.9" fill="#0024ff" stroke="#0024ff"/><polygon points="695.3,840.8 679.0,844.8 696.2,856.6 712.5,852.7" fill="#0052ff" stroke="#0052ff"/><polygon points="662.0,833.2 645.5,837.4 662.5,848.9 679.0,844.8" fill="#007eff" stroke="#007eff"/><polygon points="628.6,826.0 611.9,830.4 628.8,841.7 645.5,837.4" fill="#00a8ff" stroke="#00a8ff"/><polygon points="595.2,819.2 578.3,823.8 595.0,834.8 611.9,830.4" fill="#00cfff" stroke="#00cfff"/><polygon points="561.8,812.9 544.7,817.6 561.2,828.4 578.3,823.8" fill="#00f5ff" stroke="#00f5ff"/><polygon points="528.3,806.9 511.0,811.8 527.3,822.3 544.7,817.6" fill="#00ffe6" stroke="#00ffe6"/><polygon points="494.8,801.3 477.3,806.4 493.4,816.7 511.0,811.8" fill="#00ffc4" stroke="#00ffc4"/><polygon points="461.3,796.2 443.6,801.4 459.5,811.5 477.3,806.4" fill="#00ffa5" stroke="#00ffa5"/><polygon points="427.8,791.5 409.9,796.9 425.6,806.8 443.6,801.4" fill="#00ff88" stroke="#00ff88"/><polygon points="394.3,787.2 376.1,792.8 391.7,802.4 409.9,796.9" fill="#00ff6d" stroke="#00ff6d"/><polygon points="360.7,783.3 342.4,789.1 357.8,798.5 376.1,792.8" fill="#00ff55" stroke="#00ff55"/><polygon points="327.2,779.8 308.7,785.8 323.9,795.0 342.4,789.1" fill="#00ff3e" stroke="#00ff3e"/><polygon points="293.7,776.8 275.0,782.9 290.0,791.9 308.7,785.8" fill="#00ff2a" stroke="#00ff2a"/><polygon points="260.2,774.1 241.4,780.5 256.2,789.2 275.0,782.9" fill="#00ff17" stroke="#00ff17"/><polygon points="226.8,771.9 207.8,778.5 222.3,787.0 241.4,780.5" fill="#00ff07" stroke="#00ff07"/><polygon points="193.4,770.1 174.2,776.9 188.6,785.1 207.8,778.5" fill="#07ff00" stroke="#07ff00"/><polygon points="160.0,768.8 140.7,775.7 154.8,783.8 174.2,776.9" fill="#13ff00" stroke="#13ff00"/><polygon points="745.9,860.9 729.8,864.7 747.4,876.8 763.4,873.2" fill="#0000ff" stroke="#0000ff"/><polygon points="712.5,852.7 696.2,856.6 713.6,868.5 729.8,864.7" fill="#0025ff" stroke="#0025ff"/><polygon points="679.0,844.8 662.5,848.9 679.7,860.6 696.2,856.6" fill="#0052ff" stroke="#0052ff"/><polygon points="645.5,837.4 628.8,841.7 645.8,853.1 662.5,848.9" fill="#007dff" stroke="#007dff"/><polygon points="611.9,830.4 595.0,834.8 611.9,846.0 628.8,841.7" fill="#00a6ff" stroke="#00a6ff"/><polygon points="578.3,823.8 561.2,828.4 577.9,839.3 595.0,834.8" fill="#00ccff" stroke="#00ccff"/><polygon points="544.7,817.6 527.3,822.3 543.8,833.0 561.2,828.4" fill="#00f1ff" stroke="#00f1ff"/><polygon points="511.0,811.8 493.4,816.7 509.8,827.2 527.3,822.3" fill="#00ffeb" stroke="#00ffeb"/><polygon points="477.3,806.4 459.5,811.5 475.7,821.7 493.4,816.7" fill="#00ffca" stroke="#00ffca"/><polygon points="443.6,801.4 425.6,806.8 441.6,816.7 459.5,811.5" fill="#00ffac" stroke="#00ffac"/><polygon points="409.9,796.9 391.7,802.4 407.5,812.1 425.6,806.8" fill="#00ff90" stroke="#00ff90"/><polygon points="376.1,792.8 357.8,798.5 373.4,808.0 391.7,802.4" fill="#00ff77" stroke="#00ff77"/><polygon points="342.4,789.1 323.9,795.0 339.3,804.2 357.8,798.5" fill="#00ff5f" stroke="#00ff5f"/><polygon points="308.7,785.8 290.0,791.9 305.2,800.9 323.9,795.0" fill="#00ff49" stroke="#00ff49"/><polygon points="275.0,782.9 256.2,789.2 271.1,798.0 290.0,791.9" fill="#00ff36" stroke="#00ff36"/><polygon points="241.4,780.5 222.3,787.0 237.1,795.5 256.2,789.2" fill="#00ff25" stroke="#00ff25"/><polygon points="207.8,778.5 188.6,785.1 203.1,793.5 222.3,787.0" fill="#00ff16" stroke="#00ff16"/><polygon points="174.2,776.9 154.8,783.8 169.1,791.9 188.6,785.1" fill="#00ff09" stroke="#00ff09"/><polygon points="729.8,864.7 713.6,868.5 731.2,880.5 747.4,876.8" fill="#0000ff" stroke="#0000ff"/><polygon points="696.2,856.6 679.7,860.6 697.1,872.4 713.6,868.5" fill="#0026ff" stroke="#0026ff"/><polygon points="662.5,848.9 645.8,853.1 663.1,864.6 679.7,860.6" fill="#0052ff" stroke="#0052ff"/><polygon points="628.8,841.7 611.9,846.0 628.9,857.3 645.8,853.1" fill="#007cff" stroke="#007cff"/><polygon points="595.0,834.8 577.9,839.3 594.8,850.3 611.9,846.0" fill="#00a4ff" stroke="#00a4ff"/><polygon points="561.2,828.4 543.8,833.0 560.6,843.8 577.9,839.3" fill="#00caff" stroke="#00caff"/><polygon points="527.3,822.3 509.8,827.2 526.3,837.7 543.8,833.0" fill="#00edff" stroke="#00edff"/><polygon points="493.4,816.7 475.7,821.7 492.0,832.0 509.8,827.2" fill="#00fff0" stroke="#00fff0"/><polygon points="459.5,811.5 441.6,816.7 457.7,826.8 475.7,821.7" fill="#00ffd0" stroke="#00ffd0"/><polygon points="425.6,806.8 407.5,812.1 423.4,822.0 441.6,816.7" fill="#00ffb3" stroke="#00ffb3"/><polygon points="391.7,802.4 373.4,808.0 389.1,817.6 407.5,812.1" fill="#00ff99" stroke="#00ff99"/><polygon points="357.8,798.5 339.3,804.2 354.8,813.6 373.4,808.0" fill="#00ff80" stroke="#00ff80"/><polygon points="323.9,795.0 305.2,800.9 320.5,810.0 339.3,804.2" fill="#00ff69" stroke="#00ff69"/><polygon points="290.0,791.9 271.1,798.0 286.2,806.9 305.2,800.9" fill="#00ff55" stroke="#00ff55"/><polygon points="256.2,789.2 237.1,795.5 252.0,804.2 271.1,798.0" fill="#00ff42" stroke="#00ff42"/><polygon points="222.3,787.0 203.1,793.5 217.8,801.9 237.1,795.5" fill="#00ff32" stroke="#00ff32"/><polygon points="188.6,785.1 169.1,791.9 183.6,800.1 203.1,793.5" fill="#00ff24" stroke="#00ff24"/><polygon points="713.6,868.5 697.1,872.4 714.8,884.3 731.2,880.5" fill="#0000ff" stroke="#0000ff"/><polygon points="679.7,860.6 663.1,864.6 680.5,876.3 697.1,872.4" fill="#0028ff" stroke="#0028ff"/><polygon points="645.8,853.1 628.9,857.3 646.2,868.7 663.1,864.6" fill="#0053ff" stroke="#0053ff"/><polygon points="611.9,846.0 594.8,850.3 611.9,861.5 628.9,857.3" fill="#007cff" stroke="#007cff"/><polygon points="577.9,839.3 560.6,843.8 577.5,854.7 594.8,850.3" fill="#00a2ff" stroke="#00a2ff"/><polygon points="543.8,833.0 526.3,837.7 543.0,848.4 560.6,843.8" fill="#00c7ff" stroke="#00c7ff"/><polygon points="509.8,827.2 492.0,832.0 508.5,842.5 526.3,837.7" fill="#00e9ff" stroke="#00e9ff"/><polygon points="475.7,821.7 457.7,826.8 474.1,837.0 492.0,832.0" fill="#00fff5" stroke="#00fff5"/><polygon points="441.6,816.7 423.4,822.0 439.6,831.9 457.7,826.8" fill="#00ffd7" stroke="#00ffd7"/><polygon points="407.5,812.1 389.1,817.6 405.0,827.3 423.4,822.0" fill="#00ffbb" stroke="#00ffbb"/><polygon points="373.4,808.0 354.8,813.6 370.5,823.1 389.1,817.6" fill="#00ffa1" stroke="#00ffa1"/><polygon points="339.3,804.2 320.5,810.0 336.0,819.3 354.8,813.6" fill="#00ff89" stroke="#00ff89"/><polygon points="305.2,800.9 286.2,806.9 301.5,815.9 320.5,810.0" fill="#00ff74" stroke="#00ff74"/><polygon points="271.1,798.0 252.0,804.2 267.1,813.0 286.2,806.9" fill="#00ff60" stroke="#00ff60"/><polygon points="237.1,795.5 217.8,801.9 232.6,810.5 252.0,804.2" fill="#00ff4f" stroke="#00ff4f"/><polygon points="203.1,793.5 183.6,800.1 198.2,808.4 217.8,801.9" fill="#00ff40" stroke="#00ff40"/><polygon points="697.1,872.4 680.5,876.3 698.1,888.0 714.8,884.3" fill="#0000ff" stroke="#0000ff"/><polygon points="663.1,864.6 646.2,868.7 663.7,880.2 680.5,876.3" fill="#0029ff" stroke="#0029ff"/><polygon points="628.9,857.3 611.9,861.5 629.1,872.8 646.2,868.7" fill="#0053ff" stroke="#0053ff"/><polygon points="594.8,850.3 577.5,854.7 594.5,865.8 611.9,861.5" fill="#007bff" stroke="#007bff"/><polygon points="560.6,843.8 543.0,848.4 559.9,859.2 577.5,854.7" fill="#00a1ff" stroke="#00a1ff"/><polygon points="526.3,837.7 508.5,842.5 525.3,853.0 543.0,848.4" fill="#00c4ff" stroke="#00c4ff"/><polygon points="492.0,832.0 474.1,837.0 490.6,847.3 508.5,842.5" fill="#00e5ff" stroke="#00e5ff"/><polygon points="457.7,826.8 439.6,831.9 455.9,842.0 474.1,837.0" fill="#00fffa" stroke="#00fffa"/><polygon points="423.4,822.0 405.0,827.3 421.2,837.1 439.6,831.9" fill="#00ffdd" stroke="#00ffdd"/><polygon points="389.1,817.6 370.5,823.1 386.4,832.7 405.0,827.3" fill="#00ffc2" stroke="#00ffc2"/><polygon points="354.8,813.6 336.0,819.3 351.7,828.6 370.5,823.1" fill="#00ffa9" stroke="#00ffa9"/><polygon points="320.5,810.0 301.5,815.9 317.0,825.0 336.0,819.3" fill="#00ff92" stroke="#00ff92"/><polygon points="286.2,806.9 267.1,813.0 282.3,821.9 301.5,815.9" fill="#00ff7e" stroke="#00ff7e"/><polygon points="252.0,804.2 232.6,810.5 247.7,819.1 267.1,813.0" fill="#00ff6c" stroke="#00ff6c"/><polygon points="217.8,801.9 198.2,808.4 213.0,816.8 232.6,810.5" fill="#00ff5b" stroke="#00ff5b"/><polygon points="680.5,876.3 663.7,880.2 681.3,891.9 698.1,888.0" fill="#0000ff" stroke="#0000ff"/><polygon points="646.2,868.7 629.1,872.8 646.6,884.2 663.7,880.2" fill="#002bff" stroke="#002bff"/><polygon points="611.9,861.5 594.5,865.8 611.8,877.0 629.1,872.8" fill="#0054ff" stroke="#0054ff"/><polygon points="577.5,854.7 559.9,859.2 577.0,870.1 594.5,865.8" fill="#007aff" stroke="#007aff"/><polygon points="543.0,848.4 525.3,853.0 542.2,863.7 559.9,859.2" fill="#009fff" stroke="#009fff"/><polygon points="508.5,842.5 490.6,847.3 507.3,857.7 525.3,853.0" fill="#00c1ff" stroke="#00c1ff"/><polygon points="474.1,837.0 455.9,842.0 472.4,852.2 490.6,847.3" fill="#00e1ff" stroke="#00e1ff"/><polygon points="439.6,831.9 421.2,837.1 437.5,847.1 455.9,842.0" fill="#00ffff" stroke="#00ffff"/><polygon points="405.0,827.3 386.4,832.7 402.5,842.4 421.2,837.1" fill="#00ffe3" stroke="#00ffe3"/><polygon points="370.5,823.1 351.7,828.6 367.6,838.1 386.4,832.7" fill="#00ffc9" stroke="#00ffc9"/><polygon points="336.0,819.3 317.0,825.0 332.7,834.3 351.7,828.6" fill="#00ffb1" stroke="#00ffb1"/><polygon points="301.5,815.9 282.3,821.9 297.8,830.9 317.0,825.0" fill="#00ff9c" stroke="#00ff9c"/><polygon points="267.1,813.0 247.7,819.1 262.9,827.9 282.3,821.9" fill="#00ff88" stroke="#00ff88"/><polygon points="232.6,810.5 213.0,816.8 228.1,825.4 247.7,819.1" fill="#00ff77" stroke="#00ff77"/><polygon points="663.7,880.2 646.6,884.2 664.3,895.8 681.3,891.9" fill="#0002ff" stroke="#0002ff"/><polygon points="629.1,872.8 611.8,877.0 629.3,888.3 646.6,884.2" fill="#002cff" stroke="#002cff"/><polygon points="594.5,865.8 577.0,870.1 594.3,881.2 611.8,877.0" fill="#0054ff" stroke="#0054ff"/><polygon points="559.9,859.2 542.2,863.7 559.3,874.5 577.0,870.1" fill="#007aff" stroke="#007aff"/><polygon points="525.3,853.0 507.3,857.7 524.2,868.3 542.2,863.7" fill="#009dff" stroke="#009dff"/><polygon points="490.6,847.3 472.4,852.2 489.1,862.5 507.3,857.7" fill="#00beff" stroke="#00beff"/><polygon points="455.9,842.0 437.5,847.1 454.0,857.1 472.4,852.2" fill="#00ddff" stroke="#00ddff"/><polygon points="421.2,837.1 402.5,842.4 418.8,852.2 437.5,847.1" fill="#00faff" stroke="#00faff"/><polygon points="386.4,832.7 367.6,838.1 383.7,847.7 402.5,842.4" fill="#00ffe9" stroke="#00ffe9"/><polygon points="351.7,828.6 332.7,834.3 348.6,843.6 367.6,838.1" fill="#00ffd0" stroke="#00ffd0"/><polygon points="317.0,825.0 297.8,830.9 313.4,840.0 332.7,834.3" fill="#00ffb9" stroke="#00ffb9"/><polygon points="282.3,821.9 262.9,827.9 278.3,836.8 297.8,830.9" fill="#00ffa5" stroke="#00ffa5"/><polygon points="247.7,819.1 228.1,825.4 243.2,834.0 262.9,827.9" fill="#00ff93" stroke="#00ff93"/><polygon points="646.6,884.2 629.3,888.3 647.0,899.7 664.3,895.8" fill="#0005ff" stroke="#0005ff"/><polygon points="611.8,877.0 594.3,881.2 611.8,892.4 629.3,888.3" fill="#002eff" stroke="#002eff"/><polygon points="577.0,870.1 559.3,874.5 576.6,885.5 594.3,881.2" fill="#0054ff" stroke="#0054ff"/><polygon points="542.2,863.7 524.2,868.3 541.3,879.0 559.3,874.5" fill="#0079ff" stroke="#0079ff"/><polygon points="507.3,857.7 489.1,862.5 506.0,872.9 524.2,868.3" fill="#009bff" stroke="#009bff"/><polygon points="472.4,852.2 454.0,857.1 470.7,867.3 489.1,862.5" fill="#00bbff" stroke="#00bbff"/><polygon points="437.5,847.1 418.8,852.2 435.3,862.1 454.0,857.1" fill="#00daff" stroke="#00daff"/><polygon points="402.5,842.4 383.7,847.7 400.0,857.4 418.8,852.2" fill="#00f6ff" stroke="#00f6ff"/><polygon points="367.6,838.1 348.6,843.6 364.6,853.1 383.7,847.7" fill="#00ffef" stroke="#00ffef"/><polygon points="332.7,834.3 313.4,840.0 329.3,849.2 348.6,843.6" fill="#00ffd7" stroke="#00ffd7"/><polygon points="297.8,830.9 278.3,836.8 293.9,845.7 313.4,840.0" fill="#00ffc2" stroke="#00ffc2"/><polygon points="262.9,827.9 243.2,834.0 258.6,842.7 278.3,836.8" fill="#00ffae" stroke="#00ffae"/><polygon points="629.3,888.3 611.8,892.4 629.5,903.7 647.0,899.7" fill="#0007ff" stroke="#0007ff"/><polygon points="594.3,881.2 576.6,885.5 594.1,896.5 611.8,892.4" fill="#002fff" stroke="#002fff"/><polygon points="559.3,874.5 541.3,879.0 558.6,889.8 576.6,885.5" fill="#0055ff" stroke="#0055ff"/><polygon points="524.2,868.3 506.0,872.9 523.1,883.5 541.3,879.0" fill="#0078ff" stroke="#0078ff"/><polygon points="489.1,862.5 470.7,867.3 487.6,877.6 506.0,872.9" fill="#0099ff" stroke="#0099ff"/><polygon points="454.0,857.1 435.3,862.1 452.0,872.2 470.7,867.3" fill="#00b9ff" stroke="#00b9ff"/><polygon points="418.8,852.2 400.0,857.4 416.5,867.2 435.3,862.1" fill="#00d6ff" stroke="#00d6ff"/><polygon points="383.7,847.7 364.6,853.1 380.9,862.6 400.0,857.4" fill="#00f1ff" stroke="#00f1ff"/><polygon points="348.6,843.6 329.3,849.2 345.3,858.5 364.6,853.1" fill="#00fff5" stroke="#00fff5"/><polygon points="313.4,840.0 293.9,845.7 309.7,854.8 329.3,849.2" fill="#00ffde" stroke="#00ffde"/><polygon points="278.3,836.8 258.6,842.7 274.2,851.6 293.9,845.7" fill="#00ffca" stroke="#00ffca"/><polygon points="611.8,892.4 594.1,896.5 611.8,907.7 629.5,903.7" fill="#000aff" stroke="#000aff"/><polygon points="576.6,885.5 558.6,889.8 576.2,900.8 594.1,896.5" fill="#0031ff" stroke="#0031ff"/><polygon points="541.3,879.0 523.1,883.5 540.4,894.2 558.6,889.8" fill="#0055ff" stroke="#0055ff"/><polygon points="506.0,872.9 487.6,877.6 504.7,888.1 523.1,883.5" fill="#0077ff" stroke="#0077ff"/><polygon points="470.7,867.3 452.0,872.2 468.9,882.4 487.6,877.6" fill="#0098ff" stroke="#0098ff"/><polygon points="435.3,862.1 416.5,867.2 433.1,877.1 452.0,872.2" fill="#00b6ff" stroke="#00b6ff"/><polygon points="400.0,857.4 380.9,862.6 397.3,872.3 416.5,867.2" fill="#00d2ff" stroke="#00d2ff"/><polygon points="364.6,853.1 345.3,858.5 361.5,868.0 380.9,862.6" fill="#00ecff" stroke="#00ecff"/><polygon points="329.3,849.2 309.7,854.8 325.8,864.0 345.3,858.5" fill="#00fffb" stroke="#00fffb"/><polygon points="293.9,845.7 274.2,851.6 290.0,860.5 309.7,854.8" fill="#00ffe5" stroke="#00ffe5"/><polygon points="594.1,896.5 576.2,900.8 593.9,911.8 611.8,907.7" fill="#000cff" stroke="#000cff"/><polygon points="558.6,889.8 540.4,894.2 558.0,905.0 576.2,900.8" fill="#0032ff" stroke="#0032ff"/><polygon points="523.1,883.5 504.7,888.1 522.0,898.6 540.4,894.2" fill="#0055ff" stroke="#0055ff"/><polygon points="487.6,877.6 468.9,882.4 486.0,892.7 504.7,888.1" fill="#0077ff" stroke="#0077ff"/><polygon points="452.0,872.2 433.1,877.1 450.0,887.2 468.9,882.4" fill="#0096ff" stroke="#0096ff"/><polygon points="416.5,867.2 397.3,872.3 414.0,882.1 433.1,877.1" fill="#00b3ff" stroke="#00b3ff"/><polygon points="380.9,862.6 361.5,868.0 378.0,877.5 397.3,872.3" fill="#00ceff" stroke="#00ceff"/><polygon points="345.3,858.5 325.8,864.0 342.0,873.3 361.5,868.0" fill="#00e7ff" stroke="#00e7ff"/><polygon points="309.7,854.8 290.0,860.5 306.0,869.6 325.8,864.0" fill="#00fdff" stroke="#00fdff"/><polygon points="576.2,900.8 558.0,905.0 575.7,916.0 593.9,911.8" fill="#000fff" stroke="#000fff"/><polygon points="540.4,894.2 522.0,898.6 539.6,909.3 558.0,905.0" fill="#0033ff" stroke="#0033ff"/><polygon points="504.7,888.1 486.0,892.7 503.4,903.2 522.0,898.6" fill="#0056ff" stroke="#0056ff"/><polygon points="468.9,882.4 450.0,887.2 467.1,897.4 486.0,892.7" fill="#0076ff" stroke="#0076ff"/><polygon points="433.1,877.1 414.0,882.1 430.9,892.1 450.0,887.2" fill="#0094ff" stroke="#0094ff"/><polygon points="397.3,872.3 378.0,877.5 394.6,887.2 414.0,882.1" fill="#00b0ff" stroke="#00b0ff"/><polygon points="361.5,868.0 342.0,873.3 358.4,882.8 378.0,877.5" fill="#00caff" stroke="#00caff"/><polygon points="325.8,864.0 306.0,869.6 322.1,878.8 342.0,873.3" fill="#00e2ff" stroke="#00e2ff"/><polygon points="558.0,905.0 539.6,909.3 557.3,920.2 575.7,916.0" fill="#0012ff" stroke="#0012ff"/><polygon points="522.0,898.6 503.4,903.2 520.9,913.7 539.6,909.3" fill="#0035ff" stroke="#0035ff"/><polygon points="486.0,892.7 467.1,897.4 484.4,907.7 503.4,903.2" fill="#0056ff" stroke="#0056ff"/><polygon points="450.0,887.2 430.9,892.1 448.0,902.1 467.1,897.4" fill="#0075ff" stroke="#0075ff"/><polygon points="414.0,882.1 394.6,887.2 411.5,897.0 430.9,892.1" fill="#0092ff" stroke="#0092ff"/><polygon points="378.0,877.5 358.4,882.8 375.0,892.3 394.6,887.2" fill="#00adff" stroke="#00adff"/><polygon points="342.0,873.3 322.1,878.8 338.5,888.1 358.4,882.8" fill="#00c6ff" stroke="#00c6ff"/><polygon points="539.6,909.3 520.9,913.7 538.7,924.4 557.3,920.2" fill="#0014ff" stroke="#0014ff"/><polygon points="503.4,903.2 484.4,907.7 502.0,918.2 520.9,913.7" fill="#0036ff" stroke="#0036ff"/><polygon points="467.1,897.4 448.0,902.1 465.3,912.3 484.4,907.7" fill="#0057ff" stroke="#0057ff"/><polygon points="430.9,892.1 411.5,897.0 428.6,907.0 448.0,902.1" fill="#0075ff" stroke="#0075ff"/><polygon points="394.6,887.2 375.0,892.3 391.8,902.0 411.5,897.0" fill="#0091ff" stroke="#0091ff"/><polygon points="358.4,882.8 338.5,888.1 355.1,897.5 375.0,892.3" fill="#00aaff" stroke="#00aaff"/><polygon points="520.9,913.7 502.0,918.2 519.7,928.7 538.7,924.4" fill="#0017ff" stroke="#0017ff"/><polygon points="484.4,907.7 465.3,912.3 482.8,922.7 502.0,918.2" fill="#0038ff" stroke="#0038ff"/><polygon points="448.0,902.1 428.6,907.0 445.9,917.0 465.3,912.3" fill="#0057ff" stroke="#0057ff"/><polygon points="411.5,897.0 391.8,902.0 408.9,911.8 428.6,907.0" fill="#0074ff" stroke="#0074ff"/><polygon points="375.0,892.3 355.1,897.5 371.9,907.1 391.8,902.0" fill="#008fff" stroke="#008fff"/><polygon points="502.0,918.2 482.8,922.7 500.6,933.1 519.7,928.7" fill="#0019ff" stroke="#0019ff"/><polygon points="465.3,912.3 445.9,917.0 463.4,927.2 482.8,922.7" fill="#0039ff" stroke="#0039ff"/><polygon points="428.6,907.0 408.9,911.8 426.2,921.8 445.9,917.0" fill="#0057ff" stroke="#0057ff"/><polygon points="391.8,902.0 371.9,907.1 389.0,916.8 408.9,911.8" fill="#0073ff" stroke="#0073ff"/><polygon points="482.8,922.7 463.4,927.2 481.1,937.6 500.6,933.1" fill="#001cff" stroke="#001cff"/><polygon points="445.9,917.0 426.2,921.8 443.7,931.8 463.4,927.2" fill="#003bff" stroke="#003bff"/><polygon points="408.9,911.8 389.0,916.8 406.3,926.6 426.2,921.8" fill="#0058ff" stroke="#0058ff"/><polygon points="463.4,927.2 443.7,931.8 461.5,942.0 481.1,937.6" fill="#001eff" stroke="#001eff"/><polygon points="426.2,921.8 406.3,926.6 423.8,936.5 443.7,931.8" fill="#003cff" stroke="#003cff"/><polygon points="443.7,931.8 423.8,936.5 441.5,946.6 461.5,942.0" fill="#0021ff" stroke="#0021ff"/></g>
<path d="M477.1 638.9L491.6 649.2L506.1 659.7L520.9 670.2L535.8 680.8L550.8 691.6L565.9 702.4L581.2 713.4L596.7 724.4L612.3 735.6L628.1 746.8L644.0 758.2L660.1 769.7L676.3 781.3L692.8 793.1L709.3 804.9L726.1 816.9L743.0 829.0L760.1 841.2L777.3 853.5L794.8 866.0M477.1 638.9L461.2 644.7L445.2 650.7L428.9 656.6L412.6 662.6L396.1 668.7L379.4 674.9L362.5 681.1L345.5 687.3L328.2 693.7L310.9 700.1L293.3 706.5L275.6 713.0L257.6 719.6L239.5 726.3L221.2 733.0L202.7 739.8L184.0 746.7L165.1 753.7L146.0 760.7L126.7 767.8M461.2 644.7L475.7 655.0L490.2 665.3L505.0 675.7L519.9 686.2L534.9 696.8L550.0 707.6L565.4 718.4L580.8 729.3L596.5 740.4L612.2 751.5L628.2 762.8L644.3 774.2L660.5 785.7L677.0 797.3L693.6 809.0L710.3 820.9L727.3 832.9L744.4 845.0L761.7 857.2L779.2 869.6M491.6 649.2L475.7 655.0L459.6 660.8L443.4 666.6L427.0 672.5L410.5 678.5L393.8 684.5L376.9 690.6L359.8 696.7L342.6 702.9L325.2 709.2L307.6 715.6L289.8 722.0L271.9 728.4L253.7 735.0L235.4 741.6L216.9 748.3L198.1 755.0L179.2 761.9L160.0 768.8L140.7 775.7M445.2 650.7L459.6 660.8L474.2 671.0L488.9 681.3L503.8 691.7L518.8 702.2L534.0 712.8L549.3 723.5L564.8 734.3L580.4 745.2L596.2 756.3L612.2 767.4L628.3 778.7L644.5 790.1L661.0 801.6L677.6 813.2L694.4 824.9L711.4 836.8L728.5 848.8L745.9 860.9L763.4 873.2M506.1 659.7L490.2 665.3L474.2 671.0L458.0 676.7L441.6 682.5L425.0 688.3L408.3 694.2L391.4 700.2L374.3 706.2L357.1 712.3L339.7 718.5L322.1 724.7L304.3 731.0L286.3 737.3L268.1 743.7L249.7 750.2L231.2 756.8L212.4 763.4L193.4 770.1L174.2 776.9L154.8 783.8M428.9 656.6L443.4 666.6L458.0 676.7L472.7 686.9L487.6 697.1L502.6 707.5L517.8 718.0L533.1 728.6L548.6 739.3L564.2 750.1L580.0 761.1L596.0 772.1L612.1 783.3L628.4 794.5L644.8 805.9L661.5 817.4L678.3 829.1L695.3 840.8L712.5 852.7L729.8 864.7L747.4 876.8M520.9 670.2L505.0 675.7L488.9 681.3L472.7 686.9L456.3 692.5L439.7 698.3L423.0 704.1L406.1 709.9L389.0 715.8L371.7 721.8L354.3 727.8L336.7 733.9L318.8 740.1L300.8 746.3L282.6 752.6L264.2 759.0L245.6 765.4L226.8 771.9L207.8 778.5L188.6 785.1L169.1 791.9M412.6 662.6L427.0 672.5L441.6 682.5L456.3 692.5L471.2 702.7L486.2 713.0L501.4 723.3L516.7 733.8L532.2 744.4L547.8 755.1L563.6 765.9L579.6 776.8L595.7 787.9L612.0 799.0L628.5 810.3L645.1 821.7L662.0 833.2L679.0 844.8L696.2 856.6L713.6 868.5L731.2 880.5M535.8 680.8L519.9 686.2L503.8 691.7L487.6 697.1L471.2 702.7L454.6 708.3L437.9 714.0L420.9 719.7L403.8 725.5L386.6 731.4L369.1 737.3L351.4 743.2L333.6 749.3L315.6 755.4L297.3 761.6L278.9 767.8L260.2 774.1L241.4 780.5L222.3 787.0L203.1 793.5L183.6 800.1M396.1 668.7L410.5 678.5L425.0 688.3L439.7 698.3L454.6 708.3L469.6 718.5L484.8 728.7L500.1 739.1L515.6 749.6L531.2 760.1L547.0 770.8L563.0 781.6L579.2 792.5L595.5 803.6L612.0 814.7L628.6 826.0L645.5 837.4L662.5 848.9L679.7 860.6L697.1 872.4L714.8 884.3M550.8 691.6L534.9 696.8L518.8 702.2L502.6 707.5L486.2 713.0L469.6 718.5L452.9 724.0L435.9 729.6L418.8 735.3L401.5 741.0L384.0 746.8L366.4 752.7L348.5 758.6L330.4 764.6L312.2 770.6L293.7 776.8L275.0 782.9L256.2 789.2L237.1 795.5L217.8 801.9L198.2 808.4M379.4 674.9L393.8 684.5L408.3 694.2L423.0 704.1L437.9 714.0L452.9 724.0L468.0 734.2L483.3 744.4L498.8 754.8L514.5 765.2L530.3 775.8L546.3 786.5L562.4 797.3L578.7 808.2L595.2 819.2L611.9 830.4L628.8 841.7L645.8 853.1L663.1 864.6L680.5 876.3L698.1 888.0M565.9 702.4L550.0 707.6L534.0 712.8L517.8 718.0L501.4 723.3L484.8 728.7L468.0 734.2L451.1 739.6L434.0 745.2L416.7 750.8L399.2 756.5L381.5 762.2L363.6 768.0L345.5 773.9L327.2 779.8L308.7 785.8L290.0 791.9L271.1 798.0L252.0 804.2L232.6 810.5L213.0 816.8M362.5 681.1L376.9 690.6L391.4 700.2L406.1 709.9L420.9 719.7L435.9 729.6L451.1 739.6L466.4 749.8L481.9 760.0L497.5 770.3L513.3 780.8L529.3 791.4L545.5 802.1L561.8 812.9L578.3 823.8L595.0 834.8L611.9 846.0L628.9 857.3L646.2 868.7L663.7 880.2L681.3 891.9M581.2 713.4L565.4 718.4L549.3 723.5L533.1 728.6L516.7 733.8L500.1 739.1L483.3 744.4L466.4 749.8L449.3 755.2L432.0 760.7L414.4 766.2L396.7 771.9L378.8 777.5L360.7 783.3L342.4 789.1L323.9 795.0L305.2 800.9L286.2 806.9L267.1 813.0L247.7 819.1L228.1 825.4M345.5 687.3L359.8 696.7L374.3 706.2L389.0 715.8L403.8 725.5L418.8 735.3L434.0 745.2L449.3 755.2L464.7 765.3L480.4 775.5L496.2 785.9L512.2 796.3L528.3 806.9L544.7 817.6L561.2 828.4L577.9 839.3L594.8 850.3L611.9 861.5L629.1 872.8L646.6 884.2L664.3 895.8M596.7 724.4L580.8 729.3L564.8 734.3L548.6 739.3L532.2 744.4L515.6 749.6L498.8 754.8L481.9 760.0L464.7 765.3L447.4 770.7L429.9 776.1L412.2 781.6L394.3 787.2L376.1 792.8L357.8 798.5L339.3 804.2L320.5 810.0L301.5 815.9L282.3 821.9L262.9 827.9L243.2 834.0M328.2 693.7L342.6 702.9L357.1 712.3L371.7 721.8L386.6 731.4L401.5 741.0L416.7 750.8L432.0 760.7L447.4 770.7L463.0 780.8L478.8 791.0L494.8 801.3L511.0 811.8L527.3 822.3L543.8 833.0L560.6 843.8L577.5 854.7L594.5 865.8L611.8 877.0L629.3 888.3L647.0 899.7M612.3 735.6L596.5 740.4L580.4 745.2L564.2 750.1L547.8 755.1L531.2 760.1L514.5 765.2L497.5 770.3L480.4 775.5L463.0 780.8L445.5 786.1L427.8 791.5L409.9 796.9L391.7 802.4L373.4 808.0L354.8 813.6L336.0 819.3L317.0 825.0L297.8 830.9L278.3 836.8L258.6 842.7M310.9 700.1L325.2 709.2L339.7 718.5L354.3 727.8L369.1 737.3L384.0 746.8L399.2 756.5L414.4 766.2L429.9 776.1L445.5 786.1L461.3 796.2L477.3 806.4L493.4 816.7L509.8 827.2L526.3 837.7L543.0 848.4L559.9 859.2L577.0 870.1L594.3 881.2L611.8 892.4L629.5 903.7M628.1 746.8L612.2 751.5L596.2 756.3L580.0 761.1L563.6 765.9L547.0 770.8L530.3 775.8L513.3 780.8L496.2 785.9L478.8 791.0L461.3 796.2L443.6 801.4L425.6 806.8L407.5 812.1L389.1 817.6L370.5 823.1L351.7 828.6L332.7 834.3L313.4 840.0L293.9 845.7L274.2 851.6M293.3 706.5L307.6 715.6L322.1 724.7L336.7 733.9L351.4 743.2L366.4 752.7L381.5 762.2L396.7 771.9L412.2 781.6L427.8 791.5L443.6 801.4L459.5 811.5L475.7 821.7L492.0 832.0L508.5 842.5L525.3 853.0L542.2 863.7L559.3 874.5L576.6 885.5L594.1 896.5L611.8 907.7M644.0 758.2L628.2 762.8L612.2 767.4L596.0 772.1L579.6 776.8L563.0 781.6L546.3 786.5L529.3 791.4L512.2 796.3L494.8 801.3L477.3 806.4L459.5 811.5L441.6 816.7L423.4 822.0L405.0 827.3L386.4 832.7L367.6 838.1L348.6 843.6L329.3 849.2L309.7 854.8L290.0 860.5M275.6 713.0L289.8 722.0L304.3 731.0L318.8 740.1L333.6 749.3L348.5 758.6L363.6 768.0L378.8 777.5L394.3 787.2L409.9 796.9L425.6 806.8L441.6 816.7L457.7 826.8L474.1 837.0L490.6 847.3L507.3 857.7L524.2 868.3L541.3 879.0L558.6 889.8L576.2 900.8L593.9 911.8M660.1 769.7L644.3 774.2L628.3 778.7L612.1 783.3L595.7 787.9L579.2 792.5L562.4 797.3L545.5 802.1L528.3 806.9L511.0 811.8L493.4 816.7L475.7 821.7L457.7 826.8L439.6 831.9L421.2 837.1L402.5 842.4L383.7 847.7L364.6 853.1L345.3 858.5L325.8 864.0L306.0 869.6M257.6 719.6L271.9 728.4L286.3 737.3L300.8 746.3L315.6 755.4L330.4 764.6L345.5 773.9L360.7 783.3L376.1 792.8L391.7 802.4L407.5 812.1L423.4 822.0L439.6 831.9L455.9 842.0L472.4 852.2L489.1 862.5L506.0 872.9L523.1 883.5L540.4 894.2L558.0 905.0L575.7 916.0M676.3 781.3L660.5 785.7L644.5 790.1L628.4 794.5L612.0 799.0L595.5 803.6L578.7 808.2L561.8 812.9L544.7 817.6L527.3 822.3L509.8 827.2L492.0 832.0L474.1 837.0L455.9 842.0L437.5 847.1L418.8 852.2L400.0 857.4L380.9 862.6L361.5 868.0L342.0 873.3L322.1 878.8M239.5 726.3L253.7 735.0L268.1 743.7L282.6 752.6L297.3 761.6L312.2 770.6L327.2 779.8L342.4 789.1L357.8 798.5L373.4 808.0L389.1 817.6L405.0 827.3L421.2 837.1L437.5 847.1L454.0 857.1L470.7 867.3L487.6 877.6L504.7 888.1L522.0 898.6L539.6 909.3L557.3 920.2M692.8 793.1L677.0 797.3L661.0 801.6L644.8 805.9L628.5 810.3L612.0 814.7L595.2 819.2L578.3 823.8L561.2 828.4L543.8 833.0L526.3 837.7L508.5 842.5L490.6 847.3L472.4 852.2L454.0 857.1L435.3 862.1L416.5 867.2L397.3 872.3L378.0 877.5L358.4 882.8L338.5 888.1M221.2 733.0L235.4 741.6L249.7 750.2L264.2 759.0L278.9 767.8L293.7 776.8L308.7 785.8L323.9 795.0L339.3 804.2L354.8 813.6L370.5 823.1L386.4 832.7L402.5 842.4L418.8 852.2L435.3 862.1L452.0 872.2L468.9 882.4L486.0 892.7L503.4 903.2L520.9 913.7L538.7 924.4M709.3 804.9L693.6 809.0L677.6 813.2L661.5 817.4L645.1 821.7L628.6 826.0L611.9 830.4L595.0 834.8L577.9 839.3L560.6 843.8L543.0 848.4L525.3 853.0L507.3 857.7L489.1 862.5L470.7 867.3L452.0 872.2L433.1 877.1L414.0 882.1L394.6 887.2L375.0 892.3L355.1 897.5M202.7 739.8L216.9 748.3L231.2 756.8L245.6 765.4L260.2 774.1L275.0 782.9L290.0 791.9L305.2 800.9L320.5 810.0L336.0 819.3L351.7 828.6L367.6 838.1L383.7 847.7L400.0 857.4L416.5 867.2L433.1 877.1L450.0 887.2L467.1 897.4L484.4 907.7L502.0 918.2L519.7 928.7M726.1 816.9L710.3 820.9L694.4 824.9L678.3 829.1L662.0 833.2L645.5 837.4L628.8 841.7L611.9 846.0L594.8 850.3L577.5 854.7L559.9 859.2L542.2 863.7L524.2 868.3L506.0 872.9L487.6 877.6L468.9 882.4L450.0 887.2L430.9 892.1L411.5 897.0L391.8 902.0L371.9 907.1M184.0 746.7L198.1 755.0L212.4 763.4L226.8 771.9L241.4 780.5L256.2 789.2L271.1 798.0L286.2 806.9L301.5 815.9L317.0 825.0L332.7 834.3L348.6 843.6L364.6 853.1L380.9 862.6L397.3 872.3L414.0 882.1L430.9 892.1L448.0 902.1L465.3 912.3L482.8 922.7L500.6 933.1M743.0 829.0L727.3 832.9L711.4 836.8L695.3 840.8L679.0 844.8L662.5 848.9L645.8 853.1L628.9 857.3L611.9 861.5L594.5 865.8L577.0 870.1L559.3 874.5L541.3 879.0L523.1 883.5L504.7 888.1L486.0 892.7L467.1 897.4L448.0 902.1L428.6 907.0L408.9 911.8L389.0 916.8M165.1 753.7L179.2 761.9L193.4 770.1L207.8 778.5L222.3 787.0L237.1 795.5L252.0 804.2L267.1 813.0L282.3 821.9L297.8 830.9L313.4 840.0L329.3 849.2L345.3 858.5L361.5 868.0L378.0 877.5L394.6 887.2L411.5 897.0L428.6 907.0L445.9 917.0L463.4 927.2L481.1 937.6M760.1 841.2L744.4 845.0L728.5 848.8L712.5 852.7L696.2 856.6L679.7 860.6L663.1 864.6L646.2 868.7L629.1 872.8L611.8 877.0L594.3 881.2L576.6 885.5L558.6 889.8L540.4 894.2L522.0 898.6L503.4 903.2L484.4 907.7L465.3 912.3L445.9 917.0L426.2 921.8L406.3 926.6M146.0 760.7L160.0 768.8L174.2 776.9L188.6 785.1L203.1 793.5L217.8 801.9L232.6 810.5L247.7 819.1L262.9 827.9L278.3 836.8L293.9 845.7L309.7 854.8L325.8 864.0L342.0 873.3L358.4 882.8L375.0 892.3L391.8 902.0L408.9 911.8L426.2 921.8L443.7 931.8L461.5 942.0M777.3 853.5L761.7 857.2L745.9 860.9L729.8 864.7L713.6 868.5L697.1 872.4L680.5 876.3L663.7 880.2L646.6 884.2L629.3 888.3L611.8 892.4L594.1 896.5L576.2 900.8L558.0 905.0L539.6 909.3L520.9 913.7L502.0 918.2L482.8 922.7L463.4 927.2L443.7 931.8L423.8 936.5M126.7 767.8L140.7 775.7L154.8 783.8L169.1 791.9L183.6 800.1L198.2 808.4L213.0 816.8L228.1 825.4L243.2 834.0L258.6 842.7L274.2 851.6L290.0 860.5L306.0 869.6L322.1 878.8L338.5 888.1L355.1 897.5L371.9 907.1L389.0 916.8L406.3 926.6L423.8 936.5L441.5 946.6M794.8 866.0L779.2 869.6L763.4 873.2L747.4 876.8L731.2 880.5L714.8 884.3L698.1 888.0L681.3 891.9L664.3 895.8L647.0 899.7L629.5 903.7L611.8 907.7L593.9 911.8L575.7 916.0L557.3 920.2L538.7 924.4L519.7 928.7L500.6 933.1L481.1 937.6L461.5 942.0L441.5 946.6" fill="none" stroke="#000" stroke-opacity="0.8" stroke-width="1.15" stroke-linejoin="round" stroke-linecap="round"/>
<line x1="441.4" y1="936.3" x2="442.9" y2="946.6" stroke="#222" stroke-width="1.1"/>
<ellipse cx="126.9" cy="763.1" rx="5.7" ry="4.8" fill="#cc0a0a" stroke="#640000" stroke-width="1.3"/>
<ellipse cx="477.0" cy="621.6" rx="5.7" ry="4.8" fill="#cc0a0a" stroke="#640000" stroke-width="1.3"/>
<ellipse cx="795.5" cy="853.2" rx="5.7" ry="4.8" fill="#cc0a0a" stroke="#640000" stroke-width="1.3"/>
<ellipse cx="441.4" cy="936.3" rx="5.7" ry="4.8" fill="#cc0a0a" stroke="#640000" stroke-width="1.3"/>
<text transform="translate(22.2,828.1) rotate(-90)" font-size="25.2" text-anchor="middle" fill="#2a2a2a">PDI</text>
<text x="80" y="1118.5" font-size="24.5" fill="#2a2a2a" textLength="163.4" lengthAdjust="spacingAndGlyphs">B: Pluronic (%)</text>
<text x="637.9" y="1134.9" font-size="23.8" fill="#111" stroke="#111" stroke-width="0.3" textLength="94.6" lengthAdjust="spacingAndGlyphs">A: SL (%)</text></g>
<g><path d="M955.8 936.2L1297.3 856.7L1612.1 946.3M953.6 897.3L1297.4 821.3L1614.3 906.9M951.4 858.3L1297.5 786.0L1616.6 867.5M949.2 819.3L1297.6 750.7L1618.8 828.2M947.0 780.3L1297.7 715.4L1621.1 788.8M944.8 741.4L1297.8 680.0L1623.3 749.4M942.6 702.4L1297.9 644.7L1625.6 710.0M940.4 663.4L1298.0 609.4L1627.8 670.6M1226.5 620.2L1229.0 872.6M1364.0 621.6L1360.2 874.6M1155.0 631.0L1160.7 888.5M1429.9 633.9L1423.2 892.5M1083.4 641.8L1092.4 904.4M1495.9 646.1L1486.2 910.5M1011.9 652.6L1024.1 920.3M1561.8 658.4L1549.1 928.4M940.4 663.4L960.6 1022.4M1298.0 609.4L1297.0 934.7M1627.8 670.6L1607.1 1033.4" fill="none" stroke="#383838" stroke-width="1.4"/>
<polygon points="960.6,1022.4 1297.0,934.7 1607.1,1033.4 1262.8,1147.2" fill="#ffff00" stroke="#3a3a14" stroke-width="1"/>
<path d="M1236.5 1136.2L1239.6 1132.8L1243.1 1129.5L1247.0 1126.4L1251.0 1123.4L1255.8 1120.3L1262.1 1116.5L1266.7 1113.8L1271.5 1111.3L1278.9 1107.5L1283.9 1105.1L1291.5 1101.5L1296.6 1099.2L1304.4 1095.8L1312.3 1092.5L1317.5 1090.3L1325.5 1087.0L1333.4 1083.9L1338.8 1081.8L1346.8 1078.7L1354.8 1075.6L1362.8 1072.6L1368.2 1070.6L1376.2 1067.7L1384.2 1064.8L1392.2 1061.9L1400.1 1059.1L1405.4 1057.2L1413.4 1054.4L1421.3 1051.6L1429.2 1048.9L1437.1 1046.1L1444.9 1043.4L1452.7 1040.8L1457.9 1039.0L1465.6 1036.3L1473.4 1033.7L1481.1 1031.1L1488.7 1028.6L1496.3 1026.0L1503.9 1023.5L1511.5 1020.9L1519.0 1018.4L1526.5 1015.9L1534.0 1013.5L1538.9 1011.8L1538.9 1011.8" fill="none" stroke="#505a32" stroke-width="1.4"/>
<path d="M972.6 1019.5L979.3 1020.7L986.1 1021.9L993.1 1023.0L1000.2 1024.2L1008.4 1025.4L1016.4 1026.6L1024.1 1027.6L1031.6 1028.6L1039.0 1029.5L1046.1 1030.3L1054.2 1031.1L1062.7 1031.9L1071.5 1032.6L1079.3 1033.2L1085.5 1033.6L1094.6 1034.1L1103.5 1034.6L1109.5 1034.8L1119.8 1035.1L1125.9 1035.2L1136.2 1035.4L1141.9 1035.4L1152.1 1035.3L1159.7 1035.2L1166.9 1035.1L1176.5 1034.8L1185.6 1034.4L1192.5 1034.1L1199.6 1033.7L1208.3 1033.1L1217.0 1032.5L1225.5 1031.8L1233.9 1031.1L1242.1 1030.4L1250.2 1029.6L1258.1 1028.7L1266.0 1027.8L1275.1 1026.7L1285.1 1025.5L1292.5 1024.5L1299.9 1023.5L1307.2 1022.5L1318.0 1020.9L1325.0 1019.8L1332.0 1018.7L1342.4 1017.0L1349.2 1015.9L1356.0 1014.7L1366.0 1012.9L1372.6 1011.8L1382.3 1010.0L1388.8 1008.7L1398.4 1006.9L1404.7 1005.7L1414.1 1003.8L1420.3 1002.6L1429.5 1000.7L1435.6 999.4L1444.6 997.5L1453.5 995.6L1459.4 994.4L1468.2 992.4L1474.0 991.2" fill="none" stroke="#55c332" stroke-width="1.4"/>
<path d="M1088.5 989.2L1096.6 989.7L1102.2 989.9L1111.5 990.3L1118.7 990.6L1126.1 990.8L1134.7 991.0L1141.2 991.1L1150.1 991.3L1156.9 991.3L1165.0 991.3L1173.4 991.3L1179.5 991.2L1188.9 991.1L1196.6 990.9L1202.8 990.8L1211.8 990.5L1220.7 990.2L1227.8 989.9L1234.4 989.5L1242.3 989.1L1250.7 988.6L1259.0 988.1L1267.2 987.6L1275.2 987.0L1283.2 986.4L1291.1 985.7L1298.8 985.0L1306.5 984.3L1314.1 983.6L1321.6 982.8L1329.0 982.1L1336.3 981.3L1343.6 980.5L1351.7 979.5L1361.1 978.4L1368.4 977.5L1375.3 976.6L1382.1 975.7L1390.9 974.5L1399.0 973.4L1405.7 972.4L1412.3 971.5" fill="none" stroke="#50d228" stroke-width="1.4"/>
<path d="M1196.3 961.0L1204.1 960.9L1213.1 960.8L1218.8 960.7L1226.4 960.5L1235.1 960.2L1242.6 959.9L1248.7 959.7L1256.3 959.4L1264.6 959.0L1272.8 958.6L1280.8 958.1L1287.6 957.7L1294.4 957.3L1301.3 956.9L1308.4 956.4L1316.1 955.8L1323.7 955.2L1331.2 954.6L1338.7 954.0L1346.0 953.3L1353.3 952.7" fill="none" stroke="#50d228" stroke-width="1.4"/>
<polygon points="960.6,1022.4 1297.0,934.7 1607.1,1033.4 1262.8,1147.2" fill="none" stroke="#3a3a14" stroke-width="1"/>
<g fill="#000"><ellipse cx="955.8" cy="936.2" rx="2.3" ry="1.9"/><ellipse cx="953.6" cy="897.3" rx="2.3" ry="1.9"/><ellipse cx="951.4" cy="858.3" rx="2.3" ry="1.9"/><ellipse cx="949.2" cy="819.3" rx="2.3" ry="1.9"/><ellipse cx="947.0" cy="780.3" rx="2.3" ry="1.9"/><ellipse cx="944.8" cy="741.4" rx="2.3" ry="1.9"/><ellipse cx="942.6" cy="702.4" rx="2.3" ry="1.9"/><ellipse cx="940.4" cy="663.4" rx="2.3" ry="1.9"/><ellipse cx="960.6" cy="1022.4" rx="2.3" ry="1.9"/><ellipse cx="1021.0" cy="1047.4" rx="2.3" ry="1.9"/><ellipse cx="1081.5" cy="1072.3" rx="2.3" ry="1.9"/><ellipse cx="1141.9" cy="1097.3" rx="2.3" ry="1.9"/><ellipse cx="1202.4" cy="1122.2" rx="2.3" ry="1.9"/><ellipse cx="1262.8" cy="1147.2" rx="2.3" ry="1.9"/><ellipse cx="1607.1" cy="1033.4" rx="2.3" ry="1.9"/><ellipse cx="1538.2" cy="1056.2" rx="2.3" ry="1.9"/><ellipse cx="1469.4" cy="1078.9" rx="2.3" ry="1.9"/><ellipse cx="1400.5" cy="1101.7" rx="2.3" ry="1.9"/><ellipse cx="1331.7" cy="1124.4" rx="2.3" ry="1.9"/><ellipse cx="1262.8" cy="1147.2" rx="2.3" ry="1.9"/></g>
<g font-size="17.3" fill="#3c3c3c"><text x="945.3" y="932.2" text-anchor="end">0</text><text x="943.1" y="893.3" text-anchor="end">0.1</text><text x="940.9" y="854.3" text-anchor="end">0.2</text><text x="938.7" y="815.3" text-anchor="end">0.3</text><text x="936.5" y="776.3" text-anchor="end">0.4</text><text x="934.3" y="737.4" text-anchor="end">0.5</text><text x="932.1" y="698.4" text-anchor="end">0.6</text><text x="929.9" y="659.4" text-anchor="end">0.7</text><text x="949.3" y="1038.0" text-anchor="end">1</text><text x="1009.7" y="1063.0" text-anchor="end">1.2</text><text x="1070.2" y="1087.9" text-anchor="end">1.4</text><text x="1130.6" y="1112.9" text-anchor="end">1.6</text><text x="1191.1" y="1137.8" text-anchor="end">1.8</text><text x="1251.5" y="1162.8" text-anchor="end">2</text><text x="1616.9" y="1049.0">70</text><text x="1548.0" y="1071.8">71</text><text x="1479.2" y="1094.5">72</text><text x="1410.3" y="1117.3">73</text><text x="1341.5" y="1140.0">74</text><text x="1272.6" y="1162.8">75</text></g>
<g stroke-width="0.7" stroke-linejoin="round"><polygon points="1297.7,701.7 1281.9,707.7 1296.3,715.7 1312.0,709.8" fill="#86ff00" stroke="#86ff00"/><polygon points="1312.0,709.8 1296.3,715.7 1310.8,723.8 1326.6,718.0" fill="#65ff00" stroke="#65ff00"/><polygon points="1281.9,707.7 1266.0,713.7 1280.3,721.6 1296.3,715.7" fill="#70ff00" stroke="#70ff00"/><polygon points="1326.6,718.0 1310.8,723.8 1325.4,731.9 1341.2,726.3" fill="#43ff00" stroke="#43ff00"/><polygon points="1296.3,715.7 1280.3,721.6 1294.8,729.5 1310.8,723.8" fill="#4fff00" stroke="#4fff00"/><polygon points="1266.0,713.7 1249.9,719.7 1264.2,727.5 1280.3,721.6" fill="#59ff00" stroke="#59ff00"/><polygon points="1341.2,726.3 1325.4,731.9 1340.2,740.2 1356.0,734.7" fill="#21ff00" stroke="#21ff00"/><polygon points="1310.8,723.8 1294.8,729.5 1309.4,737.6 1325.4,731.9" fill="#2fff00" stroke="#2fff00"/><polygon points="1280.3,721.6 1264.2,727.5 1278.7,735.3 1294.8,729.5" fill="#3aff00" stroke="#3aff00"/><polygon points="1249.9,719.7 1233.6,725.9 1247.9,733.5 1264.2,727.5" fill="#42ff00" stroke="#42ff00"/><polygon points="1356.0,734.7 1340.2,740.2 1355.2,748.5 1371.0,743.2" fill="#00ff01" stroke="#00ff01"/><polygon points="1325.4,731.9 1309.4,737.6 1324.3,745.7 1340.2,740.2" fill="#0eff00" stroke="#0eff00"/><polygon points="1294.8,729.5 1278.7,735.3 1293.3,743.3 1309.4,737.6" fill="#1bff00" stroke="#1bff00"/><polygon points="1264.2,727.5 1247.9,733.5 1262.4,741.2 1278.7,735.3" fill="#25ff00" stroke="#25ff00"/><polygon points="1233.6,725.9 1217.2,732.1 1231.5,739.6 1247.9,733.5" fill="#2cff00" stroke="#2cff00"/><polygon points="1371.0,743.2 1355.2,748.5 1370.3,757.0 1386.1,751.8" fill="#00ff23" stroke="#00ff23"/><polygon points="1340.2,740.2 1324.3,745.7 1339.2,753.9 1355.2,748.5" fill="#00ff12" stroke="#00ff12"/><polygon points="1309.4,737.6 1293.3,743.3 1308.1,751.3 1324.3,745.7" fill="#00ff04" stroke="#00ff04"/><polygon points="1278.7,735.3 1262.4,741.2 1277.0,749.0 1293.3,743.3" fill="#07ff00" stroke="#07ff00"/><polygon points="1247.9,733.5 1231.5,739.6 1246.0,747.2 1262.4,741.2" fill="#0fff00" stroke="#0fff00"/><polygon points="1217.2,732.1 1200.6,738.3 1214.9,745.7 1231.5,739.6" fill="#15ff00" stroke="#15ff00"/><polygon points="1386.1,751.8 1370.3,757.0 1385.6,765.5 1401.4,760.4" fill="#00ff45" stroke="#00ff45"/><polygon points="1355.2,748.5 1339.2,753.9 1354.3,762.2 1370.3,757.0" fill="#00ff33" stroke="#00ff33"/><polygon points="1324.3,745.7 1308.1,751.3 1323.1,759.4 1339.2,753.9" fill="#00ff23" stroke="#00ff23"/><polygon points="1293.3,743.3 1277.0,749.0 1291.8,756.9 1308.1,751.3" fill="#00ff17" stroke="#00ff17"/><polygon points="1262.4,741.2 1246.0,747.2 1260.6,754.8 1277.0,749.0" fill="#00ff0d" stroke="#00ff0d"/><polygon points="1231.5,739.6 1214.9,745.7 1229.3,753.2 1246.0,747.2" fill="#00ff06" stroke="#00ff06"/><polygon points="1200.6,738.3 1183.9,744.6 1198.1,751.9 1214.9,745.7" fill="#00ff02" stroke="#00ff02"/><polygon points="1401.4,760.4 1385.6,765.5 1401.0,774.1 1416.9,769.1" fill="#00ff67" stroke="#00ff67"/><polygon points="1370.3,757.0 1354.3,762.2 1369.6,770.6 1385.6,765.5" fill="#00ff53" stroke="#00ff53"/><polygon points="1339.2,753.9 1323.1,759.4 1338.2,767.6 1354.3,762.2" fill="#00ff43" stroke="#00ff43"/><polygon points="1308.1,751.3 1291.8,756.9 1306.7,764.9 1323.1,759.4" fill="#00ff34" stroke="#00ff34"/><polygon points="1277.0,749.0 1260.6,754.8 1275.3,762.6 1291.8,756.9" fill="#00ff29" stroke="#00ff29"/><polygon points="1246.0,747.2 1229.3,753.2 1243.9,760.7 1260.6,754.8" fill="#00ff21" stroke="#00ff21"/><polygon points="1214.9,745.7 1198.1,751.9 1212.6,759.2 1229.3,753.2" fill="#00ff1b" stroke="#00ff1b"/><polygon points="1183.9,744.6 1167.0,751.0 1181.2,758.1 1198.1,751.9" fill="#00ff19" stroke="#00ff19"/><polygon points="1416.9,769.1 1401.0,774.1 1416.7,782.8 1432.5,778.0" fill="#00ff89" stroke="#00ff89"/><polygon points="1385.6,765.5 1369.6,770.6 1385.1,779.1 1401.0,774.1" fill="#00ff74" stroke="#00ff74"/><polygon points="1354.3,762.2 1338.2,767.6 1353.5,775.8 1369.6,770.6" fill="#00ff62" stroke="#00ff62"/><polygon points="1323.1,759.4 1306.7,764.9 1321.9,772.9 1338.2,767.6" fill="#00ff52" stroke="#00ff52"/><polygon points="1291.8,756.9 1275.3,762.6 1290.3,770.5 1306.7,764.9" fill="#00ff46" stroke="#00ff46"/><polygon points="1260.6,754.8 1243.9,760.7 1258.7,768.4 1275.3,762.6" fill="#00ff3c" stroke="#00ff3c"/><polygon points="1229.3,753.2 1212.6,759.2 1227.1,766.7 1243.9,760.7" fill="#00ff35" stroke="#00ff35"/><polygon points="1198.1,751.9 1181.2,758.1 1195.6,765.4 1212.6,759.2" fill="#00ff31" stroke="#00ff31"/><polygon points="1167.0,751.0 1149.9,757.5 1164.1,764.5 1181.2,758.1" fill="#00ff2f" stroke="#00ff2f"/><polygon points="1432.5,778.0 1416.7,782.8 1432.4,791.6 1448.2,786.9" fill="#00ffab" stroke="#00ffab"/><polygon points="1401.0,774.1 1385.1,779.1 1400.7,787.7 1416.7,782.8" fill="#00ff95" stroke="#00ff95"/><polygon points="1369.6,770.6 1353.5,775.8 1368.9,784.2 1385.1,779.1" fill="#00ff81" stroke="#00ff81"/><polygon points="1338.2,767.6 1321.9,772.9 1337.1,781.1 1353.5,775.8" fill="#00ff70" stroke="#00ff70"/><polygon points="1306.7,764.9 1290.3,770.5 1305.4,778.4 1321.9,772.9" fill="#00ff62" stroke="#00ff62"/><polygon points="1275.3,762.6 1258.7,768.4 1273.6,776.1 1290.3,770.5" fill="#00ff57" stroke="#00ff57"/><polygon points="1243.9,760.7 1227.1,766.7 1241.9,774.2 1258.7,768.4" fill="#00ff4e" stroke="#00ff4e"/><polygon points="1212.6,759.2 1195.6,765.4 1210.1,772.7 1227.1,766.7" fill="#00ff49" stroke="#00ff49"/><polygon points="1181.2,758.1 1164.1,764.5 1178.5,771.6 1195.6,765.4" fill="#00ff46" stroke="#00ff46"/><polygon points="1149.9,757.5 1132.6,764.0 1146.8,770.9 1164.1,764.5" fill="#00ff46" stroke="#00ff46"/><polygon points="1448.2,786.9 1432.4,791.6 1448.4,800.5 1464.2,795.9" fill="#00ffcd" stroke="#00ffcd"/><polygon points="1416.7,782.8 1400.7,787.7 1416.5,796.4 1432.4,791.6" fill="#00ffb5" stroke="#00ffb5"/><polygon points="1385.1,779.1 1368.9,784.2 1384.5,792.7 1400.7,787.7" fill="#00ffa0" stroke="#00ffa0"/><polygon points="1353.5,775.8 1337.1,781.1 1352.6,789.3 1368.9,784.2" fill="#00ff8e" stroke="#00ff8e"/><polygon points="1321.9,772.9 1305.4,778.4 1320.6,786.4 1337.1,781.1" fill="#00ff7e" stroke="#00ff7e"/><polygon points="1290.3,770.5 1273.6,776.1 1288.7,783.9 1305.4,778.4" fill="#00ff71" stroke="#00ff71"/><polygon points="1258.7,768.4 1241.9,774.2 1256.8,781.8 1273.6,776.1" fill="#00ff68" stroke="#00ff68"/><polygon points="1227.1,766.7 1210.1,772.7 1224.9,780.0 1241.9,774.2" fill="#00ff61" stroke="#00ff61"/><polygon points="1195.6,765.4 1178.5,771.6 1193.0,778.7 1210.1,772.7" fill="#00ff5d" stroke="#00ff5d"/><polygon points="1164.1,764.5 1146.8,770.9 1161.2,777.8 1178.5,771.6" fill="#00ff5b" stroke="#00ff5b"/><polygon points="1132.6,764.0 1115.2,770.5 1129.4,777.3 1146.8,770.9" fill="#00ff5d" stroke="#00ff5d"/><polygon points="1464.2,795.9 1448.4,800.5 1464.5,809.5 1480.3,805.0" fill="#00ffef" stroke="#00ffef"/><polygon points="1432.4,791.6 1416.5,796.4 1432.4,805.2 1448.4,800.5" fill="#00ffd6" stroke="#00ffd6"/><polygon points="1400.7,787.7 1384.5,792.7 1400.3,801.2 1416.5,796.4" fill="#00ffbf" stroke="#00ffbf"/><polygon points="1368.9,784.2 1352.6,789.3 1368.2,797.7 1384.5,792.7" fill="#00ffab" stroke="#00ffab"/><polygon points="1337.1,781.1 1320.6,786.4 1336.1,794.5 1352.6,789.3" fill="#00ff9a" stroke="#00ff9a"/><polygon points="1305.4,778.4 1288.7,783.9 1303.9,791.8 1320.6,786.4" fill="#00ff8c" stroke="#00ff8c"/><polygon points="1273.6,776.1 1256.8,781.8 1271.8,789.4 1288.7,783.9" fill="#00ff81" stroke="#00ff81"/><polygon points="1241.9,774.2 1224.9,780.0 1239.7,787.5 1256.8,781.8" fill="#00ff79" stroke="#00ff79"/><polygon points="1210.1,772.7 1193.0,778.7 1207.7,786.0 1224.9,780.0" fill="#00ff73" stroke="#00ff73"/><polygon points="1178.5,771.6 1161.2,777.8 1175.7,784.9 1193.0,778.7" fill="#00ff70" stroke="#00ff70"/><polygon points="1146.8,770.9 1129.4,777.3 1143.7,784.1 1161.2,777.8" fill="#00ff71" stroke="#00ff71"/><polygon points="1115.2,770.5 1097.6,777.2 1111.7,783.8 1129.4,777.3" fill="#00ff74" stroke="#00ff74"/><polygon points="1480.3,805.0 1464.5,809.5 1480.8,818.6 1496.6,814.3" fill="#00edff" stroke="#00edff"/><polygon points="1448.4,800.5 1432.4,805.2 1448.5,814.0 1464.5,809.5" fill="#00fff6" stroke="#00fff6"/><polygon points="1416.5,796.4 1400.3,801.2 1416.3,809.9 1432.4,805.2" fill="#00ffde" stroke="#00ffde"/><polygon points="1384.5,792.7 1368.2,797.7 1384.0,806.1 1400.3,801.2" fill="#00ffc9" stroke="#00ffc9"/><polygon points="1352.6,789.3 1336.1,794.5 1351.7,802.7 1368.2,797.7" fill="#00ffb7" stroke="#00ffb7"/><polygon points="1320.6,786.4 1303.9,791.8 1319.4,799.8 1336.1,794.5" fill="#00ffa7" stroke="#00ffa7"/><polygon points="1288.7,783.9 1271.8,789.4 1287.1,797.2 1303.9,791.8" fill="#00ff9a" stroke="#00ff9a"/><polygon points="1256.8,781.8 1239.7,787.5 1254.8,795.1 1271.8,789.4" fill="#00ff91" stroke="#00ff91"/><polygon points="1224.9,780.0 1207.7,786.0 1222.5,793.3 1239.7,787.5" fill="#00ff8a" stroke="#00ff8a"/><polygon points="1193.0,778.7 1175.7,784.9 1190.3,792.0 1207.7,786.0" fill="#00ff86" stroke="#00ff86"/><polygon points="1161.2,777.8 1143.7,784.1 1158.1,791.0 1175.7,784.9" fill="#00ff84" stroke="#00ff84"/><polygon points="1129.4,777.3 1111.7,783.8 1126.0,790.5 1143.7,784.1" fill="#00ff86" stroke="#00ff86"/><polygon points="1097.6,777.2 1079.8,783.9 1093.9,790.4 1111.7,783.8" fill="#00ff8a" stroke="#00ff8a"/><polygon points="1496.6,814.3 1480.8,818.6 1497.3,827.8 1513.1,823.6" fill="#00cbff" stroke="#00cbff"/><polygon points="1464.5,809.5 1448.5,814.0 1464.9,823.0 1480.8,818.6" fill="#00e7ff" stroke="#00e7ff"/><polygon points="1432.4,805.2 1416.3,809.9 1432.4,818.6 1448.5,814.0" fill="#00fffd" stroke="#00fffd"/><polygon points="1400.3,801.2 1384.0,806.1 1399.9,814.6 1416.3,809.9" fill="#00ffe7" stroke="#00ffe7"/><polygon points="1368.2,797.7 1351.7,802.7 1367.4,811.0 1384.0,806.1" fill="#00ffd3" stroke="#00ffd3"/><polygon points="1336.1,794.5 1319.4,799.8 1335.0,807.8 1351.7,802.7" fill="#00ffc2" stroke="#00ffc2"/><polygon points="1303.9,791.8 1287.1,797.2 1302.5,805.1 1319.4,799.8" fill="#00ffb4" stroke="#00ffb4"/><polygon points="1271.8,789.4 1254.8,795.1 1270.0,802.7 1287.1,797.2" fill="#00ffa9" stroke="#00ffa9"/><polygon points="1239.7,787.5 1222.5,793.3 1237.6,800.7 1254.8,795.1" fill="#00ffa0" stroke="#00ffa0"/><polygon points="1207.7,786.0 1190.3,792.0 1205.2,799.2 1222.5,793.3" fill="#00ff9b" stroke="#00ff9b"/><polygon points="1175.7,784.9 1158.1,791.0 1172.8,798.0 1190.3,792.0" fill="#00ff98" stroke="#00ff98"/><polygon points="1143.7,784.1 1126.0,790.5 1140.4,797.3 1158.1,791.0" fill="#00ff98" stroke="#00ff98"/><polygon points="1111.7,783.8 1093.9,790.4 1108.1,797.0 1126.0,790.5" fill="#00ff9b" stroke="#00ff9b"/><polygon points="1079.8,783.9 1061.8,790.7 1075.9,797.1 1093.9,790.4" fill="#00ffa1" stroke="#00ffa1"/><polygon points="1513.1,823.6 1497.3,827.8 1514.0,837.1 1529.7,833.0" fill="#00a9ff" stroke="#00a9ff"/><polygon points="1480.8,818.6 1464.9,823.0 1481.4,832.1 1497.3,827.8" fill="#00c7ff" stroke="#00c7ff"/><polygon points="1448.5,814.0 1432.4,818.6 1448.7,827.4 1464.9,823.0" fill="#00e2ff" stroke="#00e2ff"/><polygon points="1416.3,809.9 1399.9,814.6 1416.1,823.2 1432.4,818.6" fill="#00faff" stroke="#00faff"/><polygon points="1384.0,806.1 1367.4,811.0 1383.4,819.4 1399.9,814.6" fill="#00ffef" stroke="#00ffef"/><polygon points="1351.7,802.7 1335.0,807.8 1350.7,816.0 1367.4,811.0" fill="#00ffdd" stroke="#00ffdd"/><polygon points="1319.4,799.8 1302.5,805.1 1318.1,813.0 1335.0,807.8" fill="#00ffcd" stroke="#00ffcd"/><polygon points="1287.1,797.2 1270.0,802.7 1285.4,810.4 1302.5,805.1" fill="#00ffc1" stroke="#00ffc1"/><polygon points="1254.8,795.1 1237.6,800.7 1252.8,808.2 1270.0,802.7" fill="#00ffb7" stroke="#00ffb7"/><polygon points="1222.5,793.3 1205.2,799.2 1220.2,806.5 1237.6,800.7" fill="#00ffb0" stroke="#00ffb0"/><polygon points="1190.3,792.0 1172.8,798.0 1187.6,805.1 1205.2,799.2" fill="#00ffac" stroke="#00ffac"/><polygon points="1158.1,791.0 1140.4,797.3 1155.0,804.2 1172.8,798.0" fill="#00ffaa" stroke="#00ffaa"/><polygon points="1126.0,790.5 1108.1,797.0 1122.5,803.6 1140.4,797.3" fill="#00ffac" stroke="#00ffac"/><polygon points="1093.9,790.4 1075.9,797.1 1090.1,803.5 1108.1,797.0" fill="#00ffb1" stroke="#00ffb1"/><polygon points="1061.8,790.7 1043.7,797.5 1057.7,803.8 1075.9,797.1" fill="#00ffb8" stroke="#00ffb8"/><polygon points="1529.7,833.0 1514.0,837.1 1530.8,846.5 1546.5,842.5" fill="#0087ff" stroke="#0087ff"/><polygon points="1497.3,827.8 1481.4,832.1 1498.0,841.2 1514.0,837.1" fill="#00a6ff" stroke="#00a6ff"/><polygon points="1464.9,823.0 1448.7,827.4 1465.2,836.4 1481.4,832.1" fill="#00c3ff" stroke="#00c3ff"/><polygon points="1432.4,818.6 1416.1,823.2 1432.4,831.9 1448.7,827.4" fill="#00dcff" stroke="#00dcff"/><polygon points="1399.9,814.6 1383.4,819.4 1399.6,827.9 1416.1,823.2" fill="#00f3ff" stroke="#00f3ff"/><polygon points="1367.4,811.0 1350.7,816.0 1366.7,824.3 1383.4,819.4" fill="#00fff8" stroke="#00fff8"/><polygon points="1335.0,807.8 1318.1,813.0 1333.8,821.0 1350.7,816.0" fill="#00ffe7" stroke="#00ffe7"/><polygon points="1302.5,805.1 1285.4,810.4 1301.0,818.2 1318.1,813.0" fill="#00ffd8" stroke="#00ffd8"/><polygon points="1270.0,802.7 1252.8,808.2 1268.2,815.8 1285.4,810.4" fill="#00ffcd" stroke="#00ffcd"/><polygon points="1237.6,800.7 1220.2,806.5 1235.4,813.9 1252.8,808.2" fill="#00ffc5" stroke="#00ffc5"/><polygon points="1205.2,799.2 1187.6,805.1 1202.6,812.3 1220.2,806.5" fill="#00ffbf" stroke="#00ffbf"/><polygon points="1172.8,798.0 1155.0,804.2 1169.8,811.1 1187.6,805.1" fill="#00ffbd" stroke="#00ffbd"/><polygon points="1140.4,797.3 1122.5,803.6 1137.1,810.4 1155.0,804.2" fill="#00ffbd" stroke="#00ffbd"/><polygon points="1108.1,797.0 1090.1,803.5 1104.4,810.0 1122.5,803.6" fill="#00ffc0" stroke="#00ffc0"/><polygon points="1075.9,797.1 1057.7,803.8 1071.8,810.1 1090.1,803.5" fill="#00ffc6" stroke="#00ffc6"/><polygon points="1043.7,797.5 1025.3,804.5 1039.3,810.6 1057.7,803.8" fill="#00ffcf" stroke="#00ffcf"/><polygon points="1546.5,842.5 1530.8,846.5 1547.9,856.0 1563.6,852.2" fill="#0065ff" stroke="#0065ff"/><polygon points="1514.0,837.1 1498.0,841.2 1514.9,850.5 1530.8,846.5" fill="#0086ff" stroke="#0086ff"/><polygon points="1481.4,832.1 1465.2,836.4 1481.9,845.4 1498.0,841.2" fill="#00a3ff" stroke="#00a3ff"/><polygon points="1448.7,827.4 1432.4,831.9 1448.9,840.7 1465.2,836.4" fill="#00beff" stroke="#00beff"/><polygon points="1416.1,823.2 1399.6,827.9 1415.9,836.5 1432.4,831.9" fill="#00d6ff" stroke="#00d6ff"/><polygon points="1383.4,819.4 1366.7,824.3 1382.8,832.6 1399.6,827.9" fill="#00ecff" stroke="#00ecff"/><polygon points="1350.7,816.0 1333.8,821.0 1349.8,829.2 1366.7,824.3" fill="#00feff" stroke="#00feff"/><polygon points="1318.1,813.0 1301.0,818.2 1316.8,826.1 1333.8,821.0" fill="#00fff0" stroke="#00fff0"/><polygon points="1285.4,810.4 1268.2,815.8 1283.7,823.5 1301.0,818.2" fill="#00ffe4" stroke="#00ffe4"/><polygon points="1252.8,808.2 1235.4,813.9 1250.7,821.3 1268.2,815.8" fill="#00ffda" stroke="#00ffda"/><polygon points="1220.2,806.5 1202.6,812.3 1217.7,819.5 1235.4,813.9" fill="#00ffd3" stroke="#00ffd3"/><polygon points="1187.6,805.1 1169.8,811.1 1184.8,818.1 1202.6,812.3" fill="#00ffcf" stroke="#00ffcf"/><polygon points="1155.0,804.2 1137.1,810.4 1151.9,817.2 1169.8,811.1" fill="#00ffce" stroke="#00ffce"/><polygon points="1122.5,803.6 1104.4,810.0 1119.0,816.6 1137.1,810.4" fill="#00ffcf" stroke="#00ffcf"/><polygon points="1090.1,803.5 1071.8,810.1 1086.1,816.5 1104.4,810.0" fill="#00ffd4" stroke="#00ffd4"/><polygon points="1057.7,803.8 1039.3,810.6 1053.4,816.8 1071.8,810.1" fill="#00ffdb" stroke="#00ffdb"/><polygon points="1025.3,804.5 1006.8,811.5 1020.7,817.4 1039.3,810.6" fill="#00ffe5" stroke="#00ffe5"/><polygon points="1563.6,852.2 1547.9,856.0 1565.1,865.6 1580.8,861.9" fill="#0043ff" stroke="#0043ff"/><polygon points="1530.8,846.5 1514.9,850.5 1532.0,859.9 1547.9,856.0" fill="#0065ff" stroke="#0065ff"/><polygon points="1498.0,841.2 1481.9,845.4 1498.8,854.6 1514.9,850.5" fill="#0084ff" stroke="#0084ff"/><polygon points="1465.2,836.4 1448.9,840.7 1465.6,849.7 1481.9,845.4" fill="#00a1ff" stroke="#00a1ff"/><polygon points="1432.4,831.9 1415.9,836.5 1432.4,845.2 1448.9,840.7" fill="#00baff" stroke="#00baff"/><polygon points="1399.6,827.9 1382.8,832.6 1399.2,841.1 1415.9,836.5" fill="#00d1ff" stroke="#00d1ff"/><polygon points="1366.7,824.3 1349.8,829.2 1365.9,837.4 1382.8,832.6" fill="#00e5ff" stroke="#00e5ff"/><polygon points="1333.8,821.0 1316.8,826.1 1332.7,834.1 1349.8,829.2" fill="#00f6ff" stroke="#00f6ff"/><polygon points="1301.0,818.2 1283.7,823.5 1299.5,831.3 1316.8,826.1" fill="#00fffa" stroke="#00fffa"/><polygon points="1268.2,815.8 1250.7,821.3 1266.3,828.9 1283.7,823.5" fill="#00ffef" stroke="#00ffef"/><polygon points="1235.4,813.9 1217.7,819.5 1233.1,826.9 1250.7,821.3" fill="#00ffe7" stroke="#00ffe7"/><polygon points="1202.6,812.3 1184.8,818.1 1199.9,825.3 1217.7,819.5" fill="#00ffe1" stroke="#00ffe1"/><polygon points="1169.8,811.1 1151.9,817.2 1166.8,824.1 1184.8,818.1" fill="#00ffdf" stroke="#00ffdf"/><polygon points="1137.1,810.4 1119.0,816.6 1133.7,823.3 1151.9,817.2" fill="#00ffdf" stroke="#00ffdf"/><polygon points="1104.4,810.0 1086.1,816.5 1100.6,823.0 1119.0,816.6" fill="#00ffe2" stroke="#00ffe2"/><polygon points="1071.8,810.1 1053.4,816.8 1067.7,823.0 1086.1,816.5" fill="#00ffe8" stroke="#00ffe8"/><polygon points="1039.3,810.6 1020.7,817.4 1034.7,823.5 1053.4,816.8" fill="#00fff1" stroke="#00fff1"/><polygon points="1006.8,811.5 988.0,818.5 1001.9,824.4 1020.7,817.4" fill="#00fffc" stroke="#00fffc"/><polygon points="1580.8,861.9 1565.1,865.6 1582.5,875.3 1598.2,871.7" fill="#0021ff" stroke="#0021ff"/><polygon points="1547.9,856.0 1532.0,859.9 1549.2,869.4 1565.1,865.6" fill="#0045ff" stroke="#0045ff"/><polygon points="1514.9,850.5 1498.8,854.6 1515.9,863.8 1532.0,859.9" fill="#0065ff" stroke="#0065ff"/><polygon points="1481.9,845.4 1465.6,849.7 1482.5,858.7 1498.8,854.6" fill="#0083ff" stroke="#0083ff"/><polygon points="1448.9,840.7 1432.4,845.2 1449.1,853.9 1465.6,849.7" fill="#009eff" stroke="#009eff"/><polygon points="1415.9,836.5 1399.2,841.1 1415.7,849.6 1432.4,845.2" fill="#00b6ff" stroke="#00b6ff"/><polygon points="1382.8,832.6 1365.9,837.4 1382.3,845.7 1399.2,841.1" fill="#00cbff" stroke="#00cbff"/><polygon points="1349.8,829.2 1332.7,834.1 1348.9,842.2 1365.9,837.4" fill="#00deff" stroke="#00deff"/><polygon points="1316.8,826.1 1299.5,831.3 1315.4,839.2 1332.7,834.1" fill="#00edff" stroke="#00edff"/><polygon points="1283.7,823.5 1266.3,828.9 1282.0,836.5 1299.5,831.3" fill="#00faff" stroke="#00faff"/><polygon points="1250.7,821.3 1233.1,826.9 1248.6,834.3 1266.3,828.9" fill="#00fffa" stroke="#00fffa"/><polygon points="1217.7,819.5 1199.9,825.3 1215.2,832.5 1233.1,826.9" fill="#00fff4" stroke="#00fff4"/><polygon points="1184.8,818.1 1166.8,824.1 1181.9,831.1 1199.9,825.3" fill="#00ffef" stroke="#00ffef"/><polygon points="1151.9,817.2 1133.7,823.3 1148.6,830.1 1166.8,824.1" fill="#00ffee" stroke="#00ffee"/><polygon points="1119.0,816.6 1100.6,823.0 1115.3,829.5 1133.7,823.3" fill="#00fff0" stroke="#00fff0"/><polygon points="1086.1,816.5 1067.7,823.0 1082.1,829.4 1100.6,823.0" fill="#00fff4" stroke="#00fff4"/><polygon points="1053.4,816.8 1034.7,823.5 1049.0,829.6 1067.7,823.0" fill="#00fffc" stroke="#00fffc"/><polygon points="1020.7,817.4 1001.9,824.4 1015.9,830.3 1034.7,823.5" fill="#00f8ff" stroke="#00f8ff"/><polygon points="988.0,818.5 969.1,825.7 982.9,831.4 1001.9,824.4" fill="#00ebff" stroke="#00ebff"/><polygon points="1598.2,871.7 1582.5,875.3 1600.1,885.2 1615.8,881.7" fill="#0000ff" stroke="#0000ff"/><polygon points="1565.1,865.6 1549.2,869.4 1566.7,879.0 1582.5,875.3" fill="#0024ff" stroke="#0024ff"/><polygon points="1532.0,859.9 1515.9,863.8 1533.2,873.2 1549.2,869.4" fill="#0046ff" stroke="#0046ff"/><polygon points="1498.8,854.6 1482.5,858.7 1499.6,867.8 1515.9,863.8" fill="#0065ff" stroke="#0065ff"/><polygon points="1465.6,849.7 1449.1,853.9 1466.0,862.8 1482.5,858.7" fill="#0082ff" stroke="#0082ff"/><polygon points="1432.4,845.2 1415.7,849.6 1432.4,858.3 1449.1,853.9" fill="#009bff" stroke="#009bff"/><polygon points="1399.2,841.1 1382.3,845.7 1398.8,854.1 1415.7,849.6" fill="#00b2ff" stroke="#00b2ff"/><polygon points="1365.9,837.4 1348.9,842.2 1365.2,850.4 1382.3,845.7" fill="#00c6ff" stroke="#00c6ff"/><polygon points="1332.7,834.1 1315.4,839.2 1331.6,847.1 1348.9,842.2" fill="#00d7ff" stroke="#00d7ff"/><polygon points="1299.5,831.3 1282.0,836.5 1297.9,844.3 1315.4,839.2" fill="#00e5ff" stroke="#00e5ff"/><polygon points="1266.3,828.9 1248.6,834.3 1264.3,841.8 1282.0,836.5" fill="#00f0ff" stroke="#00f0ff"/><polygon points="1233.1,826.9 1215.2,832.5 1230.7,839.8 1248.6,834.3" fill="#00f8ff" stroke="#00f8ff"/><polygon points="1199.9,825.3 1181.9,831.1 1197.2,838.1 1215.2,832.5" fill="#00feff" stroke="#00feff"/><polygon points="1166.8,824.1 1148.6,830.1 1163.7,836.9 1181.9,831.1" fill="#00fffe" stroke="#00fffe"/><polygon points="1133.7,823.3 1115.3,829.5 1130.2,836.1 1148.6,830.1" fill="#00fffe" stroke="#00fffe"/><polygon points="1100.6,823.0 1082.1,829.4 1096.8,835.8 1115.3,829.5" fill="#00fdff" stroke="#00fdff"/><polygon points="1067.7,823.0 1049.0,829.6 1063.4,835.8 1082.1,829.4" fill="#00f7ff" stroke="#00f7ff"/><polygon points="1034.7,823.5 1015.9,830.3 1030.1,836.3 1049.0,829.6" fill="#00eeff" stroke="#00eeff"/><polygon points="1001.9,824.4 982.9,831.4 996.8,837.2 1015.9,830.3" fill="#00e3ff" stroke="#00e3ff"/><polygon points="969.1,825.7 949.9,832.9 963.7,838.5 982.9,831.4" fill="#00d4ff" stroke="#00d4ff"/><polygon points="1582.5,875.3 1566.7,879.0 1584.3,888.7 1600.1,885.2" fill="#0004ff" stroke="#0004ff"/><polygon points="1549.2,869.4 1533.2,873.2 1550.6,882.6 1566.7,879.0" fill="#0027ff" stroke="#0027ff"/><polygon points="1515.9,863.8 1499.6,867.8 1516.9,877.0 1533.2,873.2" fill="#0048ff" stroke="#0048ff"/><polygon points="1482.5,858.7 1466.0,862.8 1483.1,871.8 1499.6,867.8" fill="#0065ff" stroke="#0065ff"/><polygon points="1449.1,853.9 1432.4,858.3 1449.3,867.0 1466.0,862.8" fill="#0080ff" stroke="#0080ff"/><polygon points="1415.7,849.6 1398.8,854.1 1415.5,862.7 1432.4,858.3" fill="#0098ff" stroke="#0098ff"/><polygon points="1382.3,845.7 1365.2,850.4 1381.7,858.7 1398.8,854.1" fill="#00aeff" stroke="#00aeff"/><polygon points="1348.9,842.2 1331.6,847.1 1347.9,855.2 1365.2,850.4" fill="#00c0ff" stroke="#00c0ff"/><polygon points="1315.4,839.2 1297.9,844.3 1314.1,852.1 1331.6,847.1" fill="#00d0ff" stroke="#00d0ff"/><polygon points="1282.0,836.5 1264.3,841.8 1280.2,849.4 1297.9,844.3" fill="#00dcff" stroke="#00dcff"/><polygon points="1248.6,834.3 1230.7,839.8 1246.4,847.1 1264.3,841.8" fill="#00e6ff" stroke="#00e6ff"/><polygon points="1215.2,832.5 1197.2,838.1 1212.7,845.3 1230.7,839.8" fill="#00edff" stroke="#00edff"/><polygon points="1181.9,831.1 1163.7,836.9 1178.9,843.9 1197.2,838.1" fill="#00f1ff" stroke="#00f1ff"/><polygon points="1148.6,830.1 1130.2,836.1 1145.2,842.9 1163.7,836.9" fill="#00f2ff" stroke="#00f2ff"/><polygon points="1115.3,829.5 1096.8,835.8 1111.6,842.3 1130.2,836.1" fill="#00f1ff" stroke="#00f1ff"/><polygon points="1082.1,829.4 1063.4,835.8 1078.0,842.1 1096.8,835.8" fill="#00ecff" stroke="#00ecff"/><polygon points="1049.0,829.6 1030.1,836.3 1044.4,842.4 1063.4,835.8" fill="#00e5ff" stroke="#00e5ff"/><polygon points="1015.9,830.3 996.8,837.2 1011.0,843.1 1030.1,836.3" fill="#00dbff" stroke="#00dbff"/><polygon points="982.9,831.4 963.7,838.5 977.6,844.1 996.8,837.2" fill="#00cdff" stroke="#00cdff"/><polygon points="1566.7,879.0 1550.6,882.6 1568.3,892.2 1584.3,888.7" fill="#0008ff" stroke="#0008ff"/><polygon points="1533.2,873.2 1516.9,877.0 1534.4,886.4 1550.6,882.6" fill="#002aff" stroke="#002aff"/><polygon points="1499.6,867.8 1483.1,871.8 1500.4,880.9 1516.9,877.0" fill="#0049ff" stroke="#0049ff"/><polygon points="1466.0,862.8 1449.3,867.0 1466.5,875.9 1483.1,871.8" fill="#0066ff" stroke="#0066ff"/><polygon points="1432.4,858.3 1415.5,862.7 1432.5,871.3 1449.3,867.0" fill="#007fff" stroke="#007fff"/><polygon points="1398.8,854.1 1381.7,858.7 1398.4,867.1 1415.5,862.7" fill="#0096ff" stroke="#0096ff"/><polygon points="1365.2,850.4 1347.9,855.2 1364.4,863.3 1381.7,858.7" fill="#00a9ff" stroke="#00a9ff"/><polygon points="1331.6,847.1 1314.1,852.1 1330.4,860.0 1347.9,855.2" fill="#00baff" stroke="#00baff"/><polygon points="1297.9,844.3 1280.2,849.4 1296.4,857.1 1314.1,852.1" fill="#00c8ff" stroke="#00c8ff"/><polygon points="1264.3,841.8 1246.4,847.1 1262.3,854.6 1280.2,849.4" fill="#00d4ff" stroke="#00d4ff"/><polygon points="1230.7,839.8 1212.7,845.3 1228.4,852.5 1246.4,847.1" fill="#00dcff" stroke="#00dcff"/><polygon points="1197.2,838.1 1178.9,843.9 1194.4,850.9 1212.7,845.3" fill="#00e2ff" stroke="#00e2ff"/><polygon points="1163.7,836.9 1145.2,842.9 1160.5,849.7 1178.9,843.9" fill="#00e4ff" stroke="#00e4ff"/><polygon points="1130.2,836.1 1111.6,842.3 1126.6,848.9 1145.2,842.9" fill="#00e4ff" stroke="#00e4ff"/><polygon points="1096.8,835.8 1078.0,842.1 1092.8,848.5 1111.6,842.3" fill="#00e1ff" stroke="#00e1ff"/><polygon points="1063.4,835.8 1044.4,842.4 1059.0,848.5 1078.0,842.1" fill="#00dbff" stroke="#00dbff"/><polygon points="1030.1,836.3 1011.0,843.1 1025.3,849.0 1044.4,842.4" fill="#00d2ff" stroke="#00d2ff"/><polygon points="996.8,837.2 977.6,844.1 991.7,849.9 1011.0,843.1" fill="#00c7ff" stroke="#00c7ff"/><polygon points="1550.6,882.6 1534.4,886.4 1552.1,895.8 1568.3,892.2" fill="#000cff" stroke="#000cff"/><polygon points="1516.9,877.0 1500.4,880.9 1518.0,890.1 1534.4,886.4" fill="#002dff" stroke="#002dff"/><polygon points="1483.1,871.8 1466.5,875.9 1483.8,884.9 1500.4,880.9" fill="#004bff" stroke="#004bff"/><polygon points="1449.3,867.0 1432.5,871.3 1449.6,880.0 1466.5,875.9" fill="#0066ff" stroke="#0066ff"/><polygon points="1415.5,862.7 1398.4,867.1 1415.4,875.6 1432.5,871.3" fill="#007eff" stroke="#007eff"/><polygon points="1381.7,858.7 1364.4,863.3 1381.1,871.6 1398.4,867.1" fill="#0093ff" stroke="#0093ff"/><polygon points="1347.9,855.2 1330.4,860.0 1346.9,868.0 1364.4,863.3" fill="#00a5ff" stroke="#00a5ff"/><polygon points="1314.1,852.1 1296.4,857.1 1312.7,864.9 1330.4,860.0" fill="#00b5ff" stroke="#00b5ff"/><polygon points="1280.2,849.4 1262.3,854.6 1278.4,862.2 1296.4,857.1" fill="#00c1ff" stroke="#00c1ff"/><polygon points="1246.4,847.1 1228.4,852.5 1244.2,859.9 1262.3,854.6" fill="#00cbff" stroke="#00cbff"/><polygon points="1212.7,845.3 1194.4,850.9 1210.1,858.0 1228.4,852.5" fill="#00d2ff" stroke="#00d2ff"/><polygon points="1178.9,843.9 1160.5,849.7 1175.9,856.5 1194.4,850.9" fill="#00d6ff" stroke="#00d6ff"/><polygon points="1145.2,842.9 1126.6,848.9 1141.8,855.5 1160.5,849.7" fill="#00d7ff" stroke="#00d7ff"/><polygon points="1111.6,842.3 1092.8,848.5 1107.7,854.9 1126.6,848.9" fill="#00d6ff" stroke="#00d6ff"/><polygon points="1078.0,842.1 1059.0,848.5 1073.7,854.8 1092.8,848.5" fill="#00d1ff" stroke="#00d1ff"/><polygon points="1044.4,842.4 1025.3,849.0 1039.8,855.0 1059.0,848.5" fill="#00caff" stroke="#00caff"/><polygon points="1011.0,843.1 991.7,849.9 1005.9,855.7 1025.3,849.0" fill="#00c0ff" stroke="#00c0ff"/><polygon points="1534.4,886.4 1518.0,890.1 1535.7,899.4 1552.1,895.8" fill="#0011ff" stroke="#0011ff"/><polygon points="1500.4,880.9 1483.8,884.9 1501.3,893.9 1518.0,890.1" fill="#0030ff" stroke="#0030ff"/><polygon points="1466.5,875.9 1449.6,880.0 1466.9,888.8 1483.8,884.9" fill="#004cff" stroke="#004cff"/><polygon points="1432.5,871.3 1415.4,875.6 1432.5,884.2 1449.6,880.0" fill="#0066ff" stroke="#0066ff"/><polygon points="1398.4,867.1 1381.1,871.6 1398.1,880.0 1415.4,875.6" fill="#007cff" stroke="#007cff"/><polygon points="1364.4,863.3 1346.9,868.0 1363.6,876.2 1381.1,871.6" fill="#0090ff" stroke="#0090ff"/><polygon points="1330.4,860.0 1312.7,864.9 1329.2,872.8 1346.9,868.0" fill="#00a1ff" stroke="#00a1ff"/><polygon points="1296.4,857.1 1278.4,862.2 1294.7,869.8 1312.7,864.9" fill="#00afff" stroke="#00afff"/><polygon points="1262.3,854.6 1244.2,859.9 1260.3,867.3 1278.4,862.2" fill="#00baff" stroke="#00baff"/><polygon points="1228.4,852.5 1210.1,858.0 1225.9,865.2 1244.2,859.9" fill="#00c3ff" stroke="#00c3ff"/><polygon points="1194.4,850.9 1175.9,856.5 1191.5,863.5 1210.1,858.0" fill="#00c8ff" stroke="#00c8ff"/><polygon points="1160.5,849.7 1141.8,855.5 1157.2,862.3 1175.9,856.5" fill="#00cbff" stroke="#00cbff"/><polygon points="1126.6,848.9 1107.7,854.9 1122.9,861.5 1141.8,855.5" fill="#00cbff" stroke="#00cbff"/><polygon points="1092.8,848.5 1073.7,854.8 1088.7,861.1 1107.7,854.9" fill="#00c8ff" stroke="#00c8ff"/><polygon points="1059.0,848.5 1039.8,855.0 1054.5,861.1 1073.7,854.8" fill="#00c2ff" stroke="#00c2ff"/><polygon points="1025.3,849.0 1005.9,855.7 1020.4,861.6 1039.8,855.0" fill="#00b9ff" stroke="#00b9ff"/><polygon points="1518.0,890.1 1501.3,893.9 1519.1,903.1 1535.7,899.4" fill="#0015ff" stroke="#0015ff"/><polygon points="1483.8,884.9 1466.9,888.8 1484.5,897.8 1501.3,893.9" fill="#0033ff" stroke="#0033ff"/><polygon points="1449.6,880.0 1432.5,884.2 1449.8,892.9 1466.9,888.8" fill="#004eff" stroke="#004eff"/><polygon points="1415.4,875.6 1398.1,880.0 1415.2,888.4 1432.5,884.2" fill="#0066ff" stroke="#0066ff"/><polygon points="1381.1,871.6 1363.6,876.2 1380.5,884.4 1398.1,880.0" fill="#007bff" stroke="#007bff"/><polygon points="1346.9,868.0 1329.2,872.8 1345.9,880.8 1363.6,876.2" fill="#008dff" stroke="#008dff"/><polygon points="1312.7,864.9 1294.7,869.8 1311.2,877.6 1329.2,872.8" fill="#009dff" stroke="#009dff"/><polygon points="1278.4,862.2 1260.3,867.3 1276.6,874.8 1294.7,869.8" fill="#00aaff" stroke="#00aaff"/><polygon points="1244.2,859.9 1225.9,865.2 1242.0,872.5 1260.3,867.3" fill="#00b3ff" stroke="#00b3ff"/><polygon points="1210.1,858.0 1191.5,863.5 1207.4,870.6 1225.9,865.2" fill="#00baff" stroke="#00baff"/><polygon points="1175.9,856.5 1157.2,862.3 1172.8,869.1 1191.5,863.5" fill="#00beff" stroke="#00beff"/><polygon points="1141.8,855.5 1122.9,861.5 1138.3,868.1 1157.2,862.3" fill="#00c0ff" stroke="#00c0ff"/><polygon points="1107.7,854.9 1088.7,861.1 1103.8,867.5 1122.9,861.5" fill="#00beff" stroke="#00beff"/><polygon points="1073.7,854.8 1054.5,861.1 1069.4,867.3 1088.7,861.1" fill="#00b9ff" stroke="#00b9ff"/><polygon points="1039.8,855.0 1020.4,861.6 1035.0,867.5 1054.5,861.1" fill="#00b2ff" stroke="#00b2ff"/><polygon points="1501.3,893.9 1484.5,897.8 1502.2,906.8 1519.1,903.1" fill="#0019ff" stroke="#0019ff"/><polygon points="1466.9,888.8 1449.8,892.9 1467.4,901.7 1484.5,897.8" fill="#0036ff" stroke="#0036ff"/><polygon points="1432.5,884.2 1415.2,888.4 1432.6,897.0 1449.8,892.9" fill="#004fff" stroke="#004fff"/><polygon points="1398.1,880.0 1380.5,884.4 1397.7,892.7 1415.2,888.4" fill="#0066ff" stroke="#0066ff"/><polygon points="1363.6,876.2 1345.9,880.8 1362.8,888.8 1380.5,884.4" fill="#007aff" stroke="#007aff"/><polygon points="1329.2,872.8 1311.2,877.6 1327.9,885.4 1345.9,880.8" fill="#008bff" stroke="#008bff"/><polygon points="1294.7,869.8 1276.6,874.8 1293.1,882.4 1311.2,877.6" fill="#0099ff" stroke="#0099ff"/><polygon points="1260.3,867.3 1242.0,872.5 1258.2,879.9 1276.6,874.8" fill="#00a4ff" stroke="#00a4ff"/><polygon points="1225.9,865.2 1207.4,870.6 1223.4,877.7 1242.0,872.5" fill="#00acff" stroke="#00acff"/><polygon points="1191.5,863.5 1172.8,869.1 1188.6,876.0 1207.4,870.6" fill="#00b2ff" stroke="#00b2ff"/><polygon points="1157.2,862.3 1138.3,868.1 1153.8,874.8 1172.8,869.1" fill="#00b4ff" stroke="#00b4ff"/><polygon points="1122.9,861.5 1103.8,867.5 1119.1,873.9 1138.3,868.1" fill="#00b4ff" stroke="#00b4ff"/><polygon points="1088.7,861.1 1069.4,867.3 1084.4,873.5 1103.8,867.5" fill="#00b1ff" stroke="#00b1ff"/><polygon points="1054.5,861.1 1035.0,867.5 1049.8,873.6 1069.4,867.3" fill="#00abff" stroke="#00abff"/><polygon points="1484.5,897.8 1467.4,901.7 1485.2,910.6 1502.2,906.8" fill="#001eff" stroke="#001eff"/><polygon points="1449.8,892.9 1432.6,897.0 1450.1,905.7 1467.4,901.7" fill="#0039ff" stroke="#0039ff"/><polygon points="1415.2,888.4 1397.7,892.7 1415.0,901.1 1432.6,897.0" fill="#0051ff" stroke="#0051ff"/><polygon points="1380.5,884.4 1362.8,888.8 1379.9,897.0 1397.7,892.7" fill="#0066ff" stroke="#0066ff"/><polygon points="1345.9,880.8 1327.9,885.4 1344.9,893.4 1362.8,888.8" fill="#0078ff" stroke="#0078ff"/><polygon points="1311.2,877.6 1293.1,882.4 1309.8,890.1 1327.9,885.4" fill="#0088ff" stroke="#0088ff"/><polygon points="1276.6,874.8 1258.2,879.9 1274.7,887.3 1293.1,882.4" fill="#0095ff" stroke="#0095ff"/><polygon points="1242.0,872.5 1223.4,877.7 1239.6,885.0 1258.2,879.9" fill="#009eff" stroke="#009eff"/><polygon points="1207.4,870.6 1188.6,876.0 1204.6,883.1 1223.4,877.7" fill="#00a5ff" stroke="#00a5ff"/><polygon points="1172.8,869.1 1153.8,874.8 1169.6,881.6 1188.6,876.0" fill="#00a9ff" stroke="#00a9ff"/><polygon points="1138.3,868.1 1119.1,873.9 1134.6,880.5 1153.8,874.8" fill="#00abff" stroke="#00abff"/><polygon points="1103.8,867.5 1084.4,873.5 1099.7,879.9 1119.1,873.9" fill="#00a9ff" stroke="#00a9ff"/><polygon points="1069.4,867.3 1049.8,873.6 1064.9,879.7 1084.4,873.5" fill="#00a4ff" stroke="#00a4ff"/><polygon points="1467.4,901.7 1450.1,905.7 1467.9,914.4 1485.2,910.6" fill="#0022ff" stroke="#0022ff"/><polygon points="1432.6,897.0 1415.0,901.1 1432.6,909.7 1450.1,905.7" fill="#003cff" stroke="#003cff"/><polygon points="1397.7,892.7 1379.9,897.0 1397.3,905.3 1415.0,901.1" fill="#0052ff" stroke="#0052ff"/><polygon points="1362.8,888.8 1344.9,893.4 1362.0,901.4 1379.9,897.0" fill="#0066ff" stroke="#0066ff"/><polygon points="1327.9,885.4 1309.8,890.1 1326.7,898.0 1344.9,893.4" fill="#0077ff" stroke="#0077ff"/><polygon points="1293.1,882.4 1274.7,887.3 1291.4,894.9 1309.8,890.1" fill="#0085ff" stroke="#0085ff"/><polygon points="1258.2,879.9 1239.6,885.0 1256.1,892.3 1274.7,887.3" fill="#0090ff" stroke="#0090ff"/><polygon points="1223.4,877.7 1204.6,883.1 1220.8,890.2 1239.6,885.0" fill="#0099ff" stroke="#0099ff"/><polygon points="1188.6,876.0 1169.6,881.6 1185.6,888.4 1204.6,883.1" fill="#009eff" stroke="#009eff"/><polygon points="1153.8,874.8 1134.6,880.5 1150.4,887.2 1169.6,881.6" fill="#00a1ff" stroke="#00a1ff"/><polygon points="1119.1,873.9 1099.7,879.9 1115.2,886.3 1134.6,880.5" fill="#00a1ff" stroke="#00a1ff"/><polygon points="1084.4,873.5 1064.9,879.7 1080.1,885.9 1099.7,879.9" fill="#009eff" stroke="#009eff"/><polygon points="1450.1,905.7 1432.6,909.7 1450.4,918.3 1467.9,914.4" fill="#0027ff" stroke="#0027ff"/><polygon points="1415.0,901.1 1397.3,905.3 1414.9,913.7 1432.6,909.7" fill="#003fff" stroke="#003fff"/><polygon points="1379.9,897.0 1362.0,901.4 1379.3,909.6 1397.3,905.3" fill="#0054ff" stroke="#0054ff"/><polygon points="1344.9,893.4 1326.7,898.0 1343.8,905.9 1362.0,901.4" fill="#0066ff" stroke="#0066ff"/><polygon points="1309.8,890.1 1291.4,894.9 1308.3,902.6 1326.7,898.0" fill="#0076ff" stroke="#0076ff"/><polygon points="1274.7,887.3 1256.1,892.3 1272.7,899.8 1291.4,894.9" fill="#0082ff" stroke="#0082ff"/><polygon points="1239.6,885.0 1220.8,890.2 1237.2,897.4 1256.1,892.3" fill="#008cff" stroke="#008cff"/><polygon points="1204.6,883.1 1185.6,888.4 1201.7,895.4 1220.8,890.2" fill="#0093ff" stroke="#0093ff"/><polygon points="1169.6,881.6 1150.4,887.2 1166.3,893.9 1185.6,888.4" fill="#0097ff" stroke="#0097ff"/><polygon points="1134.6,880.5 1115.2,886.3 1130.9,892.8 1150.4,887.2" fill="#0098ff" stroke="#0098ff"/><polygon points="1099.7,879.9 1080.1,885.9 1095.5,892.2 1115.2,886.3" fill="#0097ff" stroke="#0097ff"/><polygon points="1432.6,909.7 1414.9,913.7 1432.7,922.2 1450.4,918.3" fill="#002bff" stroke="#002bff"/><polygon points="1397.3,905.3 1379.3,909.6 1396.9,917.8 1414.9,913.7" fill="#0042ff" stroke="#0042ff"/><polygon points="1362.0,901.4 1343.8,905.9 1361.2,913.9 1379.3,909.6" fill="#0055ff" stroke="#0055ff"/><polygon points="1326.7,898.0 1308.3,902.6 1325.4,910.4 1343.8,905.9" fill="#0066ff" stroke="#0066ff"/><polygon points="1291.4,894.9 1272.7,899.8 1289.6,907.3 1308.3,902.6" fill="#0074ff" stroke="#0074ff"/><polygon points="1256.1,892.3 1237.2,897.4 1253.9,904.7 1272.7,899.8" fill="#0080ff" stroke="#0080ff"/><polygon points="1220.8,890.2 1201.7,895.4 1218.1,902.5 1237.2,897.4" fill="#0088ff" stroke="#0088ff"/><polygon points="1185.6,888.4 1166.3,893.9 1182.4,900.7 1201.7,895.4" fill="#008eff" stroke="#008eff"/><polygon points="1150.4,887.2 1130.9,892.8 1146.8,899.4 1166.3,893.9" fill="#0090ff" stroke="#0090ff"/><polygon points="1115.2,886.3 1095.5,892.2 1111.2,898.5 1130.9,892.8" fill="#0090ff" stroke="#0090ff"/><polygon points="1414.9,913.7 1396.9,917.8 1414.7,926.2 1432.7,922.2" fill="#002fff" stroke="#002fff"/><polygon points="1379.3,909.6 1361.2,913.9 1378.7,922.0 1396.9,917.8" fill="#0045ff" stroke="#0045ff"/><polygon points="1343.8,905.9 1325.4,910.4 1342.7,918.2 1361.2,913.9" fill="#0057ff" stroke="#0057ff"/><polygon points="1308.3,902.6 1289.6,907.3 1306.7,914.9 1325.4,910.4" fill="#0066ff" stroke="#0066ff"/><polygon points="1272.7,899.8 1253.9,904.7 1270.7,912.1 1289.6,907.3" fill="#0073ff" stroke="#0073ff"/><polygon points="1237.2,897.4 1218.1,902.5 1234.8,909.6 1253.9,904.7" fill="#007dff" stroke="#007dff"/><polygon points="1201.7,895.4 1182.4,900.7 1198.8,907.6 1218.1,902.5" fill="#0084ff" stroke="#0084ff"/><polygon points="1166.3,893.9 1146.8,899.4 1162.9,906.1 1182.4,900.7" fill="#0088ff" stroke="#0088ff"/><polygon points="1130.9,892.8 1111.2,898.5 1127.1,905.0 1146.8,899.4" fill="#0089ff" stroke="#0089ff"/><polygon points="1396.9,917.8 1378.7,922.0 1396.6,930.2 1414.7,926.2" fill="#0034ff" stroke="#0034ff"/><polygon points="1361.2,913.9 1342.7,918.2 1360.3,926.2 1378.7,922.0" fill="#0048ff" stroke="#0048ff"/><polygon points="1325.4,910.4 1306.7,914.9 1324.1,922.7 1342.7,918.2" fill="#0058ff" stroke="#0058ff"/><polygon points="1289.6,907.3 1270.7,912.1 1287.8,919.6 1306.7,914.9" fill="#0067ff" stroke="#0067ff"/><polygon points="1253.9,904.7 1234.8,909.6 1251.6,916.9 1270.7,912.1" fill="#0072ff" stroke="#0072ff"/><polygon points="1218.1,902.5 1198.8,907.6 1215.4,914.7 1234.8,909.6" fill="#007aff" stroke="#007aff"/><polygon points="1182.4,900.7 1162.9,906.1 1179.2,912.9 1198.8,907.6" fill="#0080ff" stroke="#0080ff"/><polygon points="1146.8,899.4 1127.1,905.0 1143.1,911.5 1162.9,906.1" fill="#0082ff" stroke="#0082ff"/><polygon points="1378.7,922.0 1360.3,926.2 1378.1,934.3 1396.6,930.2" fill="#0038ff" stroke="#0038ff"/><polygon points="1342.7,918.2 1324.1,922.7 1341.6,930.5 1360.3,926.2" fill="#004bff" stroke="#004bff"/><polygon points="1306.7,914.9 1287.8,919.6 1305.1,927.1 1324.1,922.7" fill="#005aff" stroke="#005aff"/><polygon points="1270.7,912.1 1251.6,916.9 1268.7,924.2 1287.8,919.6" fill="#0067ff" stroke="#0067ff"/><polygon points="1234.8,909.6 1215.4,914.7 1232.2,921.8 1251.6,916.9" fill="#0070ff" stroke="#0070ff"/><polygon points="1198.8,907.6 1179.2,912.9 1195.8,919.7 1215.4,914.7" fill="#0077ff" stroke="#0077ff"/><polygon points="1162.9,906.1 1143.1,911.5 1159.4,918.2 1179.2,912.9" fill="#007bff" stroke="#007bff"/><polygon points="1360.3,926.2 1341.6,930.5 1359.4,938.5 1378.1,934.3" fill="#003dff" stroke="#003dff"/><polygon points="1324.1,922.7 1305.1,927.1 1322.7,934.8 1341.6,930.5" fill="#004dff" stroke="#004dff"/><polygon points="1287.8,919.6 1268.7,924.2 1286.0,931.7 1305.1,927.1" fill="#005cff" stroke="#005cff"/><polygon points="1251.6,916.9 1232.2,921.8 1249.3,929.0 1268.7,924.2" fill="#0067ff" stroke="#0067ff"/><polygon points="1215.4,914.7 1195.8,919.7 1212.6,926.7 1232.2,921.8" fill="#006fff" stroke="#006fff"/><polygon points="1179.2,912.9 1159.4,918.2 1176.0,924.9 1195.8,919.7" fill="#0075ff" stroke="#0075ff"/><polygon points="1341.6,930.5 1322.7,934.8 1340.5,942.7 1359.4,938.5" fill="#0041ff" stroke="#0041ff"/><polygon points="1305.1,927.1 1286.0,931.7 1303.5,939.2 1322.7,934.8" fill="#0050ff" stroke="#0050ff"/><polygon points="1268.7,924.2 1249.3,929.0 1266.6,936.3 1286.0,931.7" fill="#005dff" stroke="#005dff"/><polygon points="1232.2,921.8 1212.6,926.7 1229.6,933.8 1249.3,929.0" fill="#0067ff" stroke="#0067ff"/><polygon points="1195.8,919.7 1176.0,924.9 1192.7,931.7 1212.6,926.7" fill="#006eff" stroke="#006eff"/><polygon points="1322.7,934.8 1303.5,939.2 1321.3,946.9 1340.5,942.7" fill="#0045ff" stroke="#0045ff"/><polygon points="1286.0,931.7 1266.6,936.3 1284.1,943.7 1303.5,939.2" fill="#0053ff" stroke="#0053ff"/><polygon points="1249.3,929.0 1229.6,933.8 1246.9,940.9 1266.6,936.3" fill="#005fff" stroke="#005fff"/><polygon points="1212.6,926.7 1192.7,931.7 1209.7,938.6 1229.6,933.8" fill="#0067ff" stroke="#0067ff"/><polygon points="1303.5,939.2 1284.1,943.7 1301.9,951.2 1321.3,946.9" fill="#004aff" stroke="#004aff"/><polygon points="1266.6,936.3 1246.9,940.9 1264.4,948.2 1284.1,943.7" fill="#0056ff" stroke="#0056ff"/><polygon points="1229.6,933.8 1209.7,938.6 1226.9,945.7 1246.9,940.9" fill="#0060ff" stroke="#0060ff"/><polygon points="1284.1,943.7 1264.4,948.2 1282.2,955.6 1301.9,951.2" fill="#004eff" stroke="#004eff"/><polygon points="1246.9,940.9 1226.9,945.7 1244.4,952.8 1264.4,948.2" fill="#0059ff" stroke="#0059ff"/><polygon points="1264.4,948.2 1244.4,952.8 1262.2,960.0 1282.2,955.6" fill="#0052ff" stroke="#0052ff"/></g>
<path d="M1297.7 701.7L1312.0 709.8L1326.6 718.0L1341.2 726.3L1356.0 734.7L1371.0 743.2L1386.1 751.8L1401.4 760.4L1416.9 769.1L1432.5 778.0L1448.2 786.9L1464.2 795.9L1480.3 805.0L1496.6 814.3L1513.1 823.6L1529.7 833.0L1546.5 842.5L1563.6 852.2L1580.8 861.9L1598.2 871.7L1615.8 881.7M1297.7 701.7L1281.9 707.7L1266.0 713.7L1249.9 719.7L1233.6 725.9L1217.2 732.1L1200.6 738.3L1183.9 744.6L1167.0 751.0L1149.9 757.5L1132.6 764.0L1115.2 770.5L1097.6 777.2L1079.8 783.9L1061.8 790.7L1043.7 797.5L1025.3 804.5L1006.8 811.5L988.0 818.5L969.1 825.7L949.9 832.9M1281.9 707.7L1296.3 715.7L1310.8 723.8L1325.4 731.9L1340.2 740.2L1355.2 748.5L1370.3 757.0L1385.6 765.5L1401.0 774.1L1416.7 782.8L1432.4 791.6L1448.4 800.5L1464.5 809.5L1480.8 818.6L1497.3 827.8L1514.0 837.1L1530.8 846.5L1547.9 856.0L1565.1 865.6L1582.5 875.3L1600.1 885.2M1312.0 709.8L1296.3 715.7L1280.3 721.6L1264.2 727.5L1247.9 733.5L1231.5 739.6L1214.9 745.7L1198.1 751.9L1181.2 758.1L1164.1 764.5L1146.8 770.9L1129.4 777.3L1111.7 783.8L1093.9 790.4L1075.9 797.1L1057.7 803.8L1039.3 810.6L1020.7 817.4L1001.9 824.4L982.9 831.4L963.7 838.5M1266.0 713.7L1280.3 721.6L1294.8 729.5L1309.4 737.6L1324.3 745.7L1339.2 753.9L1354.3 762.2L1369.6 770.6L1385.1 779.1L1400.7 787.7L1416.5 796.4L1432.4 805.2L1448.5 814.0L1464.9 823.0L1481.4 832.1L1498.0 841.2L1514.9 850.5L1532.0 859.9L1549.2 869.4L1566.7 879.0L1584.3 888.7M1326.6 718.0L1310.8 723.8L1294.8 729.5L1278.7 735.3L1262.4 741.2L1246.0 747.2L1229.3 753.2L1212.6 759.2L1195.6 765.4L1178.5 771.6L1161.2 777.8L1143.7 784.1L1126.0 790.5L1108.1 797.0L1090.1 803.5L1071.8 810.1L1053.4 816.8L1034.7 823.5L1015.9 830.3L996.8 837.2L977.6 844.1M1249.9 719.7L1264.2 727.5L1278.7 735.3L1293.3 743.3L1308.1 751.3L1323.1 759.4L1338.2 767.6L1353.5 775.8L1368.9 784.2L1384.5 792.7L1400.3 801.2L1416.3 809.9L1432.4 818.6L1448.7 827.4L1465.2 836.4L1481.9 845.4L1498.8 854.6L1515.9 863.8L1533.2 873.2L1550.6 882.6L1568.3 892.2M1341.2 726.3L1325.4 731.9L1309.4 737.6L1293.3 743.3L1277.0 749.0L1260.6 754.8L1243.9 760.7L1227.1 766.7L1210.1 772.7L1193.0 778.7L1175.7 784.9L1158.1 791.0L1140.4 797.3L1122.5 803.6L1104.4 810.0L1086.1 816.5L1067.7 823.0L1049.0 829.6L1030.1 836.3L1011.0 843.1L991.7 849.9M1233.6 725.9L1247.9 733.5L1262.4 741.2L1277.0 749.0L1291.8 756.9L1306.7 764.9L1321.9 772.9L1337.1 781.1L1352.6 789.3L1368.2 797.7L1384.0 806.1L1399.9 814.6L1416.1 823.2L1432.4 831.9L1448.9 840.7L1465.6 849.7L1482.5 858.7L1499.6 867.8L1516.9 877.0L1534.4 886.4L1552.1 895.8M1356.0 734.7L1340.2 740.2L1324.3 745.7L1308.1 751.3L1291.8 756.9L1275.3 762.6L1258.7 768.4L1241.9 774.2L1224.9 780.0L1207.7 786.0L1190.3 792.0L1172.8 798.0L1155.0 804.2L1137.1 810.4L1119.0 816.6L1100.6 823.0L1082.1 829.4L1063.4 835.8L1044.4 842.4L1025.3 849.0L1005.9 855.7M1217.2 732.1L1231.5 739.6L1246.0 747.2L1260.6 754.8L1275.3 762.6L1290.3 770.5L1305.4 778.4L1320.6 786.4L1336.1 794.5L1351.7 802.7L1367.4 811.0L1383.4 819.4L1399.6 827.9L1415.9 836.5L1432.4 845.2L1449.1 853.9L1466.0 862.8L1483.1 871.8L1500.4 880.9L1518.0 890.1L1535.7 899.4M1371.0 743.2L1355.2 748.5L1339.2 753.9L1323.1 759.4L1306.7 764.9L1290.3 770.5L1273.6 776.1L1256.8 781.8L1239.7 787.5L1222.5 793.3L1205.2 799.2L1187.6 805.1L1169.8 811.1L1151.9 817.2L1133.7 823.3L1115.3 829.5L1096.8 835.8L1078.0 842.1L1059.0 848.5L1039.8 855.0L1020.4 861.6M1200.6 738.3L1214.9 745.7L1229.3 753.2L1243.9 760.7L1258.7 768.4L1273.6 776.1L1288.7 783.9L1303.9 791.8L1319.4 799.8L1335.0 807.8L1350.7 816.0L1366.7 824.3L1382.8 832.6L1399.2 841.1L1415.7 849.6L1432.4 858.3L1449.3 867.0L1466.5 875.9L1483.8 884.9L1501.3 893.9L1519.1 903.1M1386.1 751.8L1370.3 757.0L1354.3 762.2L1338.2 767.6L1321.9 772.9L1305.4 778.4L1288.7 783.9L1271.8 789.4L1254.8 795.1L1237.6 800.7L1220.2 806.5L1202.6 812.3L1184.8 818.1L1166.8 824.1L1148.6 830.1L1130.2 836.1L1111.6 842.3L1092.8 848.5L1073.7 854.8L1054.5 861.1L1035.0 867.5M1183.9 744.6L1198.1 751.9L1212.6 759.2L1227.1 766.7L1241.9 774.2L1256.8 781.8L1271.8 789.4L1287.1 797.2L1302.5 805.1L1318.1 813.0L1333.8 821.0L1349.8 829.2L1365.9 837.4L1382.3 845.7L1398.8 854.1L1415.5 862.7L1432.5 871.3L1449.6 880.0L1466.9 888.8L1484.5 897.8L1502.2 906.8M1401.4 760.4L1385.6 765.5L1369.6 770.6L1353.5 775.8L1337.1 781.1L1320.6 786.4L1303.9 791.8L1287.1 797.2L1270.0 802.7L1252.8 808.2L1235.4 813.9L1217.7 819.5L1199.9 825.3L1181.9 831.1L1163.7 836.9L1145.2 842.9L1126.6 848.9L1107.7 854.9L1088.7 861.1L1069.4 867.3L1049.8 873.6M1167.0 751.0L1181.2 758.1L1195.6 765.4L1210.1 772.7L1224.9 780.0L1239.7 787.5L1254.8 795.1L1270.0 802.7L1285.4 810.4L1301.0 818.2L1316.8 826.1L1332.7 834.1L1348.9 842.2L1365.2 850.4L1381.7 858.7L1398.4 867.1L1415.4 875.6L1432.5 884.2L1449.8 892.9L1467.4 901.7L1485.2 910.6M1416.9 769.1L1401.0 774.1L1385.1 779.1L1368.9 784.2L1352.6 789.3L1336.1 794.5L1319.4 799.8L1302.5 805.1L1285.4 810.4L1268.2 815.8L1250.7 821.3L1233.1 826.9L1215.2 832.5L1197.2 838.1L1178.9 843.9L1160.5 849.7L1141.8 855.5L1122.9 861.5L1103.8 867.5L1084.4 873.5L1064.9 879.7M1149.9 757.5L1164.1 764.5L1178.5 771.6L1193.0 778.7L1207.7 786.0L1222.5 793.3L1237.6 800.7L1252.8 808.2L1268.2 815.8L1283.7 823.5L1299.5 831.3L1315.4 839.2L1331.6 847.1L1347.9 855.2L1364.4 863.3L1381.1 871.6L1398.1 880.0L1415.2 888.4L1432.6 897.0L1450.1 905.7L1467.9 914.4M1432.5 778.0L1416.7 782.8L1400.7 787.7L1384.5 792.7L1368.2 797.7L1351.7 802.7L1335.0 807.8L1318.1 813.0L1301.0 818.2L1283.7 823.5L1266.3 828.9L1248.6 834.3L1230.7 839.8L1212.7 845.3L1194.4 850.9L1175.9 856.5L1157.2 862.3L1138.3 868.1L1119.1 873.9L1099.7 879.9L1080.1 885.9M1132.6 764.0L1146.8 770.9L1161.2 777.8L1175.7 784.9L1190.3 792.0L1205.2 799.2L1220.2 806.5L1235.4 813.9L1250.7 821.3L1266.3 828.9L1282.0 836.5L1297.9 844.3L1314.1 852.1L1330.4 860.0L1346.9 868.0L1363.6 876.2L1380.5 884.4L1397.7 892.7L1415.0 901.1L1432.6 909.7L1450.4 918.3M1448.2 786.9L1432.4 791.6L1416.5 796.4L1400.3 801.2L1384.0 806.1L1367.4 811.0L1350.7 816.0L1333.8 821.0L1316.8 826.1L1299.5 831.3L1282.0 836.5L1264.3 841.8L1246.4 847.1L1228.4 852.5L1210.1 858.0L1191.5 863.5L1172.8 869.1L1153.8 874.8L1134.6 880.5L1115.2 886.3L1095.5 892.2M1115.2 770.5L1129.4 777.3L1143.7 784.1L1158.1 791.0L1172.8 798.0L1187.6 805.1L1202.6 812.3L1217.7 819.5L1233.1 826.9L1248.6 834.3L1264.3 841.8L1280.2 849.4L1296.4 857.1L1312.7 864.9L1329.2 872.8L1345.9 880.8L1362.8 888.8L1379.9 897.0L1397.3 905.3L1414.9 913.7L1432.7 922.2M1464.2 795.9L1448.4 800.5L1432.4 805.2L1416.3 809.9L1399.9 814.6L1383.4 819.4L1366.7 824.3L1349.8 829.2L1332.7 834.1L1315.4 839.2L1297.9 844.3L1280.2 849.4L1262.3 854.6L1244.2 859.9L1225.9 865.2L1207.4 870.6L1188.6 876.0L1169.6 881.6L1150.4 887.2L1130.9 892.8L1111.2 898.5M1097.6 777.2L1111.7 783.8L1126.0 790.5L1140.4 797.3L1155.0 804.2L1169.8 811.1L1184.8 818.1L1199.9 825.3L1215.2 832.5L1230.7 839.8L1246.4 847.1L1262.3 854.6L1278.4 862.2L1294.7 869.8L1311.2 877.6L1327.9 885.4L1344.9 893.4L1362.0 901.4L1379.3 909.6L1396.9 917.8L1414.7 926.2M1480.3 805.0L1464.5 809.5L1448.5 814.0L1432.4 818.6L1416.1 823.2L1399.6 827.9L1382.8 832.6L1365.9 837.4L1348.9 842.2L1331.6 847.1L1314.1 852.1L1296.4 857.1L1278.4 862.2L1260.3 867.3L1242.0 872.5L1223.4 877.7L1204.6 883.1L1185.6 888.4L1166.3 893.9L1146.8 899.4L1127.1 905.0M1079.8 783.9L1093.9 790.4L1108.1 797.0L1122.5 803.6L1137.1 810.4L1151.9 817.2L1166.8 824.1L1181.9 831.1L1197.2 838.1L1212.7 845.3L1228.4 852.5L1244.2 859.9L1260.3 867.3L1276.6 874.8L1293.1 882.4L1309.8 890.1L1326.7 898.0L1343.8 905.9L1361.2 913.9L1378.7 922.0L1396.6 930.2M1496.6 814.3L1480.8 818.6L1464.9 823.0L1448.7 827.4L1432.4 831.9L1415.9 836.5L1399.2 841.1L1382.3 845.7L1365.2 850.4L1347.9 855.2L1330.4 860.0L1312.7 864.9L1294.7 869.8L1276.6 874.8L1258.2 879.9L1239.6 885.0L1220.8 890.2L1201.7 895.4L1182.4 900.7L1162.9 906.1L1143.1 911.5M1061.8 790.7L1075.9 797.1L1090.1 803.5L1104.4 810.0L1119.0 816.6L1133.7 823.3L1148.6 830.1L1163.7 836.9L1178.9 843.9L1194.4 850.9L1210.1 858.0L1225.9 865.2L1242.0 872.5L1258.2 879.9L1274.7 887.3L1291.4 894.9L1308.3 902.6L1325.4 910.4L1342.7 918.2L1360.3 926.2L1378.1 934.3M1513.1 823.6L1497.3 827.8L1481.4 832.1L1465.2 836.4L1448.9 840.7L1432.4 845.2L1415.7 849.6L1398.8 854.1L1381.7 858.7L1364.4 863.3L1346.9 868.0L1329.2 872.8L1311.2 877.6L1293.1 882.4L1274.7 887.3L1256.1 892.3L1237.2 897.4L1218.1 902.5L1198.8 907.6L1179.2 912.9L1159.4 918.2M1043.7 797.5L1057.7 803.8L1071.8 810.1L1086.1 816.5L1100.6 823.0L1115.3 829.5L1130.2 836.1L1145.2 842.9L1160.5 849.7L1175.9 856.5L1191.5 863.5L1207.4 870.6L1223.4 877.7L1239.6 885.0L1256.1 892.3L1272.7 899.8L1289.6 907.3L1306.7 914.9L1324.1 922.7L1341.6 930.5L1359.4 938.5M1529.7 833.0L1514.0 837.1L1498.0 841.2L1481.9 845.4L1465.6 849.7L1449.1 853.9L1432.4 858.3L1415.5 862.7L1398.4 867.1L1381.1 871.6L1363.6 876.2L1345.9 880.8L1327.9 885.4L1309.8 890.1L1291.4 894.9L1272.7 899.8L1253.9 904.7L1234.8 909.6L1215.4 914.7L1195.8 919.7L1176.0 924.9M1025.3 804.5L1039.3 810.6L1053.4 816.8L1067.7 823.0L1082.1 829.4L1096.8 835.8L1111.6 842.3L1126.6 848.9L1141.8 855.5L1157.2 862.3L1172.8 869.1L1188.6 876.0L1204.6 883.1L1220.8 890.2L1237.2 897.4L1253.9 904.7L1270.7 912.1L1287.8 919.6L1305.1 927.1L1322.7 934.8L1340.5 942.7M1546.5 842.5L1530.8 846.5L1514.9 850.5L1498.8 854.6L1482.5 858.7L1466.0 862.8L1449.3 867.0L1432.5 871.3L1415.4 875.6L1398.1 880.0L1380.5 884.4L1362.8 888.8L1344.9 893.4L1326.7 898.0L1308.3 902.6L1289.6 907.3L1270.7 912.1L1251.6 916.9L1232.2 921.8L1212.6 926.7L1192.7 931.7M1006.8 811.5L1020.7 817.4L1034.7 823.5L1049.0 829.6L1063.4 835.8L1078.0 842.1L1092.8 848.5L1107.7 854.9L1122.9 861.5L1138.3 868.1L1153.8 874.8L1169.6 881.6L1185.6 888.4L1201.7 895.4L1218.1 902.5L1234.8 909.6L1251.6 916.9L1268.7 924.2L1286.0 931.7L1303.5 939.2L1321.3 946.9M1563.6 852.2L1547.9 856.0L1532.0 859.9L1515.9 863.8L1499.6 867.8L1483.1 871.8L1466.5 875.9L1449.6 880.0L1432.5 884.2L1415.2 888.4L1397.7 892.7L1379.9 897.0L1362.0 901.4L1343.8 905.9L1325.4 910.4L1306.7 914.9L1287.8 919.6L1268.7 924.2L1249.3 929.0L1229.6 933.8L1209.7 938.6M988.0 818.5L1001.9 824.4L1015.9 830.3L1030.1 836.3L1044.4 842.4L1059.0 848.5L1073.7 854.8L1088.7 861.1L1103.8 867.5L1119.1 873.9L1134.6 880.5L1150.4 887.2L1166.3 893.9L1182.4 900.7L1198.8 907.6L1215.4 914.7L1232.2 921.8L1249.3 929.0L1266.6 936.3L1284.1 943.7L1301.9 951.2M1580.8 861.9L1565.1 865.6L1549.2 869.4L1533.2 873.2L1516.9 877.0L1500.4 880.9L1483.8 884.9L1466.9 888.8L1449.8 892.9L1432.6 897.0L1415.0 901.1L1397.3 905.3L1379.3 909.6L1361.2 913.9L1342.7 918.2L1324.1 922.7L1305.1 927.1L1286.0 931.7L1266.6 936.3L1246.9 940.9L1226.9 945.7M969.1 825.7L982.9 831.4L996.8 837.2L1011.0 843.1L1025.3 849.0L1039.8 855.0L1054.5 861.1L1069.4 867.3L1084.4 873.5L1099.7 879.9L1115.2 886.3L1130.9 892.8L1146.8 899.4L1162.9 906.1L1179.2 912.9L1195.8 919.7L1212.6 926.7L1229.6 933.8L1246.9 940.9L1264.4 948.2L1282.2 955.6M1598.2 871.7L1582.5 875.3L1566.7 879.0L1550.6 882.6L1534.4 886.4L1518.0 890.1L1501.3 893.9L1484.5 897.8L1467.4 901.7L1450.1 905.7L1432.6 909.7L1414.9 913.7L1396.9 917.8L1378.7 922.0L1360.3 926.2L1341.6 930.5L1322.7 934.8L1303.5 939.2L1284.1 943.7L1264.4 948.2L1244.4 952.8M949.9 832.9L963.7 838.5L977.6 844.1L991.7 849.9L1005.9 855.7L1020.4 861.6L1035.0 867.5L1049.8 873.6L1064.9 879.7L1080.1 885.9L1095.5 892.2L1111.2 898.5L1127.1 905.0L1143.1 911.5L1159.4 918.2L1176.0 924.9L1192.7 931.7L1209.7 938.6L1226.9 945.7L1244.4 952.8L1262.2 960.0M1615.8 881.7L1600.1 885.2L1584.3 888.7L1568.3 892.2L1552.1 895.8L1535.7 899.4L1519.1 903.1L1502.2 906.8L1485.2 910.6L1467.9 914.4L1450.4 918.3L1432.7 922.2L1414.7 926.2L1396.6 930.2L1378.1 934.3L1359.4 938.5L1340.5 942.7L1321.3 946.9L1301.9 951.2L1282.2 955.6L1262.2 960.0" fill="none" stroke="#000" stroke-opacity="0.8" stroke-width="1.15" stroke-linejoin="round" stroke-linecap="round"/>
<line x1="1262.7" y1="943.6" x2="1262.9" y2="960.0" stroke="#222" stroke-width="1.1"/>
<ellipse cx="948.8" cy="814.7" rx="5.7" ry="4.8" fill="#cc0a0a" stroke="#640000" stroke-width="1.3"/>
<ellipse cx="1297.0" cy="696.3" rx="5.7" ry="4.8" fill="#cc0a0a" stroke="#640000" stroke-width="1.3"/>
<ellipse cx="1616.0" cy="873.7" rx="5.7" ry="4.8" fill="#cc0a0a" stroke="#640000" stroke-width="1.3"/>
<ellipse cx="1262.7" cy="943.6" rx="5.7" ry="4.8" fill="#cc0a0a" stroke="#640000" stroke-width="1.3"/>
<text transform="translate(842.9000000000001,848.6) rotate(-90)" font-size="25.2" text-anchor="middle" fill="#2a2a2a">PDI</text>
<text x="900.7" y="1138.8" font-size="24.5" fill="#2a2a2a" textLength="162.8" lengthAdjust="spacingAndGlyphs">B: Pluronic (%)</text>
<text x="1465.9" y="1138.4" font-size="23.8" fill="#111" stroke="#111" stroke-width="0.3" textLength="94.6" lengthAdjust="spacingAndGlyphs">A: SL (%)</text></g>
</svg>
</body></html>
